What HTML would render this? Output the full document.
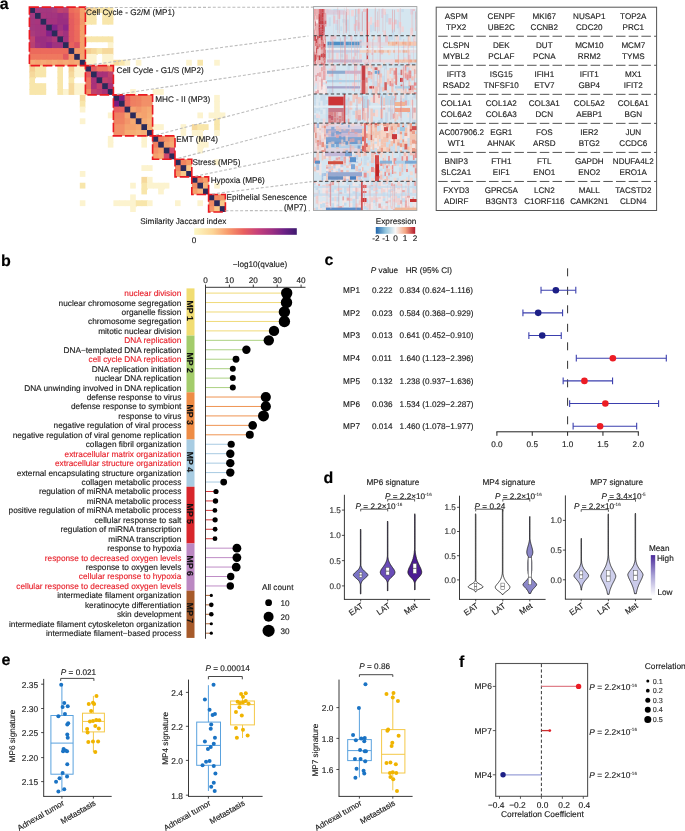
<!DOCTYPE html>
<html><head><meta charset="utf-8"><title>Figure</title>
<style>
html,body{margin:0;padding:0;background:#fff;}
body{width:685px;height:831px;overflow:hidden;}
svg{display:block;font-family:"Liberation Sans", sans-serif;text-rendering:geometricPrecision;will-change:transform;}
text{stroke-width:0.14px;stroke-linejoin:round;}
</style></head><body>
<svg width="685" height="831" viewBox="0 0 685 831">
<rect x="0" y="0" width="685" height="831" fill="#fff"/>
<defs><filter id="hmblur" x="-2%" y="-2%" width="104%" height="104%"><feGaussianBlur stdDeviation="0.3"/></filter></defs><g filter="url(#hmblur)">
<rect x="29.40" y="7.10" width="6.60" height="6.85" fill="#2b2a5a"/>
<rect x="35.00" y="7.10" width="6.60" height="6.85" fill="#a3377f"/>
<rect x="40.60" y="7.10" width="6.60" height="6.85" fill="#a3377f"/>
<rect x="46.20" y="7.10" width="6.60" height="6.85" fill="#a3377f"/>
<rect x="51.80" y="7.10" width="6.60" height="6.85" fill="#a93a7c"/>
<rect x="57.40" y="7.10" width="6.60" height="6.85" fill="#bf436f"/>
<rect x="63.00" y="7.10" width="6.60" height="6.85" fill="#b83f72"/>
<rect x="68.60" y="7.10" width="6.60" height="6.85" fill="#ec6c5c"/>
<rect x="74.20" y="7.10" width="6.60" height="6.85" fill="#ee745c"/>
<rect x="79.80" y="7.10" width="6.60" height="6.85" fill="#f4a06a"/>
<rect x="85.40" y="7.10" width="6.60" height="6.85" fill="#f5cf92"/>
<rect x="91.00" y="7.10" width="6.60" height="6.85" fill="#f6d99c"/>
<rect x="96.60" y="7.10" width="6.60" height="5.85" fill="#f8e6ab"/>
<rect x="102.20" y="7.10" width="6.60" height="6.85" fill="#f8e6ab"/>
<rect x="107.80" y="7.10" width="5.60" height="6.85" fill="#f8e6ab"/>
<rect x="29.40" y="12.95" width="6.60" height="6.85" fill="#a3377f"/>
<rect x="35.00" y="12.95" width="6.60" height="6.85" fill="#2b2a5a"/>
<rect x="40.60" y="12.95" width="6.60" height="6.85" fill="#a8357d"/>
<rect x="46.20" y="12.95" width="6.60" height="6.85" fill="#a3347f"/>
<rect x="51.80" y="12.95" width="6.60" height="6.85" fill="#a3347f"/>
<rect x="57.40" y="12.95" width="6.60" height="6.85" fill="#9c2f80"/>
<rect x="63.00" y="12.95" width="6.60" height="6.85" fill="#a0307f"/>
<rect x="68.60" y="12.95" width="6.60" height="6.85" fill="#e6605c"/>
<rect x="74.20" y="12.95" width="6.60" height="6.85" fill="#ed6d5c"/>
<rect x="79.80" y="12.95" width="6.60" height="6.85" fill="#f4a06a"/>
<rect x="85.40" y="12.95" width="6.60" height="6.85" fill="#f8e6ab"/>
<rect x="91.00" y="12.95" width="5.60" height="6.85" fill="#f8e6ab"/>
<rect x="102.20" y="12.95" width="6.60" height="6.85" fill="#f8e6ab"/>
<rect x="107.80" y="12.95" width="5.60" height="6.85" fill="#f8e6ab"/>
<rect x="29.40" y="18.81" width="6.60" height="6.85" fill="#a3377f"/>
<rect x="35.00" y="18.81" width="6.60" height="6.85" fill="#a8357d"/>
<rect x="40.60" y="18.81" width="6.60" height="6.85" fill="#2b2a5a"/>
<rect x="46.20" y="18.81" width="6.60" height="6.85" fill="#a5337e"/>
<rect x="51.80" y="18.81" width="6.60" height="6.85" fill="#a5337e"/>
<rect x="57.40" y="18.81" width="6.60" height="6.85" fill="#9a2e80"/>
<rect x="63.00" y="18.81" width="6.60" height="6.85" fill="#9a2e80"/>
<rect x="68.60" y="18.81" width="6.60" height="6.85" fill="#e45c5e"/>
<rect x="74.20" y="18.81" width="6.60" height="6.85" fill="#ec6a5c"/>
<rect x="79.80" y="18.81" width="6.60" height="6.85" fill="#f3986a"/>
<rect x="85.40" y="18.81" width="6.60" height="5.85" fill="#f8e6ab"/>
<rect x="91.00" y="18.81" width="5.60" height="5.85" fill="#f8e6ab"/>
<rect x="102.20" y="18.81" width="6.60" height="5.85" fill="#f8e6ab"/>
<rect x="107.80" y="18.81" width="5.60" height="5.85" fill="#f8e6ab"/>
<rect x="29.40" y="24.66" width="6.60" height="6.85" fill="#a3377f"/>
<rect x="35.00" y="24.66" width="6.60" height="6.85" fill="#a3347f"/>
<rect x="40.60" y="24.66" width="6.60" height="6.85" fill="#a5337e"/>
<rect x="46.20" y="24.66" width="6.60" height="6.85" fill="#2b2a5a"/>
<rect x="51.80" y="24.66" width="6.60" height="6.85" fill="#84208a"/>
<rect x="57.40" y="24.66" width="6.60" height="6.85" fill="#a0307f"/>
<rect x="63.00" y="24.66" width="6.60" height="6.85" fill="#8e2588"/>
<rect x="68.60" y="24.66" width="6.60" height="6.85" fill="#e45c5e"/>
<rect x="74.20" y="24.66" width="6.60" height="6.85" fill="#ed6d5c"/>
<rect x="79.80" y="24.66" width="5.60" height="6.85" fill="#f4a06a"/>
<rect x="29.40" y="30.52" width="6.60" height="6.85" fill="#a93a7c"/>
<rect x="35.00" y="30.52" width="6.60" height="6.85" fill="#a3347f"/>
<rect x="40.60" y="30.52" width="6.60" height="6.85" fill="#a5337e"/>
<rect x="46.20" y="30.52" width="6.60" height="6.85" fill="#84208a"/>
<rect x="51.80" y="30.52" width="6.60" height="6.85" fill="#2b2a5a"/>
<rect x="57.40" y="30.52" width="6.60" height="6.85" fill="#b0387a"/>
<rect x="63.00" y="30.52" width="6.60" height="6.85" fill="#a0307f"/>
<rect x="68.60" y="30.52" width="6.60" height="6.85" fill="#e45c5e"/>
<rect x="74.20" y="30.52" width="6.60" height="6.85" fill="#ec6a5c"/>
<rect x="79.80" y="30.52" width="5.60" height="6.85" fill="#f4a06a"/>
<rect x="29.40" y="36.37" width="6.60" height="6.85" fill="#bf436f"/>
<rect x="35.00" y="36.37" width="6.60" height="6.85" fill="#9c2f80"/>
<rect x="40.60" y="36.37" width="6.60" height="6.85" fill="#9a2e80"/>
<rect x="46.20" y="36.37" width="6.60" height="6.85" fill="#a0307f"/>
<rect x="51.80" y="36.37" width="6.60" height="6.85" fill="#b0387a"/>
<rect x="57.40" y="36.37" width="6.60" height="6.85" fill="#2b2a5a"/>
<rect x="63.00" y="36.37" width="6.60" height="6.85" fill="#a0307f"/>
<rect x="68.60" y="36.37" width="6.60" height="6.85" fill="#e45c5e"/>
<rect x="74.20" y="36.37" width="6.60" height="6.85" fill="#ec6a5c"/>
<rect x="79.80" y="36.37" width="6.60" height="6.85" fill="#f4a06a"/>
<rect x="85.40" y="36.37" width="6.60" height="5.85" fill="#f8e6ab"/>
<rect x="91.00" y="36.37" width="6.60" height="5.85" fill="#f8e6ab"/>
<rect x="96.60" y="36.37" width="6.60" height="5.85" fill="#f8e6ab"/>
<rect x="102.20" y="36.37" width="6.60" height="5.85" fill="#f8e6ab"/>
<rect x="107.80" y="36.37" width="5.60" height="6.85" fill="#f8e6ab"/>
<rect x="29.40" y="42.22" width="6.60" height="6.85" fill="#b83f72"/>
<rect x="35.00" y="42.22" width="6.60" height="6.85" fill="#a0307f"/>
<rect x="40.60" y="42.22" width="6.60" height="6.85" fill="#9a2e80"/>
<rect x="46.20" y="42.22" width="6.60" height="6.85" fill="#8e2588"/>
<rect x="51.80" y="42.22" width="6.60" height="6.85" fill="#a0307f"/>
<rect x="57.40" y="42.22" width="6.60" height="6.85" fill="#a0307f"/>
<rect x="63.00" y="42.22" width="6.60" height="6.85" fill="#2b2a5a"/>
<rect x="68.60" y="42.22" width="6.60" height="6.85" fill="#e8645d"/>
<rect x="74.20" y="42.22" width="6.60" height="6.85" fill="#dc5262"/>
<rect x="79.80" y="42.22" width="5.60" height="6.85" fill="#f4a06a"/>
<rect x="107.80" y="42.22" width="5.60" height="6.85" fill="#fcf3cf"/>
<rect x="29.40" y="48.08" width="6.60" height="6.85" fill="#ec6a5c"/>
<rect x="35.00" y="48.08" width="6.60" height="6.85" fill="#ec6a5c"/>
<rect x="40.60" y="48.08" width="6.60" height="6.85" fill="#ec6a5c"/>
<rect x="46.20" y="48.08" width="6.60" height="6.85" fill="#ec6a5c"/>
<rect x="51.80" y="48.08" width="6.60" height="6.85" fill="#ec6a5c"/>
<rect x="57.40" y="48.08" width="6.60" height="6.85" fill="#ec6a5c"/>
<rect x="63.00" y="48.08" width="6.60" height="6.85" fill="#ec6a5c"/>
<rect x="68.60" y="48.08" width="6.60" height="6.85" fill="#2b2a5a"/>
<rect x="74.20" y="48.08" width="6.60" height="6.85" fill="#f29868"/>
<rect x="79.80" y="48.08" width="6.60" height="6.85" fill="#f4a06a"/>
<rect x="85.40" y="48.08" width="6.60" height="6.85" fill="#f5cf92"/>
<rect x="91.00" y="48.08" width="6.60" height="6.85" fill="#f6d99c"/>
<rect x="96.60" y="48.08" width="6.60" height="5.85" fill="#f8e6ab"/>
<rect x="102.20" y="48.08" width="6.60" height="6.85" fill="#f6d99c"/>
<rect x="107.80" y="48.08" width="5.60" height="6.85" fill="#f6d99c"/>
<rect x="29.40" y="53.93" width="6.60" height="6.85" fill="#ef785e"/>
<rect x="35.00" y="53.93" width="6.60" height="6.85" fill="#ef785e"/>
<rect x="40.60" y="53.93" width="6.60" height="6.85" fill="#ef785e"/>
<rect x="46.20" y="53.93" width="6.60" height="6.85" fill="#ef785e"/>
<rect x="51.80" y="53.93" width="6.60" height="6.85" fill="#ef785e"/>
<rect x="57.40" y="53.93" width="6.60" height="6.85" fill="#ef785e"/>
<rect x="63.00" y="53.93" width="6.60" height="6.85" fill="#e25a60"/>
<rect x="68.60" y="53.93" width="6.60" height="6.85" fill="#f29868"/>
<rect x="74.20" y="53.93" width="6.60" height="6.85" fill="#2b2a5a"/>
<rect x="79.80" y="53.93" width="6.60" height="6.85" fill="#f4a470"/>
<rect x="85.40" y="53.93" width="6.60" height="6.85" fill="#fcf3cf"/>
<rect x="91.00" y="53.93" width="5.60" height="6.85" fill="#fcf3cf"/>
<rect x="102.20" y="53.93" width="6.60" height="6.85" fill="#fcf3cf"/>
<rect x="107.80" y="53.93" width="5.60" height="6.85" fill="#fcf3cf"/>
<rect x="29.40" y="59.79" width="6.60" height="6.85" fill="#f5aa74"/>
<rect x="35.00" y="59.79" width="6.60" height="6.85" fill="#f4a470"/>
<rect x="40.60" y="59.79" width="6.60" height="6.85" fill="#f5aa74"/>
<rect x="46.20" y="59.79" width="6.60" height="5.85" fill="#f4a470"/>
<rect x="51.80" y="59.79" width="6.60" height="5.85" fill="#f5aa74"/>
<rect x="57.40" y="59.79" width="6.60" height="6.85" fill="#f4a470"/>
<rect x="63.00" y="59.79" width="6.60" height="5.85" fill="#f5aa74"/>
<rect x="68.60" y="59.79" width="6.60" height="6.85" fill="#f4a470"/>
<rect x="74.20" y="59.79" width="6.60" height="6.85" fill="#f5aa74"/>
<rect x="79.80" y="59.79" width="6.60" height="6.85" fill="#2b2a5a"/>
<rect x="85.40" y="59.79" width="6.60" height="6.85" fill="#fcf3cf"/>
<rect x="91.00" y="59.79" width="5.60" height="6.85" fill="#fcf3cf"/>
<rect x="102.20" y="59.79" width="6.60" height="6.85" fill="#fcf3cf"/>
<rect x="107.80" y="59.79" width="6.60" height="6.85" fill="#fcf3cf"/>
<rect x="113.40" y="59.79" width="6.60" height="5.85" fill="#f6d99c"/>
<rect x="119.00" y="59.79" width="6.60" height="5.85" fill="#f8e6ab"/>
<rect x="124.60" y="59.79" width="5.60" height="5.85" fill="#fcf3cf"/>
<rect x="135.80" y="59.79" width="5.60" height="5.85" fill="#fcf3cf"/>
<rect x="186.20" y="59.79" width="5.60" height="5.85" fill="#fcf3cf"/>
<rect x="197.40" y="59.79" width="5.60" height="5.85" fill="#f8e6ab"/>
<rect x="214.20" y="59.79" width="5.60" height="5.85" fill="#fcf3cf"/>
<rect x="29.40" y="65.64" width="6.60" height="6.85" fill="#f5cf92"/>
<rect x="35.00" y="65.64" width="6.60" height="6.85" fill="#f8e6ab"/>
<rect x="40.60" y="65.64" width="5.60" height="6.85" fill="#f8e6ab"/>
<rect x="57.40" y="65.64" width="5.60" height="6.85" fill="#f8e6ab"/>
<rect x="68.60" y="65.64" width="6.60" height="6.85" fill="#f5cf92"/>
<rect x="74.20" y="65.64" width="6.60" height="6.85" fill="#fcf3cf"/>
<rect x="79.80" y="65.64" width="6.60" height="6.85" fill="#fcf3cf"/>
<rect x="85.40" y="65.64" width="6.60" height="6.85" fill="#2b2a5a"/>
<rect x="91.00" y="65.64" width="6.60" height="6.85" fill="#e35a5e"/>
<rect x="96.60" y="65.64" width="6.60" height="6.85" fill="#ec7560"/>
<rect x="102.20" y="65.64" width="6.60" height="6.85" fill="#ec7560"/>
<rect x="107.80" y="65.64" width="5.60" height="6.85" fill="#f08a62"/>
<rect x="29.40" y="71.49" width="6.60" height="6.85" fill="#f6d99c"/>
<rect x="35.00" y="71.49" width="6.60" height="5.85" fill="#f8e6ab"/>
<rect x="40.60" y="71.49" width="5.60" height="5.85" fill="#f8e6ab"/>
<rect x="57.40" y="71.49" width="5.60" height="6.85" fill="#f8e6ab"/>
<rect x="68.60" y="71.49" width="6.60" height="6.85" fill="#f6d99c"/>
<rect x="74.20" y="71.49" width="6.60" height="5.85" fill="#fcf3cf"/>
<rect x="79.80" y="71.49" width="6.60" height="5.85" fill="#fcf3cf"/>
<rect x="85.40" y="71.49" width="6.60" height="6.85" fill="#e35a5e"/>
<rect x="91.00" y="71.49" width="6.60" height="6.85" fill="#2b2a5a"/>
<rect x="96.60" y="71.49" width="6.60" height="6.85" fill="#a83079"/>
<rect x="102.20" y="71.49" width="6.60" height="6.85" fill="#a83079"/>
<rect x="107.80" y="71.49" width="5.60" height="6.85" fill="#c0406c"/>
<rect x="29.40" y="77.35" width="5.60" height="6.85" fill="#f8e6ab"/>
<rect x="57.40" y="77.35" width="5.60" height="6.85" fill="#f8e6ab"/>
<rect x="68.60" y="77.35" width="5.60" height="6.85" fill="#f8e6ab"/>
<rect x="85.40" y="77.35" width="6.60" height="6.85" fill="#ec7560"/>
<rect x="91.00" y="77.35" width="6.60" height="6.85" fill="#a83079"/>
<rect x="96.60" y="77.35" width="6.60" height="6.85" fill="#2b2a5a"/>
<rect x="102.20" y="77.35" width="6.60" height="6.85" fill="#c2406c"/>
<rect x="107.80" y="77.35" width="5.60" height="6.85" fill="#b83a70"/>
<rect x="29.40" y="83.20" width="6.60" height="6.85" fill="#f8e6ab"/>
<rect x="35.00" y="83.20" width="6.60" height="6.85" fill="#f8e6ab"/>
<rect x="40.60" y="83.20" width="5.60" height="6.85" fill="#f8e6ab"/>
<rect x="57.40" y="83.20" width="5.60" height="6.85" fill="#f8e6ab"/>
<rect x="68.60" y="83.20" width="6.60" height="6.85" fill="#f6d99c"/>
<rect x="74.20" y="83.20" width="6.60" height="6.85" fill="#fcf3cf"/>
<rect x="79.80" y="83.20" width="6.60" height="6.85" fill="#fcf3cf"/>
<rect x="85.40" y="83.20" width="6.60" height="6.85" fill="#ec7560"/>
<rect x="91.00" y="83.20" width="6.60" height="6.85" fill="#a83079"/>
<rect x="96.60" y="83.20" width="6.60" height="6.85" fill="#c2406c"/>
<rect x="102.20" y="83.20" width="6.60" height="6.85" fill="#2b2a5a"/>
<rect x="107.80" y="83.20" width="5.60" height="6.85" fill="#a93077"/>
<rect x="29.40" y="89.06" width="6.60" height="5.85" fill="#f8e6ab"/>
<rect x="35.00" y="89.06" width="6.60" height="5.85" fill="#f8e6ab"/>
<rect x="40.60" y="89.06" width="5.60" height="5.85" fill="#f8e6ab"/>
<rect x="57.40" y="89.06" width="6.60" height="5.85" fill="#f8e6ab"/>
<rect x="63.00" y="89.06" width="6.60" height="5.85" fill="#fcf3cf"/>
<rect x="68.60" y="89.06" width="6.60" height="5.85" fill="#f6d99c"/>
<rect x="74.20" y="89.06" width="6.60" height="5.85" fill="#fcf3cf"/>
<rect x="79.80" y="89.06" width="6.60" height="6.85" fill="#fcf3cf"/>
<rect x="85.40" y="89.06" width="6.60" height="5.85" fill="#f08a62"/>
<rect x="91.00" y="89.06" width="6.60" height="5.85" fill="#c0406c"/>
<rect x="96.60" y="89.06" width="6.60" height="5.85" fill="#b83a70"/>
<rect x="102.20" y="89.06" width="6.60" height="5.85" fill="#a93077"/>
<rect x="107.80" y="89.06" width="5.60" height="5.85" fill="#2b2a5a"/>
<rect x="130.20" y="89.06" width="5.60" height="6.85" fill="#fcf3cf"/>
<rect x="152.60" y="89.06" width="6.60" height="5.85" fill="#fcf3cf"/>
<rect x="158.20" y="89.06" width="5.60" height="5.85" fill="#fcf3cf"/>
<rect x="79.80" y="94.91" width="5.60" height="6.85" fill="#f6d99c"/>
<rect x="113.40" y="94.91" width="6.60" height="6.85" fill="#2b2a5a"/>
<rect x="119.00" y="94.91" width="6.60" height="6.85" fill="#7b1d80"/>
<rect x="124.60" y="94.91" width="6.60" height="6.85" fill="#e8605e"/>
<rect x="130.20" y="94.91" width="6.60" height="6.85" fill="#ef7f62"/>
<rect x="135.80" y="94.91" width="6.60" height="6.85" fill="#ef8362"/>
<rect x="141.40" y="94.91" width="6.60" height="6.85" fill="#f29068"/>
<rect x="147.00" y="94.91" width="5.60" height="6.85" fill="#f29068"/>
<rect x="214.20" y="94.91" width="5.60" height="6.85" fill="#fcf3cf"/>
<rect x="79.80" y="100.76" width="5.60" height="6.85" fill="#f8e6ab"/>
<rect x="113.40" y="100.76" width="6.60" height="6.85" fill="#7b1d80"/>
<rect x="119.00" y="100.76" width="6.60" height="6.85" fill="#2b2a5a"/>
<rect x="124.60" y="100.76" width="6.60" height="6.85" fill="#e8645e"/>
<rect x="130.20" y="100.76" width="6.60" height="6.85" fill="#ef7f62"/>
<rect x="135.80" y="100.76" width="6.60" height="6.85" fill="#ef8362"/>
<rect x="141.40" y="100.76" width="6.60" height="6.85" fill="#f29068"/>
<rect x="147.00" y="100.76" width="5.60" height="6.85" fill="#f29068"/>
<rect x="214.20" y="100.76" width="5.60" height="6.85" fill="#fcf3cf"/>
<rect x="79.80" y="106.62" width="5.60" height="5.85" fill="#fcf3cf"/>
<rect x="113.40" y="106.62" width="6.60" height="6.85" fill="#e8605e"/>
<rect x="119.00" y="106.62" width="6.60" height="6.85" fill="#e8645e"/>
<rect x="124.60" y="106.62" width="6.60" height="6.85" fill="#2b2a5a"/>
<rect x="130.20" y="106.62" width="6.60" height="6.85" fill="#f4a26e"/>
<rect x="135.80" y="106.62" width="6.60" height="6.85" fill="#f2966a"/>
<rect x="141.40" y="106.62" width="6.60" height="6.85" fill="#f4a26e"/>
<rect x="147.00" y="106.62" width="5.60" height="6.85" fill="#f5aa72"/>
<rect x="214.20" y="106.62" width="5.60" height="6.85" fill="#fcf3cf"/>
<rect x="107.80" y="112.47" width="6.60" height="5.85" fill="#fcf3cf"/>
<rect x="113.40" y="112.47" width="6.60" height="6.85" fill="#ef7f62"/>
<rect x="119.00" y="112.47" width="6.60" height="6.85" fill="#ef7f62"/>
<rect x="124.60" y="112.47" width="6.60" height="6.85" fill="#f4a26e"/>
<rect x="130.20" y="112.47" width="6.60" height="6.85" fill="#2b2a5a"/>
<rect x="135.80" y="112.47" width="6.60" height="6.85" fill="#f5a870"/>
<rect x="141.40" y="112.47" width="6.60" height="6.85" fill="#f4a26e"/>
<rect x="147.00" y="112.47" width="5.60" height="6.85" fill="#f5ae74"/>
<rect x="197.40" y="112.47" width="5.60" height="5.85" fill="#fcf3cf"/>
<rect x="208.60" y="112.47" width="6.60" height="5.85" fill="#fcf3cf"/>
<rect x="214.20" y="112.47" width="6.60" height="6.85" fill="#fcf3cf"/>
<rect x="219.80" y="112.47" width="5.60" height="5.85" fill="#fcf3cf"/>
<rect x="79.80" y="118.33" width="5.60" height="5.85" fill="#fcf3cf"/>
<rect x="113.40" y="118.33" width="6.60" height="6.85" fill="#ef8362"/>
<rect x="119.00" y="118.33" width="6.60" height="6.85" fill="#ef8362"/>
<rect x="124.60" y="118.33" width="6.60" height="6.85" fill="#f2966a"/>
<rect x="130.20" y="118.33" width="6.60" height="6.85" fill="#f5a870"/>
<rect x="135.80" y="118.33" width="6.60" height="6.85" fill="#2b2a5a"/>
<rect x="141.40" y="118.33" width="6.60" height="6.85" fill="#f5aa72"/>
<rect x="147.00" y="118.33" width="5.60" height="6.85" fill="#f6b47a"/>
<rect x="214.20" y="118.33" width="5.60" height="6.85" fill="#f8e6ab"/>
<rect x="113.40" y="124.18" width="6.60" height="6.85" fill="#f29068"/>
<rect x="119.00" y="124.18" width="6.60" height="6.85" fill="#f29068"/>
<rect x="124.60" y="124.18" width="6.60" height="6.85" fill="#f4a26e"/>
<rect x="130.20" y="124.18" width="6.60" height="6.85" fill="#f4a26e"/>
<rect x="135.80" y="124.18" width="6.60" height="6.85" fill="#f5aa72"/>
<rect x="141.40" y="124.18" width="6.60" height="6.85" fill="#2b2a5a"/>
<rect x="147.00" y="124.18" width="6.60" height="6.85" fill="#f5ae74"/>
<rect x="152.60" y="124.18" width="6.60" height="5.85" fill="#fcf3cf"/>
<rect x="158.20" y="124.18" width="5.60" height="5.85" fill="#fcf3cf"/>
<rect x="180.60" y="124.18" width="5.60" height="6.85" fill="#fcf3cf"/>
<rect x="191.80" y="124.18" width="6.60" height="6.85" fill="#f6d99c"/>
<rect x="197.40" y="124.18" width="6.60" height="6.85" fill="#f8e6ab"/>
<rect x="203.00" y="124.18" width="5.60" height="5.85" fill="#f8e6ab"/>
<rect x="214.20" y="124.18" width="5.60" height="6.85" fill="#f8e6ab"/>
<rect x="113.40" y="130.03" width="6.60" height="5.85" fill="#f29068"/>
<rect x="119.00" y="130.03" width="6.60" height="5.85" fill="#f29068"/>
<rect x="124.60" y="130.03" width="6.60" height="5.85" fill="#f5aa72"/>
<rect x="130.20" y="130.03" width="6.60" height="5.85" fill="#f5ae74"/>
<rect x="135.80" y="130.03" width="6.60" height="5.85" fill="#f6b47a"/>
<rect x="141.40" y="130.03" width="6.60" height="6.85" fill="#f5ae74"/>
<rect x="147.00" y="130.03" width="5.60" height="5.85" fill="#2b2a5a"/>
<rect x="180.60" y="130.03" width="5.60" height="5.85" fill="#fcf3cf"/>
<rect x="191.80" y="130.03" width="6.60" height="5.85" fill="#fcf3cf"/>
<rect x="197.40" y="130.03" width="5.60" height="6.85" fill="#fcf3cf"/>
<rect x="214.20" y="130.03" width="5.60" height="5.85" fill="#fcf3cf"/>
<rect x="107.80" y="135.89" width="5.60" height="6.85" fill="#fcf3cf"/>
<rect x="141.40" y="135.89" width="5.60" height="6.85" fill="#fcf3cf"/>
<rect x="152.60" y="135.89" width="6.60" height="6.85" fill="#2b2a5a"/>
<rect x="158.20" y="135.89" width="6.60" height="6.85" fill="#f07f60"/>
<rect x="163.80" y="135.89" width="6.60" height="6.85" fill="#f29068"/>
<rect x="169.40" y="135.89" width="5.60" height="6.85" fill="#f4a06c"/>
<rect x="197.40" y="135.89" width="5.60" height="6.85" fill="#fcf3cf"/>
<rect x="107.80" y="141.74" width="5.60" height="5.85" fill="#fcf3cf"/>
<rect x="141.40" y="141.74" width="5.60" height="5.85" fill="#fcf3cf"/>
<rect x="152.60" y="141.74" width="6.60" height="6.85" fill="#f07f60"/>
<rect x="158.20" y="141.74" width="6.60" height="6.85" fill="#2b2a5a"/>
<rect x="163.80" y="141.74" width="6.60" height="6.85" fill="#f4a06c"/>
<rect x="169.40" y="141.74" width="5.60" height="6.85" fill="#f5aa72"/>
<rect x="197.40" y="141.74" width="6.60" height="6.85" fill="#fcf3cf"/>
<rect x="203.00" y="141.74" width="5.60" height="5.85" fill="#fcf3cf"/>
<rect x="152.60" y="147.60" width="6.60" height="6.85" fill="#f29068"/>
<rect x="158.20" y="147.60" width="6.60" height="6.85" fill="#f4a06c"/>
<rect x="163.80" y="147.60" width="6.60" height="6.85" fill="#2b2a5a"/>
<rect x="169.40" y="147.60" width="5.60" height="6.85" fill="#d0486a"/>
<rect x="197.40" y="147.60" width="5.60" height="5.85" fill="#fcf3cf"/>
<rect x="152.60" y="153.45" width="6.60" height="5.85" fill="#f4a06c"/>
<rect x="158.20" y="153.45" width="6.60" height="5.85" fill="#f5aa72"/>
<rect x="163.80" y="153.45" width="6.60" height="5.85" fill="#d0486a"/>
<rect x="169.40" y="153.45" width="5.60" height="5.85" fill="#2b2a5a"/>
<rect x="175.00" y="159.30" width="6.60" height="6.85" fill="#2b2a5a"/>
<rect x="180.60" y="159.30" width="6.60" height="6.85" fill="#f0855f"/>
<rect x="186.20" y="159.30" width="5.60" height="6.85" fill="#f29a66"/>
<rect x="214.20" y="159.30" width="5.60" height="5.85" fill="#fcf3cf"/>
<rect x="141.40" y="165.16" width="6.60" height="5.85" fill="#fcf3cf"/>
<rect x="147.00" y="165.16" width="5.60" height="5.85" fill="#fcf3cf"/>
<rect x="175.00" y="165.16" width="6.60" height="6.85" fill="#f0855f"/>
<rect x="180.60" y="165.16" width="6.60" height="6.85" fill="#2b2a5a"/>
<rect x="186.20" y="165.16" width="5.60" height="6.85" fill="#f8c888"/>
<rect x="79.80" y="171.01" width="5.60" height="5.85" fill="#fcf3cf"/>
<rect x="175.00" y="171.01" width="6.60" height="5.85" fill="#f29a66"/>
<rect x="180.60" y="171.01" width="6.60" height="5.85" fill="#f8c888"/>
<rect x="186.20" y="171.01" width="5.60" height="5.85" fill="#2b2a5a"/>
<rect x="141.40" y="176.87" width="6.60" height="6.85" fill="#f6d99c"/>
<rect x="147.00" y="176.87" width="5.60" height="6.85" fill="#fcf3cf"/>
<rect x="191.80" y="176.87" width="6.60" height="6.85" fill="#2b2a5a"/>
<rect x="197.40" y="176.87" width="6.60" height="6.85" fill="#f08a62"/>
<rect x="203.00" y="176.87" width="5.60" height="6.85" fill="#f4a06c"/>
<rect x="79.80" y="182.72" width="5.60" height="5.85" fill="#f8e6ab"/>
<rect x="130.20" y="182.72" width="5.60" height="5.85" fill="#fcf3cf"/>
<rect x="141.40" y="182.72" width="6.60" height="6.85" fill="#f8e6ab"/>
<rect x="147.00" y="182.72" width="6.60" height="5.85" fill="#fcf3cf"/>
<rect x="152.60" y="182.72" width="6.60" height="5.85" fill="#fcf3cf"/>
<rect x="158.20" y="182.72" width="6.60" height="6.85" fill="#fcf3cf"/>
<rect x="163.80" y="182.72" width="5.60" height="5.85" fill="#fcf3cf"/>
<rect x="191.80" y="182.72" width="6.60" height="6.85" fill="#f08a62"/>
<rect x="197.40" y="182.72" width="6.60" height="6.85" fill="#2b2a5a"/>
<rect x="203.00" y="182.72" width="5.60" height="6.85" fill="#f6b47c"/>
<rect x="214.20" y="182.72" width="5.60" height="5.85" fill="#fcf3cf"/>
<rect x="141.40" y="188.57" width="5.60" height="5.85" fill="#f8e6ab"/>
<rect x="158.20" y="188.57" width="5.60" height="5.85" fill="#fcf3cf"/>
<rect x="191.80" y="188.57" width="6.60" height="5.85" fill="#f4a06c"/>
<rect x="197.40" y="188.57" width="6.60" height="5.85" fill="#f6b47c"/>
<rect x="203.00" y="188.57" width="5.60" height="5.85" fill="#2b2a5a"/>
<rect x="130.20" y="194.43" width="5.60" height="6.85" fill="#fcf3cf"/>
<rect x="208.60" y="194.43" width="6.60" height="6.85" fill="#2b2a5a"/>
<rect x="214.20" y="194.43" width="6.60" height="6.85" fill="#f08a62"/>
<rect x="219.80" y="194.43" width="5.60" height="6.85" fill="#f3966a"/>
<rect x="79.80" y="200.28" width="5.60" height="5.85" fill="#fcf3cf"/>
<rect x="113.40" y="200.28" width="6.60" height="5.85" fill="#fcf3cf"/>
<rect x="119.00" y="200.28" width="6.60" height="5.85" fill="#fcf3cf"/>
<rect x="124.60" y="200.28" width="6.60" height="5.85" fill="#fcf3cf"/>
<rect x="130.20" y="200.28" width="6.60" height="6.85" fill="#fcf3cf"/>
<rect x="135.80" y="200.28" width="6.60" height="5.85" fill="#f8e6ab"/>
<rect x="141.40" y="200.28" width="6.60" height="5.85" fill="#f8e6ab"/>
<rect x="147.00" y="200.28" width="5.60" height="5.85" fill="#fcf3cf"/>
<rect x="175.00" y="200.28" width="5.60" height="5.85" fill="#fcf3cf"/>
<rect x="197.40" y="200.28" width="5.60" height="5.85" fill="#fcf3cf"/>
<rect x="208.60" y="200.28" width="6.60" height="6.85" fill="#f08a62"/>
<rect x="214.20" y="200.28" width="6.60" height="6.85" fill="#2b2a5a"/>
<rect x="219.80" y="200.28" width="5.60" height="6.85" fill="#f8c888"/>
<rect x="130.20" y="206.14" width="5.60" height="5.85" fill="#fcf3cf"/>
<rect x="208.60" y="206.14" width="6.60" height="5.85" fill="#f3966a"/>
<rect x="214.20" y="206.14" width="6.60" height="5.85" fill="#f8c888"/>
<rect x="219.80" y="206.14" width="5.60" height="5.85" fill="#2b2a5a"/>
</g>
<rect x="29.40" y="7.10" width="56.00" height="58.54" fill="none" stroke="#ea1a22" stroke-width="1.6" stroke-dasharray="9.5 2.8"/>
<rect x="85.40" y="65.64" width="28.00" height="29.27" fill="none" stroke="#ea1a22" stroke-width="1.6" stroke-dasharray="9.5 2.8"/>
<rect x="113.40" y="94.91" width="39.20" height="40.98" fill="none" stroke="#ea1a22" stroke-width="1.6" stroke-dasharray="9.5 2.8"/>
<rect x="152.60" y="135.89" width="22.40" height="23.42" fill="none" stroke="#ea1a22" stroke-width="1.6" stroke-dasharray="9.5 2.8"/>
<rect x="175.00" y="159.30" width="16.80" height="17.56" fill="none" stroke="#ea1a22" stroke-width="1.6" stroke-dasharray="9.5 2.8"/>
<rect x="191.80" y="176.87" width="16.80" height="17.56" fill="none" stroke="#ea1a22" stroke-width="1.6" stroke-dasharray="9.5 2.8"/>
<rect x="208.60" y="194.43" width="16.80" height="17.56" fill="none" stroke="#ea1a22" stroke-width="1.6" stroke-dasharray="9.5 2.8"/>
<line x1="85.40" y1="7.60" x2="313.00" y2="7.10" stroke="#bcbcbc" stroke-width="1.1" stroke-dasharray="3.0 1.9"/>
<line x1="88.90" y1="65.04" x2="308.50" y2="36.00" stroke="#bcbcbc" stroke-width="1.1" stroke-dasharray="3.0 1.9"/>
<line x1="116.90" y1="94.37" x2="310.00" y2="65.40" stroke="#bcbcbc" stroke-width="1.1" stroke-dasharray="3.0 1.9"/>
<line x1="156.10" y1="134.99" x2="311.50" y2="94.40" stroke="#bcbcbc" stroke-width="1.1" stroke-dasharray="3.0 1.9"/>
<line x1="178.50" y1="158.38" x2="311.50" y2="123.50" stroke="#bcbcbc" stroke-width="1.1" stroke-dasharray="3.0 1.9"/>
<line x1="195.30" y1="176.19" x2="311.50" y2="152.50" stroke="#bcbcbc" stroke-width="1.1" stroke-dasharray="3.0 1.9"/>
<line x1="212.10" y1="193.96" x2="311.50" y2="181.60" stroke="#bcbcbc" stroke-width="1.1" stroke-dasharray="3.0 1.9"/>
<line x1="225.40" y1="210.70" x2="310.00" y2="210.60" stroke="#bcbcbc" stroke-width="1.1" stroke-dasharray="3.0 1.9"/>
<text x="86.00" y="15.15" font-size="8.2" text-anchor="start" fill="#1a1a1a" stroke="#1a1a1a" font-weight="normal" font-style="normal" >Cell Cycle - G2/M (MP1)</text>
<text x="116.50" y="73.25" font-size="8.2" text-anchor="start" fill="#1a1a1a" stroke="#1a1a1a" font-weight="normal" font-style="normal" >Cell Cycle - G1/S (MP2)</text>
<text x="155.20" y="101.55" font-size="8.2" text-anchor="start" fill="#1a1a1a" stroke="#1a1a1a" font-weight="normal" font-style="normal" >MHC - II (MP3)</text>
<text x="176.30" y="141.75" font-size="8.2" text-anchor="start" fill="#1a1a1a" stroke="#1a1a1a" font-weight="normal" font-style="normal" >EMT (MP4)</text>
<text x="192.60" y="164.65" font-size="8.2" text-anchor="start" fill="#1a1a1a" stroke="#1a1a1a" font-weight="normal" font-style="normal" >Stress (MP5)</text>
<text x="210.70" y="183.15" font-size="8.2" text-anchor="start" fill="#1a1a1a" stroke="#1a1a1a" font-weight="normal" font-style="normal" >Hypoxia (MP6)</text>
<text x="226.60" y="200.15" font-size="8.2" text-anchor="start" fill="#1a1a1a" stroke="#1a1a1a" font-weight="normal" font-style="normal" >Epithelial Senescence</text>
<text x="306.40" y="209.55" font-size="8.2" text-anchor="end" fill="#1a1a1a" stroke="#1a1a1a" font-weight="normal" font-style="normal" >(MP7)</text>
<defs><linearGradient id="magma" x1="0" x2="1" y1="0" y2="0"><stop offset="0" stop-color="#fdf8c4"/><stop offset="0.18" stop-color="#fcd596"/><stop offset="0.33" stop-color="#f89a6c"/><stop offset="0.48" stop-color="#e9605e"/><stop offset="0.62" stop-color="#c6407a"/><stop offset="0.76" stop-color="#9c2f82"/><stop offset="0.88" stop-color="#6c2186"/><stop offset="1" stop-color="#3e1a6e"/></linearGradient></defs>
<text x="140.30" y="223.95" font-size="8.2" text-anchor="start" fill="#1a1a1a" stroke="#1a1a1a" font-weight="normal" font-style="normal" >Similarity Jaccard index</text>
<rect x="194.20" y="228.20" width="102.60" height="6.60" fill="url(#magma)" />
<text x="191.80" y="243.15" font-size="8.2" text-anchor="start" fill="#1a1a1a" stroke="#1a1a1a" font-weight="normal" font-style="normal" >0</text>
<text x="-0.30" y="8.70" font-size="16" text-anchor="start" fill="#000" stroke="#000" font-weight="bold" font-style="normal" >a</text>
<defs><filter id="exblur" x="-5%" y="-5%" width="110%" height="110%"><feGaussianBlur stdDeviation="0.35"/></filter><clipPath id="exclip"><rect x="313.4" y="6.6" width="103.50" height="203.90"/></clipPath></defs>
<g clip-path="url(#exclip)"><g filter="url(#exblur)">
<rect x="311.40" y="4.60" width="107.50" height="207.90" fill="#d5e6f0" />
<rect x="326.4" y="6.6" width="2.3" height="6.4" fill="#dcd0e0"/>
<rect x="328.7" y="6.6" width="2.1" height="3.5" fill="#f0d4d8"/>
<rect x="328.7" y="17.3" width="2.1" height="8.9" fill="#c8dcec"/>
<rect x="333.3" y="6.6" width="2.0" height="9.0" fill="#c8dcec"/>
<rect x="333.3" y="15.6" width="2.0" height="8.0" fill="#e8c4cc"/>
<rect x="335.3" y="6.6" width="3.0" height="5.3" fill="#c8dcec"/>
<rect x="335.3" y="20.0" width="3.0" height="4.3" fill="#dcd0e0"/>
<rect x="335.3" y="24.3" width="3.0" height="5.8" fill="#c8dcec"/>
<rect x="335.3" y="35.5" width="3.0" height="0.3" fill="#e8c4cc"/>
<rect x="338.3" y="10.1" width="2.0" height="8.8" fill="#e8c4cc"/>
<rect x="340.3" y="26.4" width="1.9" height="4.6" fill="#c8dcec"/>
<rect x="342.2" y="19.0" width="3.0" height="3.6" fill="#c8dcec"/>
<rect x="345.2" y="19.7" width="1.7" height="5.7" fill="#c8dcec"/>
<rect x="347.0" y="6.6" width="1.8" height="8.5" fill="#f0d4d8"/>
<rect x="347.0" y="19.5" width="1.8" height="7.4" fill="#c8dcec"/>
<rect x="347.0" y="27.0" width="1.8" height="4.2" fill="#c8dcec"/>
<rect x="351.1" y="10.0" width="2.8" height="6.4" fill="#f0d4d8"/>
<rect x="353.8" y="15.6" width="1.9" height="8.3" fill="#c8dcec"/>
<rect x="353.8" y="23.9" width="1.9" height="6.9" fill="#e8c4cc"/>
<rect x="355.7" y="6.6" width="1.7" height="3.1" fill="#dcd0e0"/>
<rect x="355.7" y="9.7" width="1.7" height="7.2" fill="#c8dcec"/>
<rect x="355.7" y="20.0" width="1.7" height="5.9" fill="#e8c4cc"/>
<rect x="355.7" y="25.9" width="1.7" height="4.9" fill="#c8dcec"/>
<rect x="355.7" y="34.3" width="1.7" height="1.4" fill="#dcd0e0"/>
<rect x="357.4" y="6.6" width="2.8" height="7.2" fill="#f0d4d8"/>
<rect x="357.4" y="22.3" width="2.8" height="7.1" fill="#dcd0e0"/>
<rect x="360.1" y="31.5" width="2.9" height="4.2" fill="#f0d4d8"/>
<rect x="363.0" y="6.6" width="2.8" height="5.3" fill="#e8c4cc"/>
<rect x="365.8" y="13.8" width="2.0" height="6.7" fill="#dcd0e0"/>
<rect x="367.7" y="21.9" width="2.3" height="5.6" fill="#f0d4d8"/>
<rect x="367.7" y="27.5" width="2.3" height="8.2" fill="#f0d4d8"/>
<rect x="370.0" y="16.9" width="2.2" height="8.0" fill="#f0d4d8"/>
<rect x="370.0" y="24.9" width="2.2" height="7.3" fill="#c8dcec"/>
<rect x="372.3" y="22.7" width="2.3" height="8.0" fill="#c8dcec"/>
<rect x="374.6" y="22.1" width="1.7" height="4.9" fill="#f0d4d8"/>
<rect x="376.2" y="20.0" width="2.9" height="6.9" fill="#f0d4d8"/>
<rect x="379.2" y="34.6" width="1.9" height="1.1" fill="#e8c4cc"/>
<rect x="381.1" y="6.6" width="2.2" height="7.8" fill="#dcd0e0"/>
<rect x="381.1" y="14.4" width="2.2" height="3.5" fill="#dcd0e0"/>
<rect x="383.3" y="6.6" width="2.5" height="8.3" fill="#f0d4d8"/>
<rect x="383.3" y="30.4" width="2.5" height="5.3" fill="#f0d4d8"/>
<rect x="385.8" y="13.9" width="2.6" height="8.4" fill="#c8dcec"/>
<rect x="388.4" y="18.2" width="3.1" height="6.3" fill="#e8c4cc"/>
<rect x="391.5" y="22.3" width="2.9" height="7.3" fill="#f0d4d8"/>
<rect x="391.5" y="29.6" width="2.9" height="6.1" fill="#c8dcec"/>
<rect x="394.4" y="19.6" width="2.4" height="4.7" fill="#e8c4cc"/>
<rect x="396.8" y="6.6" width="2.1" height="5.3" fill="#f0d4d8"/>
<rect x="396.8" y="20.3" width="2.1" height="8.1" fill="#c8dcec"/>
<rect x="398.9" y="22.0" width="2.4" height="5.4" fill="#f0d4d8"/>
<rect x="401.3" y="6.6" width="2.5" height="5.5" fill="#c8dcec"/>
<rect x="401.3" y="26.5" width="2.5" height="5.6" fill="#f0d4d8"/>
<rect x="410.3" y="6.6" width="2.8" height="7.9" fill="#dcd0e0"/>
<rect x="410.3" y="27.9" width="2.8" height="7.8" fill="#f0d4d8"/>
<rect x="413.1" y="6.6" width="1.8" height="4.4" fill="#e8c4cc"/>
<rect x="414.9" y="10.8" width="1.6" height="8.5" fill="#c8dcec"/>
<rect x="416.5" y="27.1" width="0.5" height="8.0" fill="#c8dcec"/>
<rect x="313.4" y="6.6" width="103.5" height="2.4" fill="#eef2f6"/>
<rect x="313.4" y="9.0" width="1.7" height="5.8" fill="#e8a0a4"/>
<rect x="313.4" y="14.8" width="1.7" height="5.1" fill="#e8a0a4"/>
<rect x="313.4" y="19.9" width="1.7" height="3.9" fill="#f0c0c0"/>
<rect x="313.4" y="23.7" width="1.7" height="3.7" fill="#f0c0c0"/>
<rect x="313.4" y="27.5" width="1.7" height="2.1" fill="#f0c0c0"/>
<rect x="313.4" y="29.5" width="1.7" height="5.4" fill="#e8a0a4"/>
<rect x="313.4" y="34.9" width="1.7" height="0.8" fill="#f0c0c0"/>
<rect x="315.1" y="9.0" width="0.9" height="2.8" fill="#e8a0a4"/>
<rect x="315.1" y="11.8" width="0.9" height="4.1" fill="#e8a0a4"/>
<rect x="315.1" y="15.8" width="0.9" height="5.6" fill="#f0c0c0"/>
<rect x="315.1" y="21.4" width="0.9" height="4.8" fill="#d87078"/>
<rect x="315.1" y="26.2" width="0.9" height="4.5" fill="#e8a0a4"/>
<rect x="315.1" y="30.7" width="0.9" height="4.4" fill="#f0c0c0"/>
<rect x="315.1" y="35.1" width="0.9" height="0.6" fill="#f0c0c0"/>
<rect x="316.0" y="9.0" width="2.0" height="5.6" fill="#eab0b0"/>
<rect x="316.0" y="14.6" width="2.0" height="5.1" fill="#eab0b0"/>
<rect x="316.0" y="19.8" width="2.0" height="3.6" fill="#f8e8e8"/>
<rect x="316.0" y="23.4" width="2.0" height="5.5" fill="#eab0b0"/>
<rect x="316.0" y="28.9" width="2.0" height="5.1" fill="#eab0b0"/>
<rect x="316.0" y="34.0" width="2.0" height="1.8" fill="#eab0b0"/>
<rect x="318.0" y="9.0" width="0.5" height="3.4" fill="#f4d8d8"/>
<rect x="318.0" y="12.4" width="0.5" height="2.0" fill="#f4d8d8"/>
<rect x="318.0" y="14.4" width="0.5" height="4.6" fill="#eab0b0"/>
<rect x="318.0" y="19.0" width="0.5" height="2.9" fill="#f8e8e8"/>
<rect x="318.0" y="21.9" width="0.5" height="4.7" fill="#f4d8d8"/>
<rect x="318.0" y="26.6" width="0.5" height="4.6" fill="#eab0b0"/>
<rect x="318.0" y="31.2" width="0.5" height="4.1" fill="#f4d8d8"/>
<rect x="318.0" y="35.3" width="0.5" height="0.4" fill="#eab0b0"/>
<rect x="318.5" y="9.0" width="1.7" height="5.0" fill="#dc6a70"/>
<rect x="318.5" y="14.0" width="1.7" height="2.1" fill="#d04850"/>
<rect x="318.5" y="16.1" width="1.7" height="5.0" fill="#c83a40"/>
<rect x="318.5" y="21.1" width="1.7" height="3.6" fill="#c83a40"/>
<rect x="318.5" y="24.7" width="1.7" height="2.8" fill="#c83a40"/>
<rect x="318.5" y="27.5" width="1.7" height="2.4" fill="#c83a40"/>
<rect x="318.5" y="29.9" width="1.7" height="5.6" fill="#d04850"/>
<rect x="318.5" y="35.5" width="1.7" height="0.2" fill="#dc6a70"/>
<rect x="320.2" y="9.0" width="1.6" height="6.0" fill="#d04850"/>
<rect x="320.2" y="15.0" width="1.6" height="5.2" fill="#c83a40"/>
<rect x="320.2" y="20.2" width="1.6" height="4.4" fill="#bc2c34"/>
<rect x="320.2" y="24.6" width="1.6" height="2.2" fill="#dc6a70"/>
<rect x="320.2" y="26.8" width="1.6" height="2.6" fill="#d04850"/>
<rect x="320.2" y="29.4" width="1.6" height="2.7" fill="#d04850"/>
<rect x="320.2" y="32.1" width="1.6" height="3.6" fill="#c83a40"/>
<rect x="321.8" y="9.0" width="1.9" height="3.7" fill="#d04850"/>
<rect x="321.8" y="12.7" width="1.9" height="4.4" fill="#c83a40"/>
<rect x="321.8" y="17.1" width="1.9" height="3.1" fill="#d04850"/>
<rect x="321.8" y="20.2" width="1.9" height="4.2" fill="#c83a40"/>
<rect x="321.8" y="24.5" width="1.9" height="4.9" fill="#c83a40"/>
<rect x="321.8" y="29.3" width="1.9" height="2.1" fill="#c83a40"/>
<rect x="321.8" y="31.4" width="1.9" height="2.2" fill="#c83a40"/>
<rect x="321.8" y="33.6" width="1.9" height="2.2" fill="#c83a40"/>
<rect x="323.7" y="9.0" width="0.9" height="5.0" fill="#c83a40"/>
<rect x="323.7" y="14.0" width="0.9" height="6.0" fill="#dc6a70"/>
<rect x="323.7" y="19.9" width="0.9" height="2.3" fill="#dc6a70"/>
<rect x="323.7" y="22.2" width="0.9" height="3.7" fill="#d04850"/>
<rect x="323.7" y="26.0" width="0.9" height="5.9" fill="#c83a40"/>
<rect x="323.7" y="31.9" width="0.9" height="3.9" fill="#dc6a70"/>
<rect x="324.6" y="9.0" width="1.8" height="3.9" fill="#f0c8cc"/>
<rect x="324.6" y="12.9" width="1.8" height="5.3" fill="#e8a0a8"/>
<rect x="324.6" y="18.1" width="1.8" height="2.5" fill="#e8a0a8"/>
<rect x="324.6" y="20.6" width="1.8" height="3.8" fill="#d86068"/>
<rect x="324.6" y="24.4" width="1.8" height="2.2" fill="#e8a0a8"/>
<rect x="326.4" y="10.1" width="18.6" height="4.5" fill="#dcc4d6" fill-opacity="0.70"/>
<rect x="366.6" y="8.6" width="1.4" height="56.3" fill="#cf4a4e"/>
<rect x="337.2" y="7.4" width="1.0" height="25.8" fill="#e8a8ac" fill-opacity="0.38"/>
<rect x="378.6" y="8.8" width="1.0" height="22.5" fill="#eab4b8" fill-opacity="0.59"/>
<rect x="392.4" y="9.5" width="0.6" height="23.2" fill="#d87c84" fill-opacity="0.54"/>
<rect x="382.5" y="8.2" width="0.8" height="23.8" fill="#e8a8ac" fill-opacity="0.51"/>
<rect x="343.2" y="11.1" width="0.8" height="23.5" fill="#eab4b8" fill-opacity="0.45"/>
<rect x="385.0" y="11.9" width="0.6" height="23.6" fill="#e49a9e" fill-opacity="0.30"/>
<rect x="349.5" y="10.3" width="0.5" height="24.8" fill="#e8a8ac" fill-opacity="0.38"/>
<rect x="394.3" y="9.9" width="0.6" height="22.0" fill="#d87c84" fill-opacity="0.45"/>
<rect x="358.0" y="8.7" width="0.8" height="22.6" fill="#e49a9e" fill-opacity="0.54"/>
<rect x="366.4" y="9.3" width="0.6" height="22.0" fill="#f0c8c8" fill-opacity="0.54"/>
<rect x="359.4" y="8.3" width="0.8" height="22.8" fill="#eab4b8" fill-opacity="0.43"/>
<rect x="359.4" y="9.4" width="0.5" height="24.4" fill="#e8a8ac" fill-opacity="0.32"/>
<rect x="377.0" y="11.5" width="1.0" height="21.5" fill="#e49a9e" fill-opacity="0.32"/>
<rect x="345.3" y="10.8" width="0.5" height="22.0" fill="#d87c84" fill-opacity="0.38"/>
<rect x="338.9" y="10.5" width="0.8" height="23.2" fill="#e49a9e" fill-opacity="0.40"/>
<rect x="365.9" y="9.2" width="0.8" height="21.7" fill="#d87c84" fill-opacity="0.44"/>
<rect x="346.0" y="7.1" width="0.6" height="23.7" fill="#e49a9e" fill-opacity="0.41"/>
<rect x="361.8" y="11.4" width="1.0" height="19.9" fill="#d87c84" fill-opacity="0.54"/>
<rect x="374.9" y="7.7" width="0.6" height="23.5" fill="#d87c84" fill-opacity="0.54"/>
<rect x="346.0" y="9.9" width="0.5" height="22.5" fill="#e49a9e" fill-opacity="0.50"/>
<rect x="398.7" y="10.1" width="0.5" height="23.8" fill="#e8a8ac" fill-opacity="0.33"/>
<rect x="333.4" y="12.0" width="0.5" height="23.2" fill="#eab4b8" fill-opacity="0.33"/>
<rect x="399.8" y="8.1" width="1.0" height="26.3" fill="#e8a8ac" fill-opacity="0.40"/>
<rect x="367.5" y="8.6" width="0.8" height="21.3" fill="#eab4b8" fill-opacity="0.45"/>
<rect x="374.6" y="10.8" width="0.5" height="19.4" fill="#f0c8c8" fill-opacity="0.53"/>
<rect x="415.1" y="11.7" width="0.8" height="19.2" fill="#e49a9e" fill-opacity="0.57"/>
<rect x="412.6" y="9.7" width="0.5" height="21.7" fill="#e49a9e" fill-opacity="0.43"/>
<rect x="364.0" y="8.1" width="0.6" height="26.7" fill="#f0c8c8" fill-opacity="0.51"/>
<rect x="355.0" y="9.1" width="1.0" height="24.8" fill="#e49a9e" fill-opacity="0.44"/>
<rect x="392.1" y="10.5" width="0.8" height="20.6" fill="#eab4b8" fill-opacity="0.57"/>
<rect x="394.1" y="10.1" width="0.5" height="20.2" fill="#e49a9e" fill-opacity="0.39"/>
<rect x="343.9" y="7.9" width="0.8" height="26.4" fill="#f0c8c8" fill-opacity="0.48"/>
<rect x="346.2" y="12.0" width="0.6" height="21.3" fill="#d87c84" fill-opacity="0.49"/>
<rect x="411.2" y="11.7" width="1.0" height="21.1" fill="#f0c8c8" fill-opacity="0.57"/>
<rect x="356.9" y="9.5" width="0.5" height="24.9" fill="#e49a9e" fill-opacity="0.37"/>
<rect x="313.4" y="35.7" width="1.2" height="5.2" fill="#c83a40"/>
<rect x="313.4" y="40.9" width="1.2" height="5.2" fill="#f0c8c8"/>
<rect x="313.4" y="46.1" width="1.2" height="5.2" fill="#e07a7c"/>
<rect x="313.4" y="51.3" width="1.2" height="5.7" fill="#c83a40"/>
<rect x="313.4" y="56.9" width="1.2" height="5.5" fill="#c83a40"/>
<rect x="313.4" y="62.4" width="1.2" height="2.4" fill="#e07a7c"/>
<rect x="314.6" y="35.7" width="1.5" height="5.5" fill="#d04a4e"/>
<rect x="314.6" y="41.2" width="1.5" height="5.1" fill="#e07a7c"/>
<rect x="314.6" y="46.3" width="1.5" height="5.6" fill="#f0c8c8"/>
<rect x="314.6" y="51.9" width="1.5" height="2.5" fill="#eab0b0"/>
<rect x="314.6" y="54.5" width="1.5" height="4.5" fill="#d04a4e"/>
<rect x="314.6" y="59.0" width="1.5" height="2.2" fill="#d04a4e"/>
<rect x="314.6" y="61.2" width="1.5" height="2.7" fill="#e07a7c"/>
<rect x="314.6" y="63.9" width="1.5" height="1.0" fill="#e07a7c"/>
<rect x="316.1" y="35.7" width="1.2" height="3.4" fill="#eab0b0"/>
<rect x="316.1" y="39.1" width="1.2" height="4.1" fill="#c83a40"/>
<rect x="316.1" y="43.2" width="1.2" height="4.8" fill="#e07a7c"/>
<rect x="316.1" y="48.0" width="1.2" height="5.0" fill="#d04a4e"/>
<rect x="316.1" y="53.0" width="1.2" height="4.0" fill="#e07a7c"/>
<rect x="316.1" y="57.0" width="1.2" height="2.8" fill="#e07a7c"/>
<rect x="316.1" y="59.8" width="1.2" height="4.7" fill="#f0c8c8"/>
<rect x="316.1" y="64.5" width="1.2" height="0.3" fill="#e07a7c"/>
<rect x="317.2" y="35.7" width="1.5" height="4.0" fill="#c83a40"/>
<rect x="317.2" y="39.7" width="1.5" height="5.9" fill="#e07a7c"/>
<rect x="317.2" y="45.6" width="1.5" height="3.6" fill="#d04a4e"/>
<rect x="317.2" y="49.2" width="1.5" height="6.0" fill="#eab0b0"/>
<rect x="317.2" y="55.2" width="1.5" height="2.3" fill="#e07a7c"/>
<rect x="317.2" y="57.4" width="1.5" height="2.6" fill="#eab0b0"/>
<rect x="317.2" y="60.0" width="1.5" height="4.7" fill="#eab0b0"/>
<rect x="318.7" y="35.7" width="1.9" height="2.5" fill="#d04a4e"/>
<rect x="318.7" y="38.2" width="1.9" height="5.5" fill="#eab0b0"/>
<rect x="318.7" y="43.7" width="1.9" height="3.9" fill="#e07a7c"/>
<rect x="318.7" y="47.6" width="1.9" height="2.5" fill="#f0c8c8"/>
<rect x="318.7" y="50.0" width="1.9" height="5.4" fill="#f0c8c8"/>
<rect x="318.7" y="55.4" width="1.9" height="4.9" fill="#c83a40"/>
<rect x="318.7" y="60.3" width="1.9" height="2.6" fill="#eab0b0"/>
<rect x="318.7" y="62.9" width="1.9" height="1.9" fill="#f0c8c8"/>
<rect x="320.7" y="35.7" width="2.1" height="5.0" fill="#d04a4e"/>
<rect x="320.7" y="40.7" width="2.1" height="2.3" fill="#e07a7c"/>
<rect x="320.7" y="43.1" width="2.1" height="3.5" fill="#e07a7c"/>
<rect x="320.7" y="46.6" width="2.1" height="3.2" fill="#e07a7c"/>
<rect x="320.7" y="49.8" width="2.1" height="3.9" fill="#eab0b0"/>
<rect x="320.7" y="53.7" width="2.1" height="3.8" fill="#d04a4e"/>
<rect x="320.7" y="57.5" width="2.1" height="2.4" fill="#eab0b0"/>
<rect x="320.7" y="59.9" width="2.1" height="2.5" fill="#eab0b0"/>
<rect x="320.7" y="62.4" width="2.1" height="2.4" fill="#e07a7c"/>
<rect x="322.8" y="35.7" width="1.0" height="3.9" fill="#eab0b0"/>
<rect x="322.8" y="39.6" width="1.0" height="2.4" fill="#e07a7c"/>
<rect x="322.8" y="42.0" width="1.0" height="5.9" fill="#d04a4e"/>
<rect x="322.8" y="47.9" width="1.0" height="5.1" fill="#e07a7c"/>
<rect x="322.8" y="53.0" width="1.0" height="5.3" fill="#c83a40"/>
<rect x="322.8" y="58.3" width="1.0" height="2.6" fill="#e07a7c"/>
<rect x="322.8" y="60.9" width="1.0" height="2.6" fill="#eab0b0"/>
<rect x="322.8" y="63.5" width="1.0" height="1.4" fill="#c83a40"/>
<rect x="323.8" y="35.7" width="1.7" height="4.9" fill="#eab0b0"/>
<rect x="323.8" y="40.6" width="1.7" height="3.3" fill="#f0c8c8"/>
<rect x="323.8" y="43.9" width="1.7" height="3.0" fill="#c83a40"/>
<rect x="323.8" y="46.9" width="1.7" height="4.1" fill="#e07a7c"/>
<rect x="323.8" y="51.0" width="1.7" height="2.8" fill="#e07a7c"/>
<rect x="323.8" y="53.8" width="1.7" height="3.8" fill="#d04a4e"/>
<rect x="323.8" y="57.5" width="1.7" height="2.8" fill="#e07a7c"/>
<rect x="323.8" y="60.3" width="1.7" height="3.2" fill="#e07a7c"/>
<rect x="323.8" y="63.5" width="1.7" height="1.3" fill="#e07a7c"/>
<rect x="325.6" y="35.7" width="0.4" height="3.2" fill="#e07a7c"/>
<rect x="325.6" y="38.9" width="0.4" height="4.4" fill="#d04a4e"/>
<rect x="325.6" y="43.4" width="0.4" height="4.3" fill="#e07a7c"/>
<rect x="325.6" y="47.7" width="0.4" height="5.7" fill="#c83a40"/>
<rect x="325.6" y="53.4" width="0.4" height="4.8" fill="#c83a40"/>
<rect x="325.6" y="58.2" width="0.4" height="4.3" fill="#e07a7c"/>
<rect x="325.6" y="62.5" width="0.4" height="2.4" fill="#f0c8c8"/>
<rect x="327.8" y="50.5" width="2.5" height="7.5" fill="#c8dcec"/>
<rect x="330.3" y="35.7" width="2.7" height="5.2" fill="#e8c4cc"/>
<rect x="330.3" y="46.1" width="2.7" height="6.6" fill="#f0d4d8"/>
<rect x="330.3" y="58.4" width="2.7" height="6.5" fill="#f4d8cc"/>
<rect x="333.0" y="35.7" width="3.2" height="3.8" fill="#e8c4cc"/>
<rect x="333.0" y="39.6" width="3.2" height="8.1" fill="#c8dcec"/>
<rect x="336.2" y="44.5" width="2.4" height="4.5" fill="#f4d8cc"/>
<rect x="336.2" y="48.9" width="2.4" height="3.3" fill="#f0d4d8"/>
<rect x="336.2" y="52.2" width="2.4" height="7.3" fill="#f0d4d8"/>
<rect x="338.7" y="35.7" width="1.8" height="5.1" fill="#c8dcec"/>
<rect x="338.7" y="63.1" width="1.8" height="1.8" fill="#e8c4cc"/>
<rect x="340.4" y="54.2" width="2.9" height="3.1" fill="#c8dcec"/>
<rect x="343.4" y="35.7" width="2.1" height="7.7" fill="#c8dcec"/>
<rect x="343.4" y="59.8" width="2.1" height="5.1" fill="#f4d8cc"/>
<rect x="345.5" y="35.7" width="2.4" height="3.6" fill="#c8dcec"/>
<rect x="345.5" y="45.6" width="2.4" height="8.6" fill="#c8dcec"/>
<rect x="345.5" y="54.3" width="2.4" height="9.0" fill="#e8c4cc"/>
<rect x="350.3" y="35.7" width="2.3" height="4.8" fill="#e8c4cc"/>
<rect x="352.6" y="40.7" width="2.1" height="7.7" fill="#f0d4d8"/>
<rect x="352.6" y="56.6" width="2.1" height="8.2" fill="#e8c4cc"/>
<rect x="354.7" y="35.7" width="1.7" height="4.9" fill="#c8dcec"/>
<rect x="354.7" y="49.0" width="1.7" height="6.8" fill="#e8c4cc"/>
<rect x="354.7" y="62.2" width="1.7" height="2.7" fill="#f4d8cc"/>
<rect x="356.4" y="42.6" width="3.2" height="7.9" fill="#f4d8cc"/>
<rect x="356.4" y="63.5" width="3.2" height="1.4" fill="#f0d4d8"/>
<rect x="359.6" y="35.7" width="2.3" height="4.0" fill="#c8dcec"/>
<rect x="359.6" y="39.7" width="2.3" height="3.7" fill="#e8c4cc"/>
<rect x="359.6" y="43.5" width="2.3" height="4.6" fill="#e8c4cc"/>
<rect x="359.6" y="54.1" width="2.3" height="4.6" fill="#f0d4d8"/>
<rect x="361.8" y="35.7" width="2.4" height="8.9" fill="#c8dcec"/>
<rect x="364.3" y="60.3" width="3.1" height="4.1" fill="#e8c4cc"/>
<rect x="364.3" y="64.4" width="3.1" height="0.4" fill="#f0d4d8"/>
<rect x="367.3" y="52.6" width="1.8" height="3.0" fill="#c8dcec"/>
<rect x="367.3" y="59.0" width="1.8" height="5.9" fill="#c8dcec"/>
<rect x="369.2" y="41.6" width="2.1" height="4.7" fill="#f0d4d8"/>
<rect x="369.2" y="46.4" width="2.1" height="6.8" fill="#f4d8cc"/>
<rect x="369.2" y="60.7" width="2.1" height="4.2" fill="#f0d4d8"/>
<rect x="371.3" y="47.6" width="1.8" height="7.3" fill="#e8c4cc"/>
<rect x="373.1" y="35.7" width="2.0" height="4.2" fill="#f4d8cc"/>
<rect x="377.8" y="35.7" width="2.7" height="7.9" fill="#e8c4cc"/>
<rect x="377.8" y="43.6" width="2.7" height="7.7" fill="#f0d4d8"/>
<rect x="380.5" y="47.2" width="2.7" height="7.2" fill="#e8c4cc"/>
<rect x="383.2" y="61.1" width="1.8" height="3.7" fill="#f4d8cc"/>
<rect x="385.0" y="35.7" width="3.2" height="7.1" fill="#e8c4cc"/>
<rect x="388.2" y="35.7" width="2.1" height="8.7" fill="#c8dcec"/>
<rect x="388.2" y="48.7" width="2.1" height="6.5" fill="#f4d8cc"/>
<rect x="388.2" y="62.7" width="2.1" height="2.2" fill="#c8dcec"/>
<rect x="390.3" y="35.7" width="3.1" height="4.1" fill="#c8dcec"/>
<rect x="390.3" y="59.2" width="3.1" height="5.7" fill="#f0d4d8"/>
<rect x="395.7" y="35.7" width="1.7" height="4.7" fill="#f4d8cc"/>
<rect x="397.4" y="35.7" width="1.7" height="7.4" fill="#f0d4d8"/>
<rect x="397.4" y="55.0" width="1.7" height="9.0" fill="#f0d4d8"/>
<rect x="397.4" y="63.9" width="1.7" height="0.9" fill="#c8dcec"/>
<rect x="399.1" y="35.7" width="2.2" height="4.5" fill="#c8dcec"/>
<rect x="401.3" y="46.7" width="2.7" height="5.3" fill="#c8dcec"/>
<rect x="404.0" y="46.1" width="2.4" height="3.8" fill="#f0d4d8"/>
<rect x="404.0" y="57.4" width="2.4" height="3.1" fill="#f0d4d8"/>
<rect x="408.1" y="35.7" width="2.4" height="5.9" fill="#f4d8cc"/>
<rect x="408.1" y="41.7" width="2.4" height="4.7" fill="#e8c4cc"/>
<rect x="408.1" y="46.4" width="2.4" height="4.3" fill="#f4d8cc"/>
<rect x="408.1" y="50.7" width="2.4" height="4.2" fill="#f0d4d8"/>
<rect x="408.1" y="54.9" width="2.4" height="5.1" fill="#e8c4cc"/>
<rect x="408.1" y="60.0" width="2.4" height="4.8" fill="#e8c4cc"/>
<rect x="410.5" y="43.6" width="3.1" height="4.5" fill="#c8dcec"/>
<rect x="410.5" y="48.1" width="3.1" height="4.9" fill="#c8dcec"/>
<rect x="410.5" y="61.4" width="3.1" height="3.5" fill="#c8dcec"/>
<rect x="413.6" y="35.7" width="2.0" height="5.3" fill="#f0d4d8"/>
<rect x="413.6" y="41.0" width="2.0" height="4.8" fill="#e8c4cc"/>
<rect x="413.6" y="62.6" width="2.0" height="2.3" fill="#c8dcec"/>
<rect x="327.5" y="41.7" width="16.2" height="3.8" fill="#4d8fc6"/>
<rect x="345.0" y="41.7" width="16.5" height="3.8" fill="#5596ca"/>
<rect x="327.5" y="45.5" width="34.0" height="2.4" fill="#a8c8e2"/>
<rect x="360.0" y="42.2" width="28.0" height="3.5" fill="#e4d4dc" fill-opacity="0.80"/>
<rect x="388.0" y="41.7" width="1.7" height="2.3" fill="#f3b496"/>
<rect x="388.0" y="44.0" width="1.7" height="1.7" fill="#f6c8b0"/>
<rect x="389.7" y="41.7" width="2.2" height="4.0" fill="#f6c8b0"/>
<rect x="391.9" y="41.7" width="2.0" height="4.0" fill="#f3b496"/>
<rect x="394.0" y="41.7" width="1.6" height="4.0" fill="#f3b496"/>
<rect x="395.6" y="41.7" width="2.0" height="2.9" fill="#f0a080"/>
<rect x="395.6" y="44.6" width="2.0" height="1.1" fill="#f6c8b0"/>
<rect x="397.6" y="41.7" width="1.6" height="4.0" fill="#f6c8b0"/>
<rect x="399.2" y="41.7" width="2.8" height="2.3" fill="#f6c8b0"/>
<rect x="399.2" y="44.0" width="2.8" height="1.7" fill="#f6c8b0"/>
<rect x="402.0" y="41.7" width="2.9" height="3.1" fill="#f3b496"/>
<rect x="402.0" y="44.8" width="2.9" height="0.9" fill="#f6c8b0"/>
<rect x="404.9" y="41.7" width="1.9" height="3.6" fill="#f3b496"/>
<rect x="404.9" y="45.3" width="1.9" height="0.4" fill="#f3b496"/>
<rect x="406.8" y="41.7" width="2.1" height="4.0" fill="#f6c8b0"/>
<rect x="409.0" y="41.7" width="2.1" height="3.7" fill="#f3b496"/>
<rect x="409.0" y="45.4" width="2.1" height="0.3" fill="#f3b496"/>
<rect x="411.0" y="41.7" width="2.6" height="3.4" fill="#f6c8b0"/>
<rect x="411.0" y="45.2" width="2.6" height="0.6" fill="#f6c8b0"/>
<rect x="413.7" y="41.7" width="3.0" height="4.0" fill="#f6c8b0"/>
<rect x="416.7" y="41.7" width="0.3" height="3.2" fill="#f6c8b0"/>
<rect x="416.7" y="45.0" width="0.3" height="0.8" fill="#f6c8b0"/>
<rect x="325.5" y="47.9" width="91.5" height="1.8" fill="#e8eff4"/>
<rect x="327.0" y="50.2" width="33.0" height="2.5" fill="#c4cce2"/>
<rect x="360.0" y="50.2" width="1.7" height="2.5" fill="#f2d0c0"/>
<rect x="361.7" y="50.2" width="2.4" height="2.5" fill="#f2d0c0"/>
<rect x="364.0" y="50.2" width="2.8" height="2.5" fill="#f2d0c0"/>
<rect x="366.8" y="50.2" width="2.6" height="2.5" fill="#eeb8a0"/>
<rect x="369.4" y="50.2" width="1.9" height="2.5" fill="#f2d0c0"/>
<rect x="371.3" y="50.2" width="2.5" height="2.5" fill="#e8dce0"/>
<rect x="373.8" y="50.2" width="2.6" height="2.5" fill="#eeb8a0"/>
<rect x="376.5" y="50.2" width="2.0" height="2.5" fill="#f2d0c0"/>
<rect x="378.5" y="50.2" width="2.6" height="2.5" fill="#eeb8a0"/>
<rect x="381.1" y="50.2" width="3.2" height="2.5" fill="#eeb8a0"/>
<rect x="384.2" y="50.2" width="2.9" height="2.5" fill="#f2d0c0"/>
<rect x="387.1" y="50.2" width="2.0" height="2.5" fill="#eeb8a0"/>
<rect x="389.1" y="50.2" width="2.2" height="2.5" fill="#f2d0c0"/>
<rect x="391.4" y="50.2" width="1.9" height="2.5" fill="#e8dce0"/>
<rect x="393.2" y="50.2" width="1.9" height="2.5" fill="#eeb8a0"/>
<rect x="395.1" y="50.2" width="2.9" height="2.5" fill="#e8dce0"/>
<rect x="398.0" y="50.2" width="2.9" height="2.5" fill="#f2d0c0"/>
<rect x="400.9" y="50.2" width="1.7" height="2.5" fill="#e8dce0"/>
<rect x="402.6" y="50.2" width="2.6" height="2.5" fill="#eeb8a0"/>
<rect x="405.3" y="50.2" width="2.3" height="2.5" fill="#eeb8a0"/>
<rect x="407.5" y="50.2" width="2.7" height="2.5" fill="#f2d0c0"/>
<rect x="410.2" y="50.2" width="3.0" height="2.5" fill="#e8dce0"/>
<rect x="413.2" y="50.2" width="2.5" height="2.5" fill="#e8dce0"/>
<rect x="415.7" y="50.2" width="1.3" height="2.5" fill="#e8dce0"/>
<rect x="327.0" y="59.5" width="35.0" height="3.0" fill="#c8b4cc"/>
<rect x="362.0" y="59.5" width="33.0" height="3.0" fill="#ead6dc"/>
<rect x="395.0" y="59.5" width="2.0" height="3.0" fill="#eea68a"/>
<rect x="397.0" y="59.5" width="2.2" height="3.0" fill="#eea68a"/>
<rect x="399.3" y="59.5" width="1.9" height="3.0" fill="#f2c0a8"/>
<rect x="401.2" y="59.5" width="1.8" height="2.0" fill="#f2c0a8"/>
<rect x="401.2" y="61.6" width="1.8" height="1.0" fill="#eea68a"/>
<rect x="403.0" y="59.5" width="2.1" height="2.6" fill="#f2c0a8"/>
<rect x="403.0" y="62.1" width="2.1" height="0.4" fill="#eea68a"/>
<rect x="405.2" y="59.5" width="1.7" height="3.0" fill="#f2c0a8"/>
<rect x="406.8" y="59.5" width="2.5" height="2.9" fill="#f2c0a8"/>
<rect x="409.3" y="59.5" width="2.9" height="3.0" fill="#eea68a"/>
<rect x="412.2" y="59.5" width="2.1" height="3.0" fill="#f2c0a8"/>
<rect x="414.3" y="59.5" width="2.5" height="3.0" fill="#eea68a"/>
<rect x="344.4" y="35.7" width="1.2" height="29.1" fill="#e0a0a8"/>
<rect x="403.5" y="39.0" width="0.6" height="21.8" fill="#d87c84" fill-opacity="0.41"/>
<rect x="394.1" y="36.1" width="0.8" height="26.0" fill="#eab4b8" fill-opacity="0.32"/>
<rect x="359.0" y="40.6" width="0.8" height="19.5" fill="#f0c8c8" fill-opacity="0.42"/>
<rect x="398.6" y="41.3" width="0.5" height="20.6" fill="#f0c8c8" fill-opacity="0.38"/>
<rect x="408.2" y="35.8" width="0.5" height="28.2" fill="#d87c84" fill-opacity="0.42"/>
<rect x="359.4" y="40.6" width="0.8" height="22.1" fill="#f0c8c8" fill-opacity="0.41"/>
<rect x="351.2" y="39.3" width="0.8" height="24.0" fill="#eab4b8" fill-opacity="0.52"/>
<rect x="345.1" y="39.0" width="0.6" height="21.8" fill="#eab4b8" fill-opacity="0.40"/>
<rect x="340.1" y="37.8" width="0.8" height="24.4" fill="#e49a9e" fill-opacity="0.42"/>
<rect x="330.7" y="37.7" width="0.5" height="24.0" fill="#eab4b8" fill-opacity="0.31"/>
<rect x="341.8" y="40.3" width="0.5" height="24.0" fill="#d87c84" fill-opacity="0.43"/>
<rect x="413.0" y="38.7" width="0.6" height="21.5" fill="#eab4b8" fill-opacity="0.54"/>
<rect x="332.3" y="41.4" width="1.0" height="21.5" fill="#eab4b8" fill-opacity="0.53"/>
<rect x="373.5" y="36.6" width="0.5" height="24.4" fill="#f0c8c8" fill-opacity="0.57"/>
<rect x="331.0" y="41.1" width="0.8" height="18.7" fill="#f0c8c8" fill-opacity="0.45"/>
<rect x="377.3" y="36.5" width="0.5" height="24.0" fill="#f0c8c8" fill-opacity="0.43"/>
<rect x="368.2" y="38.7" width="1.0" height="23.9" fill="#e8a8ac" fill-opacity="0.47"/>
<rect x="372.6" y="38.9" width="0.5" height="23.2" fill="#d87c84" fill-opacity="0.48"/>
<rect x="379.7" y="36.6" width="0.8" height="25.4" fill="#d87c84" fill-opacity="0.52"/>
<rect x="354.3" y="41.7" width="1.0" height="20.8" fill="#eab4b8" fill-opacity="0.53"/>
<rect x="407.1" y="37.1" width="0.5" height="22.7" fill="#eab4b8" fill-opacity="0.55"/>
<rect x="398.1" y="41.7" width="0.8" height="22.8" fill="#e49a9e" fill-opacity="0.51"/>
<rect x="348.7" y="38.5" width="0.8" height="23.2" fill="#f0c8c8" fill-opacity="0.36"/>
<rect x="351.3" y="36.2" width="0.6" height="25.4" fill="#f0c8c8" fill-opacity="0.56"/>
<rect x="332.5" y="40.9" width="1.0" height="19.4" fill="#e8a8ac" fill-opacity="0.59"/>
<rect x="331.9" y="40.6" width="0.6" height="23.2" fill="#d87c84" fill-opacity="0.31"/>
<rect x="357.3" y="40.7" width="0.6" height="23.4" fill="#eab4b8" fill-opacity="0.48"/>
<rect x="328.8" y="41.1" width="1.0" height="23.3" fill="#eab4b8" fill-opacity="0.46"/>
<rect x="354.6" y="39.1" width="0.6" height="19.8" fill="#f0c8c8" fill-opacity="0.30"/>
<rect x="356.7" y="40.8" width="0.8" height="18.4" fill="#e8a8ac" fill-opacity="0.36"/>
<rect x="313.4" y="64.9" width="1.9" height="5.1" fill="#f0d8dc"/>
<rect x="313.4" y="69.9" width="1.9" height="4.3" fill="#f0d8dc"/>
<rect x="313.4" y="74.2" width="1.9" height="3.1" fill="#f0d8dc"/>
<rect x="313.4" y="77.4" width="1.9" height="3.4" fill="#f8e8e8"/>
<rect x="313.4" y="80.7" width="1.9" height="3.2" fill="#f0d8dc"/>
<rect x="313.4" y="84.0" width="1.9" height="2.3" fill="#f0d8dc"/>
<rect x="313.4" y="86.2" width="1.9" height="4.9" fill="#d8e4f0"/>
<rect x="313.4" y="91.1" width="1.9" height="2.9" fill="#f0d8dc"/>
<rect x="315.3" y="64.9" width="1.7" height="3.1" fill="#f0d8dc"/>
<rect x="315.3" y="67.9" width="1.7" height="4.5" fill="#f0d8dc"/>
<rect x="315.3" y="72.4" width="1.7" height="2.5" fill="#f0d8dc"/>
<rect x="315.3" y="74.9" width="1.7" height="2.4" fill="#e8a8ac"/>
<rect x="315.3" y="77.3" width="1.7" height="3.7" fill="#e8a8ac"/>
<rect x="315.3" y="81.0" width="1.7" height="2.5" fill="#f0d8dc"/>
<rect x="315.3" y="83.4" width="1.7" height="5.5" fill="#d8e4f0"/>
<rect x="315.3" y="88.9" width="1.7" height="2.3" fill="#f8e8e8"/>
<rect x="315.3" y="91.2" width="1.7" height="2.7" fill="#e8a8ac"/>
<rect x="317.0" y="64.9" width="1.9" height="3.7" fill="#f0d8dc"/>
<rect x="317.0" y="68.5" width="1.9" height="4.6" fill="#f0d8dc"/>
<rect x="317.0" y="73.1" width="1.9" height="3.3" fill="#e8a8ac"/>
<rect x="317.0" y="76.4" width="1.9" height="4.6" fill="#f0d8dc"/>
<rect x="317.0" y="81.0" width="1.9" height="4.6" fill="#f0d8dc"/>
<rect x="317.0" y="85.7" width="1.9" height="4.4" fill="#f0d8dc"/>
<rect x="317.0" y="90.1" width="1.9" height="3.5" fill="#e8a8ac"/>
<rect x="317.0" y="93.6" width="1.9" height="0.4" fill="#f0d8dc"/>
<rect x="319.0" y="64.9" width="2.0" height="2.4" fill="#d8e4f0"/>
<rect x="319.0" y="67.3" width="2.0" height="5.1" fill="#f0d8dc"/>
<rect x="319.0" y="72.3" width="2.0" height="4.6" fill="#e8a8ac"/>
<rect x="319.0" y="77.0" width="2.0" height="2.8" fill="#f8e8e8"/>
<rect x="319.0" y="79.8" width="2.0" height="2.1" fill="#f0d8dc"/>
<rect x="319.0" y="81.9" width="2.0" height="4.4" fill="#f8e8e8"/>
<rect x="319.0" y="86.2" width="2.0" height="6.0" fill="#f8e8e8"/>
<rect x="319.0" y="92.2" width="2.0" height="1.8" fill="#f8e8e8"/>
<rect x="321.0" y="64.9" width="1.8" height="2.3" fill="#f0d8dc"/>
<rect x="321.0" y="67.1" width="1.8" height="4.0" fill="#e8a8ac"/>
<rect x="321.0" y="71.2" width="1.8" height="4.6" fill="#f0d8dc"/>
<rect x="321.0" y="75.8" width="1.8" height="2.9" fill="#f0d8dc"/>
<rect x="321.0" y="78.7" width="1.8" height="5.2" fill="#e8a8ac"/>
<rect x="321.0" y="83.8" width="1.8" height="2.9" fill="#e8a8ac"/>
<rect x="321.0" y="86.7" width="1.8" height="2.4" fill="#f0d8dc"/>
<rect x="321.0" y="89.2" width="1.8" height="4.8" fill="#f8e8e8"/>
<rect x="322.9" y="64.9" width="2.9" height="5.7" fill="#e8a8ac"/>
<rect x="322.9" y="70.6" width="2.9" height="4.3" fill="#e8a8ac"/>
<rect x="322.9" y="74.9" width="2.9" height="5.3" fill="#e8a8ac"/>
<rect x="322.9" y="80.2" width="2.9" height="2.4" fill="#f8e8e8"/>
<rect x="322.9" y="82.6" width="2.9" height="2.0" fill="#d8e4f0"/>
<rect x="322.9" y="84.6" width="2.9" height="4.8" fill="#f8e8e8"/>
<rect x="322.9" y="89.4" width="2.9" height="4.6" fill="#f8e8e8"/>
<rect x="325.7" y="64.9" width="1.3" height="3.9" fill="#d8e4f0"/>
<rect x="325.7" y="68.8" width="1.3" height="3.7" fill="#f0d8dc"/>
<rect x="325.7" y="72.5" width="1.3" height="3.5" fill="#f0d8dc"/>
<rect x="325.7" y="76.0" width="1.3" height="5.3" fill="#d8e4f0"/>
<rect x="325.7" y="81.3" width="1.3" height="2.4" fill="#e8a8ac"/>
<rect x="325.7" y="83.7" width="1.3" height="4.2" fill="#d8e4f0"/>
<rect x="325.7" y="88.0" width="1.3" height="5.1" fill="#f0d8dc"/>
<rect x="325.7" y="93.1" width="1.3" height="0.9" fill="#e8a8ac"/>
<rect x="328.7" y="68.5" width="1.9" height="8.4" fill="#f0d4d8"/>
<rect x="328.7" y="89.3" width="1.9" height="4.7" fill="#c8dcec"/>
<rect x="330.6" y="64.9" width="2.7" height="3.7" fill="#f0d4d8"/>
<rect x="330.6" y="68.6" width="2.7" height="4.4" fill="#e8c4cc"/>
<rect x="330.6" y="72.9" width="2.7" height="3.7" fill="#e8c4cc"/>
<rect x="330.6" y="88.6" width="2.7" height="5.4" fill="#c8dcec"/>
<rect x="333.3" y="64.9" width="2.5" height="7.6" fill="#e8c4cc"/>
<rect x="335.8" y="71.2" width="3.2" height="8.9" fill="#c8dcec"/>
<rect x="339.0" y="78.7" width="2.6" height="4.9" fill="#f0d4d8"/>
<rect x="341.6" y="92.1" width="3.1" height="1.9" fill="#c8dcec"/>
<rect x="347.4" y="64.9" width="2.5" height="7.8" fill="#c8dcec"/>
<rect x="351.8" y="82.1" width="2.7" height="8.5" fill="#f0d4d8"/>
<rect x="354.5" y="64.9" width="2.7" height="3.8" fill="#e8c4cc"/>
<rect x="354.5" y="68.7" width="2.7" height="7.1" fill="#e8c4cc"/>
<rect x="354.5" y="75.8" width="2.7" height="5.7" fill="#f0d4d8"/>
<rect x="354.5" y="81.4" width="2.7" height="7.4" fill="#f0d4d8"/>
<rect x="360.2" y="68.8" width="1.3" height="5.4" fill="#f0d4d8"/>
<rect x="360.2" y="90.0" width="1.3" height="4.0" fill="#e8c4cc"/>
<rect x="365.4" y="64.9" width="2.4" height="3.9" fill="#f0c0b8"/>
<rect x="365.4" y="68.8" width="2.4" height="5.4" fill="#f4d8d0"/>
<rect x="365.4" y="77.5" width="2.4" height="5.3" fill="#e89090"/>
<rect x="365.4" y="82.8" width="2.4" height="3.5" fill="#f4d8d0"/>
<rect x="365.4" y="86.3" width="2.4" height="4.7" fill="#f0c0b8"/>
<rect x="365.4" y="91.0" width="2.4" height="2.9" fill="#f0c0b8"/>
<rect x="367.8" y="64.9" width="2.8" height="2.6" fill="#f4d8d0"/>
<rect x="367.8" y="71.0" width="2.8" height="4.0" fill="#e89090"/>
<rect x="367.8" y="75.0" width="2.8" height="3.4" fill="#f0c0b8"/>
<rect x="367.8" y="78.4" width="2.8" height="2.2" fill="#c8dcec"/>
<rect x="370.7" y="64.9" width="1.9" height="3.7" fill="#f0c0b8"/>
<rect x="370.7" y="72.1" width="1.9" height="2.7" fill="#e89090"/>
<rect x="370.7" y="74.8" width="1.9" height="4.7" fill="#f0c0b8"/>
<rect x="370.7" y="79.5" width="1.9" height="2.6" fill="#c8dcec"/>
<rect x="370.7" y="85.5" width="1.9" height="4.0" fill="#f0c0b8"/>
<rect x="370.7" y="89.5" width="1.9" height="3.8" fill="#c8dcec"/>
<rect x="372.5" y="64.9" width="2.0" height="2.6" fill="#c8dcec"/>
<rect x="372.5" y="67.5" width="2.0" height="5.4" fill="#f4d8d0"/>
<rect x="372.5" y="88.3" width="2.0" height="5.2" fill="#f4d8d0"/>
<rect x="372.5" y="93.5" width="2.0" height="0.5" fill="#f4d8d0"/>
<rect x="374.5" y="67.3" width="3.2" height="2.7" fill="#d06060"/>
<rect x="374.5" y="81.2" width="3.2" height="5.2" fill="#c8dcec"/>
<rect x="374.5" y="86.4" width="3.2" height="2.6" fill="#f0c0b8"/>
<rect x="374.5" y="89.0" width="3.2" height="5.0" fill="#f0c0b8"/>
<rect x="377.7" y="64.9" width="1.8" height="2.4" fill="#f4d8d0"/>
<rect x="377.7" y="67.2" width="1.8" height="2.7" fill="#f4d8d0"/>
<rect x="377.7" y="69.9" width="1.8" height="4.8" fill="#e89090"/>
<rect x="377.7" y="79.2" width="1.8" height="3.7" fill="#f4d8d0"/>
<rect x="377.7" y="82.9" width="1.8" height="4.6" fill="#f0c0b8"/>
<rect x="377.7" y="87.5" width="1.8" height="3.9" fill="#f4d8d0"/>
<rect x="379.5" y="64.9" width="2.6" height="3.1" fill="#f4d8d0"/>
<rect x="379.5" y="73.5" width="2.6" height="4.2" fill="#f0c0b8"/>
<rect x="379.5" y="77.7" width="2.6" height="5.7" fill="#f4d8d0"/>
<rect x="379.5" y="86.6" width="2.6" height="5.7" fill="#c8dcec"/>
<rect x="382.1" y="64.9" width="2.2" height="2.6" fill="#c8dcec"/>
<rect x="382.1" y="75.7" width="2.2" height="5.6" fill="#c8dcec"/>
<rect x="382.1" y="81.3" width="2.2" height="5.9" fill="#c8dcec"/>
<rect x="382.1" y="87.2" width="2.2" height="4.2" fill="#f0c0b8"/>
<rect x="384.3" y="64.9" width="2.7" height="4.5" fill="#c8dcec"/>
<rect x="384.3" y="82.2" width="2.7" height="5.8" fill="#d06060"/>
<rect x="384.3" y="87.9" width="2.7" height="2.4" fill="#d06060"/>
<rect x="387.0" y="70.3" width="2.5" height="3.7" fill="#f4d8d0"/>
<rect x="387.0" y="74.1" width="2.5" height="4.4" fill="#f4d8d0"/>
<rect x="387.0" y="78.5" width="2.5" height="6.0" fill="#f0c0b8"/>
<rect x="387.0" y="90.1" width="2.5" height="2.7" fill="#f4d8d0"/>
<rect x="387.0" y="92.8" width="2.5" height="1.2" fill="#c8dcec"/>
<rect x="389.5" y="68.0" width="1.8" height="5.9" fill="#f0c0b8"/>
<rect x="389.5" y="76.6" width="1.8" height="4.4" fill="#f4d8d0"/>
<rect x="389.5" y="81.0" width="1.8" height="5.1" fill="#e89090"/>
<rect x="391.3" y="67.8" width="2.2" height="2.9" fill="#f0c0b8"/>
<rect x="391.3" y="78.4" width="2.2" height="4.9" fill="#f0c0b8"/>
<rect x="391.3" y="83.3" width="2.2" height="3.4" fill="#e89090"/>
<rect x="391.3" y="86.7" width="2.2" height="5.7" fill="#f0c0b8"/>
<rect x="393.5" y="64.9" width="2.3" height="2.9" fill="#c8dcec"/>
<rect x="393.5" y="67.7" width="2.3" height="2.7" fill="#f4d8d0"/>
<rect x="393.5" y="70.5" width="2.3" height="4.4" fill="#e89090"/>
<rect x="393.5" y="74.9" width="2.3" height="4.3" fill="#f0c0b8"/>
<rect x="393.5" y="81.3" width="2.3" height="2.3" fill="#f0c0b8"/>
<rect x="393.5" y="90.7" width="2.3" height="2.4" fill="#f4d8d0"/>
<rect x="393.5" y="93.0" width="2.3" height="0.9" fill="#f0c0b8"/>
<rect x="395.8" y="73.8" width="1.7" height="2.3" fill="#f4d8d0"/>
<rect x="395.8" y="76.1" width="1.7" height="6.0" fill="#f0c0b8"/>
<rect x="395.8" y="92.7" width="1.7" height="1.3" fill="#f0c0b8"/>
<rect x="397.5" y="64.9" width="3.1" height="2.3" fill="#c8dcec"/>
<rect x="397.5" y="72.8" width="3.1" height="2.1" fill="#c8dcec"/>
<rect x="397.5" y="88.1" width="3.1" height="2.5" fill="#f4d8d0"/>
<rect x="400.6" y="69.7" width="2.0" height="5.4" fill="#d06060"/>
<rect x="400.6" y="79.7" width="2.0" height="4.9" fill="#c8dcec"/>
<rect x="400.6" y="84.6" width="2.0" height="2.6" fill="#d06060"/>
<rect x="400.6" y="87.2" width="2.0" height="5.9" fill="#f4d8d0"/>
<rect x="402.6" y="69.2" width="2.1" height="4.1" fill="#f4d8d0"/>
<rect x="402.6" y="73.3" width="2.1" height="3.8" fill="#f4d8d0"/>
<rect x="402.6" y="84.7" width="2.1" height="5.7" fill="#c8dcec"/>
<rect x="402.6" y="90.4" width="2.1" height="3.6" fill="#f4d8d0"/>
<rect x="404.7" y="64.9" width="1.9" height="5.9" fill="#e89090"/>
<rect x="404.7" y="70.7" width="1.9" height="2.4" fill="#f0c0b8"/>
<rect x="404.7" y="73.1" width="1.9" height="5.6" fill="#e89090"/>
<rect x="404.7" y="78.7" width="1.9" height="3.4" fill="#c8dcec"/>
<rect x="404.7" y="86.1" width="1.9" height="2.6" fill="#f0c0b8"/>
<rect x="404.7" y="88.7" width="1.9" height="4.7" fill="#f0c0b8"/>
<rect x="404.7" y="93.4" width="1.9" height="0.6" fill="#f0c0b8"/>
<rect x="406.6" y="64.9" width="2.1" height="2.2" fill="#f0c0b8"/>
<rect x="406.6" y="67.0" width="2.1" height="5.3" fill="#c8dcec"/>
<rect x="406.6" y="72.3" width="2.1" height="2.1" fill="#f0c0b8"/>
<rect x="406.6" y="74.4" width="2.1" height="5.8" fill="#e89090"/>
<rect x="406.6" y="91.8" width="2.1" height="2.2" fill="#f0c0b8"/>
<rect x="408.6" y="64.9" width="2.7" height="3.0" fill="#f4d8d0"/>
<rect x="408.6" y="70.5" width="2.7" height="4.3" fill="#e89090"/>
<rect x="408.6" y="74.8" width="2.7" height="3.7" fill="#e89090"/>
<rect x="408.6" y="78.6" width="2.7" height="3.0" fill="#c8dcec"/>
<rect x="408.6" y="81.6" width="2.7" height="4.0" fill="#f4d8d0"/>
<rect x="408.6" y="85.6" width="2.7" height="4.5" fill="#d06060"/>
<rect x="408.6" y="90.0" width="2.7" height="3.9" fill="#f0c0b8"/>
<rect x="411.3" y="64.9" width="2.5" height="5.7" fill="#f4d8d0"/>
<rect x="411.3" y="76.3" width="2.5" height="4.2" fill="#f0c0b8"/>
<rect x="411.3" y="85.3" width="2.5" height="4.6" fill="#e89090"/>
<rect x="411.3" y="89.9" width="2.5" height="2.0" fill="#f0c0b8"/>
<rect x="411.3" y="91.9" width="2.5" height="2.1" fill="#f4d8d0"/>
<rect x="413.8" y="64.9" width="2.9" height="4.6" fill="#f4d8d0"/>
<rect x="413.8" y="69.5" width="2.9" height="4.7" fill="#f0c0b8"/>
<rect x="413.8" y="74.1" width="2.9" height="4.0" fill="#f4d8d0"/>
<rect x="413.8" y="82.4" width="2.9" height="3.3" fill="#e89090"/>
<rect x="413.8" y="87.9" width="2.9" height="2.1" fill="#f0c0b8"/>
<rect x="413.8" y="92.2" width="2.9" height="1.8" fill="#e89090"/>
<rect x="327.0" y="70.7" width="18.0" height="3.1" fill="#8eabd0"/>
<rect x="345.0" y="70.7" width="16.5" height="3.1" fill="#d0b0c8"/>
<rect x="361.5" y="65.4" width="3.9" height="28.6" fill="#d05458"/>
<rect x="362.2" y="65.9" width="2.6" height="14.0" fill="#c43c42"/>
<rect x="374.7" y="70.7" width="4.6" height="3.1" fill="#6aa6d6"/>
<rect x="327.0" y="80.0" width="34.5" height="2.3" fill="#b0d0e6"/>
<rect x="327.0" y="86.2" width="33.0" height="2.3" fill="#a8a6cc"/>
<rect x="369.3" y="86.2" width="4.7" height="2.3" fill="#d04444"/>
<rect x="395.0" y="86.2" width="15.0" height="2.3" fill="#a8d0e8"/>
<rect x="395.5" y="67.9" width="1.5" height="17.0" fill="#d86060"/>
<rect x="400.0" y="77.9" width="3.0" height="4.0" fill="#c83a3e"/>
<rect x="354.2" y="66.4" width="0.5" height="22.2" fill="#e8a8ac" fill-opacity="0.33"/>
<rect x="349.5" y="70.5" width="0.5" height="20.5" fill="#f0c8c8" fill-opacity="0.35"/>
<rect x="345.7" y="70.4" width="0.8" height="19.7" fill="#f0c8c8" fill-opacity="0.54"/>
<rect x="414.2" y="69.0" width="0.6" height="20.2" fill="#d87c84" fill-opacity="0.54"/>
<rect x="395.9" y="65.6" width="0.6" height="25.6" fill="#eab4b8" fill-opacity="0.31"/>
<rect x="396.6" y="67.7" width="0.8" height="22.4" fill="#f0c8c8" fill-opacity="0.58"/>
<rect x="379.6" y="70.7" width="0.5" height="22.3" fill="#d87c84" fill-opacity="0.59"/>
<rect x="403.1" y="66.4" width="0.8" height="23.9" fill="#d87c84" fill-opacity="0.60"/>
<rect x="377.4" y="69.4" width="0.6" height="20.6" fill="#f0c8c8" fill-opacity="0.56"/>
<rect x="392.5" y="68.3" width="0.5" height="20.1" fill="#f0c8c8" fill-opacity="0.37"/>
<rect x="386.5" y="65.0" width="0.5" height="28.0" fill="#eab4b8" fill-opacity="0.37"/>
<rect x="376.9" y="69.0" width="0.5" height="21.9" fill="#d87c84" fill-opacity="0.44"/>
<rect x="384.4" y="68.7" width="0.5" height="21.1" fill="#e49a9e" fill-opacity="0.40"/>
<rect x="408.9" y="66.6" width="0.5" height="21.7" fill="#e8a8ac" fill-opacity="0.39"/>
<rect x="361.0" y="66.9" width="0.5" height="25.5" fill="#e8a8ac" fill-opacity="0.60"/>
<rect x="319.8" y="70.0" width="0.5" height="20.7" fill="#f0c8c8" fill-opacity="0.53"/>
<rect x="367.4" y="66.1" width="0.8" height="24.4" fill="#eab4b8" fill-opacity="0.43"/>
<rect x="354.2" y="65.2" width="0.8" height="26.7" fill="#e8a8ac" fill-opacity="0.56"/>
<rect x="401.6" y="66.1" width="1.0" height="22.3" fill="#f0c8c8" fill-opacity="0.57"/>
<rect x="321.2" y="67.5" width="1.0" height="22.4" fill="#e8a8ac" fill-opacity="0.54"/>
<rect x="408.6" y="68.4" width="0.8" height="23.1" fill="#e49a9e" fill-opacity="0.46"/>
<rect x="332.6" y="68.5" width="0.5" height="24.3" fill="#d87c84" fill-opacity="0.54"/>
<rect x="373.5" y="66.5" width="0.8" height="22.7" fill="#e49a9e" fill-opacity="0.51"/>
<rect x="360.2" y="70.7" width="1.0" height="17.6" fill="#eab4b8" fill-opacity="0.59"/>
<rect x="404.9" y="68.2" width="0.5" height="25.8" fill="#f0c8c8" fill-opacity="0.51"/>
<rect x="358.2" y="70.8" width="0.6" height="20.2" fill="#eab4b8" fill-opacity="0.42"/>
<rect x="380.2" y="65.1" width="1.0" height="24.6" fill="#eab4b8" fill-opacity="0.37"/>
<rect x="372.0" y="65.0" width="1.0" height="28.6" fill="#f0c8c8" fill-opacity="0.52"/>
<rect x="377.0" y="70.6" width="0.6" height="18.3" fill="#f0c8c8" fill-opacity="0.60"/>
<rect x="403.3" y="66.9" width="0.5" height="27.0" fill="#e8a8ac" fill-opacity="0.47"/>
<rect x="313.4" y="94.0" width="2.8" height="5.5" fill="#c8dcec"/>
<rect x="313.4" y="99.5" width="2.8" height="2.1" fill="#c8dcec"/>
<rect x="313.4" y="101.6" width="2.8" height="3.1" fill="#c8dcec"/>
<rect x="313.4" y="104.7" width="2.8" height="4.7" fill="#c8dcec"/>
<rect x="313.4" y="109.3" width="2.8" height="3.7" fill="#c8dcec"/>
<rect x="313.4" y="113.1" width="2.8" height="2.1" fill="#e0e8f0"/>
<rect x="313.4" y="115.2" width="2.8" height="4.5" fill="#c8dcec"/>
<rect x="313.4" y="119.6" width="2.8" height="3.5" fill="#d5e6f0"/>
<rect x="316.2" y="94.0" width="2.5" height="4.6" fill="#d5e6f0"/>
<rect x="316.2" y="98.6" width="2.5" height="4.0" fill="#e0e8f0"/>
<rect x="316.2" y="102.6" width="2.5" height="5.7" fill="#e0e8f0"/>
<rect x="316.2" y="108.4" width="2.5" height="2.3" fill="#c8dcec"/>
<rect x="316.2" y="110.7" width="2.5" height="2.9" fill="#d5e6f0"/>
<rect x="316.2" y="113.6" width="2.5" height="4.4" fill="#f0d8dc"/>
<rect x="316.2" y="118.0" width="2.5" height="3.8" fill="#c8dcec"/>
<rect x="316.2" y="121.8" width="2.5" height="1.3" fill="#d5e6f0"/>
<rect x="318.7" y="94.0" width="1.7" height="4.3" fill="#e0e8f0"/>
<rect x="318.7" y="98.3" width="1.7" height="4.3" fill="#d5e6f0"/>
<rect x="318.7" y="102.6" width="1.7" height="5.4" fill="#c8dcec"/>
<rect x="318.7" y="107.9" width="1.7" height="3.7" fill="#c8dcec"/>
<rect x="318.7" y="111.7" width="1.7" height="3.5" fill="#e0e8f0"/>
<rect x="318.7" y="115.2" width="1.7" height="3.2" fill="#f0d8dc"/>
<rect x="318.7" y="118.4" width="1.7" height="4.7" fill="#d5e6f0"/>
<rect x="320.4" y="94.0" width="2.4" height="2.2" fill="#c8dcec"/>
<rect x="320.4" y="96.2" width="2.4" height="4.6" fill="#c8dcec"/>
<rect x="320.4" y="100.8" width="2.4" height="5.9" fill="#e0e8f0"/>
<rect x="320.4" y="106.7" width="2.4" height="3.4" fill="#d5e6f0"/>
<rect x="320.4" y="110.1" width="2.4" height="3.9" fill="#c8dcec"/>
<rect x="320.4" y="114.0" width="2.4" height="4.7" fill="#d5e6f0"/>
<rect x="320.4" y="118.7" width="2.4" height="2.6" fill="#c8dcec"/>
<rect x="320.4" y="121.3" width="2.4" height="1.8" fill="#d5e6f0"/>
<rect x="322.8" y="94.0" width="2.9" height="4.0" fill="#c8dcec"/>
<rect x="322.8" y="98.0" width="2.9" height="5.0" fill="#c8dcec"/>
<rect x="322.8" y="103.0" width="2.9" height="5.8" fill="#c8dcec"/>
<rect x="322.8" y="108.9" width="2.9" height="5.7" fill="#e0e8f0"/>
<rect x="322.8" y="114.6" width="2.9" height="4.0" fill="#d5e6f0"/>
<rect x="322.8" y="118.5" width="2.9" height="4.6" fill="#f0d8dc"/>
<rect x="325.7" y="94.0" width="2.6" height="2.4" fill="#c8dcec"/>
<rect x="325.7" y="96.4" width="2.6" height="3.9" fill="#d5e6f0"/>
<rect x="325.7" y="100.2" width="2.6" height="3.8" fill="#c8dcec"/>
<rect x="325.7" y="104.0" width="2.6" height="3.2" fill="#d5e6f0"/>
<rect x="325.7" y="107.1" width="2.6" height="2.2" fill="#c8dcec"/>
<rect x="325.7" y="109.4" width="2.6" height="4.2" fill="#c8dcec"/>
<rect x="325.7" y="113.5" width="2.6" height="3.5" fill="#c8dcec"/>
<rect x="325.7" y="117.0" width="2.6" height="4.8" fill="#c8dcec"/>
<rect x="325.7" y="121.8" width="2.6" height="1.3" fill="#d5e6f0"/>
<rect x="345.3" y="99.4" width="2.5" height="7.7" fill="#c0d8ea"/>
<rect x="345.3" y="107.1" width="2.5" height="8.0" fill="#c0d8ea"/>
<rect x="345.3" y="119.3" width="2.5" height="3.8" fill="#c0d8ea"/>
<rect x="347.8" y="98.1" width="1.6" height="3.3" fill="#c0d8ea"/>
<rect x="347.8" y="108.5" width="1.6" height="5.0" fill="#c0d8ea"/>
<rect x="347.8" y="118.6" width="1.6" height="4.5" fill="#e8a8a8"/>
<rect x="349.4" y="101.2" width="3.0" height="8.5" fill="#f0c8c0"/>
<rect x="352.4" y="94.0" width="2.6" height="8.5" fill="#f0c8c0"/>
<rect x="352.4" y="110.8" width="2.6" height="4.1" fill="#c0d8ea"/>
<rect x="355.0" y="94.0" width="2.8" height="4.9" fill="#f0c8c0"/>
<rect x="355.0" y="104.8" width="2.8" height="6.0" fill="#c0d8ea"/>
<rect x="355.0" y="110.7" width="2.8" height="8.1" fill="#f0c8c0"/>
<rect x="355.0" y="118.8" width="2.8" height="4.3" fill="#c0d8ea"/>
<rect x="357.8" y="97.1" width="3.1" height="6.6" fill="#f0c8c0"/>
<rect x="357.8" y="109.6" width="3.1" height="5.3" fill="#f0c8c0"/>
<rect x="357.8" y="115.0" width="3.1" height="5.5" fill="#e8a8a8"/>
<rect x="360.9" y="94.0" width="1.7" height="3.9" fill="#c0d8ea"/>
<rect x="360.9" y="97.9" width="1.7" height="3.3" fill="#f0c8c0"/>
<rect x="362.6" y="105.0" width="1.9" height="6.3" fill="#e8a8a8"/>
<rect x="362.6" y="111.3" width="1.9" height="8.2" fill="#f0c8c0"/>
<rect x="362.6" y="119.5" width="1.9" height="3.6" fill="#c0d8ea"/>
<rect x="364.5" y="106.5" width="2.0" height="6.5" fill="#f4dcd8"/>
<rect x="364.5" y="112.9" width="2.0" height="7.8" fill="#f0c8c0"/>
<rect x="366.5" y="106.6" width="2.2" height="5.2" fill="#f4dcd8"/>
<rect x="366.5" y="118.2" width="2.2" height="5.0" fill="#f4dcd8"/>
<rect x="368.7" y="100.0" width="1.7" height="6.5" fill="#c0d8ea"/>
<rect x="370.4" y="97.2" width="2.5" height="5.1" fill="#f4dcd8"/>
<rect x="370.4" y="108.6" width="2.5" height="8.2" fill="#f0c8c0"/>
<rect x="370.4" y="116.7" width="2.5" height="6.4" fill="#f0c8c0"/>
<rect x="372.9" y="94.0" width="2.3" height="8.9" fill="#e8a8a8"/>
<rect x="372.9" y="109.5" width="2.3" height="3.3" fill="#c0d8ea"/>
<rect x="372.9" y="112.8" width="2.3" height="3.4" fill="#f0c8c0"/>
<rect x="372.9" y="120.7" width="2.3" height="2.4" fill="#c0d8ea"/>
<rect x="375.2" y="94.0" width="2.9" height="8.9" fill="#f4dcd8"/>
<rect x="375.2" y="109.6" width="2.9" height="7.3" fill="#f4dcd8"/>
<rect x="378.1" y="94.0" width="2.1" height="4.1" fill="#e8a8a8"/>
<rect x="378.1" y="98.0" width="2.1" height="6.1" fill="#f4dcd8"/>
<rect x="378.1" y="120.1" width="2.1" height="3.0" fill="#c0d8ea"/>
<rect x="380.2" y="94.0" width="2.9" height="6.8" fill="#c0d8ea"/>
<rect x="380.2" y="100.8" width="2.9" height="8.3" fill="#c0d8ea"/>
<rect x="380.2" y="109.1" width="2.9" height="8.9" fill="#f0c8c0"/>
<rect x="380.2" y="118.0" width="2.9" height="5.1" fill="#c0d8ea"/>
<rect x="383.1" y="97.7" width="2.1" height="7.1" fill="#f0c8c0"/>
<rect x="383.1" y="104.8" width="2.1" height="4.8" fill="#e8a8a8"/>
<rect x="385.2" y="94.0" width="2.6" height="3.2" fill="#c0d8ea"/>
<rect x="385.2" y="112.5" width="2.6" height="8.6" fill="#c0d8ea"/>
<rect x="385.2" y="121.1" width="2.6" height="2.0" fill="#c0d8ea"/>
<rect x="387.9" y="94.0" width="2.6" height="7.1" fill="#f4dcd8"/>
<rect x="387.9" y="106.1" width="2.6" height="5.5" fill="#c0d8ea"/>
<rect x="390.5" y="94.0" width="2.2" height="8.7" fill="#c0d8ea"/>
<rect x="390.5" y="109.3" width="2.2" height="3.1" fill="#c0d8ea"/>
<rect x="390.5" y="112.4" width="2.2" height="6.9" fill="#c0d8ea"/>
<rect x="392.7" y="94.0" width="1.7" height="6.3" fill="#f4dcd8"/>
<rect x="392.7" y="113.6" width="1.7" height="5.2" fill="#e8a8a8"/>
<rect x="394.4" y="94.0" width="2.0" height="6.7" fill="#e8a8a8"/>
<rect x="394.4" y="100.7" width="2.0" height="4.4" fill="#c0d8ea"/>
<rect x="394.4" y="105.1" width="2.0" height="3.9" fill="#c0d8ea"/>
<rect x="394.4" y="112.8" width="2.0" height="8.9" fill="#f0c8c0"/>
<rect x="396.4" y="103.1" width="1.9" height="3.4" fill="#f0c8c0"/>
<rect x="396.4" y="114.3" width="1.9" height="5.3" fill="#f0c8c0"/>
<rect x="398.3" y="102.9" width="2.1" height="7.8" fill="#f4dcd8"/>
<rect x="398.3" y="110.8" width="2.1" height="5.5" fill="#f0c8c0"/>
<rect x="400.4" y="101.0" width="2.1" height="7.8" fill="#e8a8a8"/>
<rect x="402.5" y="94.0" width="2.1" height="4.5" fill="#f4dcd8"/>
<rect x="402.5" y="98.5" width="2.1" height="3.6" fill="#c0d8ea"/>
<rect x="402.5" y="102.0" width="2.1" height="6.9" fill="#c0d8ea"/>
<rect x="404.6" y="94.0" width="2.7" height="6.5" fill="#c0d8ea"/>
<rect x="404.6" y="100.5" width="2.7" height="6.5" fill="#e8a8a8"/>
<rect x="407.3" y="100.0" width="2.0" height="7.7" fill="#c0d8ea"/>
<rect x="407.3" y="107.6" width="2.0" height="5.6" fill="#c0d8ea"/>
<rect x="407.3" y="113.2" width="2.0" height="4.3" fill="#f4dcd8"/>
<rect x="407.3" y="122.8" width="2.0" height="0.3" fill="#f0c8c0"/>
<rect x="409.3" y="109.3" width="1.6" height="6.6" fill="#c0d8ea"/>
<rect x="409.3" y="116.0" width="1.6" height="3.7" fill="#c0d8ea"/>
<rect x="409.3" y="119.7" width="1.6" height="3.5" fill="#c0d8ea"/>
<rect x="410.9" y="100.0" width="2.4" height="5.6" fill="#f4dcd8"/>
<rect x="413.3" y="94.0" width="2.5" height="4.4" fill="#c0d8ea"/>
<rect x="413.3" y="106.1" width="2.5" height="6.7" fill="#e8a8a8"/>
<rect x="413.3" y="112.8" width="2.5" height="6.9" fill="#f4dcd8"/>
<rect x="413.3" y="119.8" width="2.5" height="3.3" fill="#c0d8ea"/>
<rect x="415.8" y="94.0" width="1.2" height="5.5" fill="#f0c8c0"/>
<rect x="328.3" y="96.6" width="15.4" height="9.0" fill="#cc3538"/>
<rect x="313.4" y="105.6" width="103.5" height="2.0" fill="#e4edf3"/>
<rect x="328.3" y="108.0" width="15.4" height="4.0" fill="#c87888"/>
<rect x="328.3" y="112.0" width="2.7" height="3.0" fill="#d88488"/>
<rect x="328.3" y="115.0" width="2.7" height="3.8" fill="#c86070"/>
<rect x="328.3" y="118.8" width="2.7" height="4.3" fill="#d88488"/>
<rect x="331.0" y="112.0" width="2.6" height="3.9" fill="#d88488"/>
<rect x="331.0" y="115.9" width="2.6" height="4.3" fill="#c86070"/>
<rect x="331.0" y="120.2" width="2.6" height="2.6" fill="#d88488"/>
<rect x="331.0" y="122.9" width="2.6" height="0.2" fill="#e0a0a8"/>
<rect x="333.6" y="112.0" width="3.0" height="5.7" fill="#d88488"/>
<rect x="333.6" y="117.7" width="3.0" height="4.6" fill="#d88488"/>
<rect x="333.6" y="122.3" width="3.0" height="0.9" fill="#e0a0a8"/>
<rect x="336.6" y="112.0" width="2.0" height="2.2" fill="#e0a0a8"/>
<rect x="336.6" y="114.2" width="2.0" height="3.3" fill="#e0a0a8"/>
<rect x="336.6" y="117.5" width="2.0" height="3.1" fill="#d88488"/>
<rect x="336.6" y="120.7" width="2.0" height="2.5" fill="#e0a0a8"/>
<rect x="338.6" y="112.0" width="3.0" height="3.9" fill="#ecc0c4"/>
<rect x="338.6" y="115.9" width="3.0" height="2.6" fill="#d88488"/>
<rect x="338.6" y="118.5" width="3.0" height="4.2" fill="#d88488"/>
<rect x="338.6" y="122.7" width="3.0" height="0.4" fill="#d88488"/>
<rect x="341.5" y="112.0" width="2.2" height="4.9" fill="#d88488"/>
<rect x="341.5" y="116.9" width="2.2" height="4.4" fill="#d88488"/>
<rect x="341.5" y="121.3" width="2.2" height="1.8" fill="#ecc0c4"/>
<rect x="343.7" y="94.0" width="1.6" height="29.1" fill="#d04a4e"/>
<rect x="362.0" y="96.0" width="6.0" height="12.0" fill="#bcd8ea"/>
<rect x="385.0" y="96.0" width="10.0" height="9.0" fill="#bcd8ea"/>
<rect x="395.0" y="102.0" width="10.0" height="4.0" fill="#f0b494"/>
<rect x="395.0" y="108.0" width="15.0" height="4.0" fill="#f0a48a"/>
<rect x="393.9" y="98.1" width="1.0" height="19.9" fill="#e49a9e" fill-opacity="0.60"/>
<rect x="348.3" y="97.2" width="1.0" height="20.2" fill="#eab4b8" fill-opacity="0.43"/>
<rect x="385.6" y="97.6" width="0.5" height="20.9" fill="#f0c8c8" fill-opacity="0.49"/>
<rect x="367.2" y="99.3" width="1.0" height="22.5" fill="#e49a9e" fill-opacity="0.30"/>
<rect x="357.1" y="94.8" width="0.6" height="27.5" fill="#e49a9e" fill-opacity="0.47"/>
<rect x="356.1" y="96.7" width="0.8" height="22.8" fill="#e49a9e" fill-opacity="0.38"/>
<rect x="348.5" y="96.5" width="0.6" height="26.1" fill="#e8a8ac" fill-opacity="0.31"/>
<rect x="391.6" y="96.4" width="1.0" height="21.2" fill="#eab4b8" fill-opacity="0.55"/>
<rect x="410.1" y="96.8" width="0.6" height="24.5" fill="#f0c8c8" fill-opacity="0.36"/>
<rect x="390.9" y="96.5" width="0.5" height="25.7" fill="#f0c8c8" fill-opacity="0.49"/>
<rect x="367.9" y="99.4" width="1.0" height="18.9" fill="#e49a9e" fill-opacity="0.54"/>
<rect x="362.0" y="95.5" width="0.8" height="24.3" fill="#d87c84" fill-opacity="0.56"/>
<rect x="387.5" y="98.5" width="0.8" height="22.6" fill="#f0c8c8" fill-opacity="0.56"/>
<rect x="411.9" y="96.8" width="0.6" height="25.6" fill="#e49a9e" fill-opacity="0.37"/>
<rect x="362.4" y="97.0" width="1.0" height="22.3" fill="#d87c84" fill-opacity="0.36"/>
<rect x="350.5" y="99.8" width="0.6" height="19.6" fill="#eab4b8" fill-opacity="0.33"/>
<rect x="381.1" y="96.4" width="1.0" height="22.8" fill="#d87c84" fill-opacity="0.57"/>
<rect x="400.8" y="97.9" width="0.5" height="23.1" fill="#d87c84" fill-opacity="0.47"/>
<rect x="364.2" y="99.0" width="0.6" height="21.8" fill="#e49a9e" fill-opacity="0.38"/>
<rect x="367.5" y="99.8" width="0.5" height="22.3" fill="#d87c84" fill-opacity="0.48"/>
<rect x="390.4" y="99.9" width="0.6" height="20.1" fill="#e49a9e" fill-opacity="0.46"/>
<rect x="400.5" y="95.3" width="1.0" height="22.5" fill="#d87c84" fill-opacity="0.51"/>
<rect x="412.3" y="99.6" width="0.8" height="18.7" fill="#d87c84" fill-opacity="0.52"/>
<rect x="347.2" y="97.0" width="0.8" height="26.1" fill="#f0c8c8" fill-opacity="0.32"/>
<rect x="401.6" y="95.4" width="0.5" height="24.9" fill="#f0c8c8" fill-opacity="0.40"/>
<rect x="313.4" y="123.1" width="1.7" height="3.7" fill="#e8a0a0"/>
<rect x="313.4" y="126.8" width="1.7" height="5.9" fill="#e8a0a0"/>
<rect x="313.4" y="132.7" width="1.7" height="5.7" fill="#f4e0dc"/>
<rect x="313.4" y="138.4" width="1.7" height="4.3" fill="#ecd4d8"/>
<rect x="313.4" y="142.7" width="1.7" height="5.2" fill="#ecd4d8"/>
<rect x="313.4" y="147.9" width="1.7" height="4.2" fill="#ecd4d8"/>
<rect x="315.1" y="123.1" width="1.7" height="3.6" fill="#ecd4d8"/>
<rect x="315.1" y="126.8" width="1.7" height="6.0" fill="#f0c0b8"/>
<rect x="315.1" y="132.7" width="1.7" height="5.6" fill="#e89080"/>
<rect x="315.1" y="138.3" width="1.7" height="5.0" fill="#f0c0b8"/>
<rect x="315.1" y="143.3" width="1.7" height="3.9" fill="#f4e0dc"/>
<rect x="315.1" y="147.2" width="1.7" height="4.7" fill="#ecd4d8"/>
<rect x="315.1" y="151.9" width="1.7" height="0.3" fill="#e8a0a0"/>
<rect x="316.8" y="123.1" width="2.4" height="4.9" fill="#a0b8dc"/>
<rect x="316.8" y="128.0" width="2.4" height="4.3" fill="#f4e0dc"/>
<rect x="316.8" y="132.2" width="2.4" height="5.3" fill="#ecd4d8"/>
<rect x="316.8" y="137.5" width="2.4" height="2.6" fill="#ecd4d8"/>
<rect x="316.8" y="140.1" width="2.4" height="2.6" fill="#e89080"/>
<rect x="316.8" y="142.8" width="2.4" height="3.2" fill="#e8a0a0"/>
<rect x="316.8" y="146.0" width="2.4" height="3.9" fill="#f0c0b8"/>
<rect x="316.8" y="149.9" width="2.4" height="2.4" fill="#f4e0dc"/>
<rect x="319.2" y="123.1" width="2.1" height="5.4" fill="#f4e0dc"/>
<rect x="319.2" y="128.5" width="2.1" height="2.0" fill="#f0c0b8"/>
<rect x="319.2" y="130.5" width="2.1" height="2.4" fill="#f4e0dc"/>
<rect x="319.2" y="132.9" width="2.1" height="2.3" fill="#ecd4d8"/>
<rect x="319.2" y="135.2" width="2.1" height="5.1" fill="#f0c0b8"/>
<rect x="319.2" y="140.2" width="2.1" height="4.7" fill="#e8a0a0"/>
<rect x="319.2" y="144.9" width="2.1" height="4.1" fill="#ecd4d8"/>
<rect x="319.2" y="149.0" width="2.1" height="3.3" fill="#ecd4d8"/>
<rect x="321.4" y="123.1" width="2.7" height="2.4" fill="#ecd4d8"/>
<rect x="321.4" y="125.5" width="2.7" height="2.8" fill="#f0c0b8"/>
<rect x="321.4" y="128.3" width="2.7" height="4.3" fill="#ecd4d8"/>
<rect x="321.4" y="132.7" width="2.7" height="5.9" fill="#f4e0dc"/>
<rect x="321.4" y="138.6" width="2.7" height="3.5" fill="#ecd4d8"/>
<rect x="321.4" y="142.1" width="2.7" height="5.3" fill="#e89080"/>
<rect x="321.4" y="147.4" width="2.7" height="2.7" fill="#f4e0dc"/>
<rect x="321.4" y="150.1" width="2.7" height="2.1" fill="#e89080"/>
<rect x="324.0" y="123.1" width="1.9" height="2.5" fill="#ecd4d8"/>
<rect x="324.0" y="125.6" width="1.9" height="2.9" fill="#e89080"/>
<rect x="324.0" y="128.5" width="1.9" height="5.6" fill="#f0c0b8"/>
<rect x="324.0" y="134.2" width="1.9" height="2.5" fill="#e8a0a0"/>
<rect x="324.0" y="136.7" width="1.9" height="3.0" fill="#f0c0b8"/>
<rect x="324.0" y="139.6" width="1.9" height="4.9" fill="#f4e0dc"/>
<rect x="324.0" y="144.5" width="1.9" height="3.7" fill="#f0c0b8"/>
<rect x="324.0" y="148.3" width="1.9" height="3.9" fill="#e8a0a0"/>
<rect x="326.0" y="123.6" width="36.0" height="2.5" fill="#e4d8e4"/>
<rect x="326.0" y="126.1" width="36.0" height="3.0" fill="#d8d0e4"/>
<rect x="326.0" y="129.1" width="36.0" height="4.0" fill="#a4acd2"/>
<rect x="326.0" y="133.1" width="36.0" height="4.0" fill="#c8b8d4"/>
<rect x="326.0" y="137.1" width="36.0" height="4.0" fill="#7ea2d0"/>
<rect x="326.0" y="141.1" width="36.0" height="3.0" fill="#6e9acc"/>
<rect x="326.0" y="144.1" width="36.0" height="4.0" fill="#b4d0e8"/>
<rect x="326.0" y="148.1" width="36.0" height="4.1" fill="#dcd4e0"/>
<rect x="326.0" y="123.1" width="2.3" height="3.2" fill="#e8a0a0" fill-opacity="0.70"/>
<rect x="326.0" y="134.6" width="2.3" height="2.6" fill="#f4d0c8" fill-opacity="0.70"/>
<rect x="326.0" y="145.3" width="2.3" height="3.0" fill="#6a98cc" fill-opacity="0.70"/>
<rect x="328.3" y="123.1" width="2.8" height="2.1" fill="#f0c0b8" fill-opacity="0.70"/>
<rect x="328.3" y="130.6" width="2.8" height="3.4" fill="#f0c0b8" fill-opacity="0.70"/>
<rect x="328.3" y="142.2" width="2.8" height="3.5" fill="#f4d0c8" fill-opacity="0.70"/>
<rect x="328.3" y="145.7" width="2.8" height="3.0" fill="#f4d0c8" fill-opacity="0.70"/>
<rect x="331.2" y="123.1" width="3.2" height="2.0" fill="#f0c0b8" fill-opacity="0.70"/>
<rect x="331.2" y="126.9" width="3.2" height="2.6" fill="#6a98cc" fill-opacity="0.70"/>
<rect x="331.2" y="132.7" width="3.2" height="3.7" fill="#6a98cc" fill-opacity="0.70"/>
<rect x="331.2" y="141.5" width="3.2" height="2.5" fill="#f4d0c8" fill-opacity="0.70"/>
<rect x="331.2" y="144.0" width="3.2" height="3.0" fill="#6a98cc" fill-opacity="0.70"/>
<rect x="336.0" y="126.0" width="2.9" height="2.4" fill="#f0c0b8" fill-opacity="0.70"/>
<rect x="336.0" y="128.4" width="2.9" height="2.8" fill="#f0c0b8" fill-opacity="0.70"/>
<rect x="336.0" y="131.1" width="2.9" height="3.6" fill="#6a98cc" fill-opacity="0.70"/>
<rect x="336.0" y="134.7" width="2.9" height="3.3" fill="#e8a0a0" fill-opacity="0.70"/>
<rect x="336.0" y="143.6" width="2.9" height="3.5" fill="#6a98cc" fill-opacity="0.70"/>
<rect x="336.0" y="147.2" width="2.9" height="1.6" fill="#f0c0b8" fill-opacity="0.70"/>
<rect x="338.9" y="123.1" width="2.4" height="2.4" fill="#f4d0c8" fill-opacity="0.70"/>
<rect x="338.9" y="127.5" width="2.4" height="1.9" fill="#f0c0b8" fill-opacity="0.70"/>
<rect x="338.9" y="129.3" width="2.4" height="2.7" fill="#f0c0b8" fill-opacity="0.70"/>
<rect x="338.9" y="132.0" width="2.4" height="2.3" fill="#6a98cc" fill-opacity="0.70"/>
<rect x="338.9" y="135.8" width="2.4" height="3.3" fill="#6a98cc" fill-opacity="0.70"/>
<rect x="338.9" y="142.6" width="2.4" height="1.7" fill="#e8a0a0" fill-opacity="0.70"/>
<rect x="341.2" y="123.1" width="2.1" height="1.8" fill="#6a98cc" fill-opacity="0.70"/>
<rect x="341.2" y="139.5" width="2.1" height="3.0" fill="#f4d0c8" fill-opacity="0.70"/>
<rect x="341.2" y="142.5" width="2.1" height="3.8" fill="#f4d0c8" fill-opacity="0.70"/>
<rect x="343.4" y="128.6" width="2.2" height="2.0" fill="#f0c0b8" fill-opacity="0.70"/>
<rect x="343.4" y="136.4" width="2.2" height="3.5" fill="#6a98cc" fill-opacity="0.70"/>
<rect x="343.4" y="142.0" width="2.2" height="3.9" fill="#f4d0c8" fill-opacity="0.70"/>
<rect x="343.4" y="149.2" width="2.2" height="3.0" fill="#f0c0b8" fill-opacity="0.70"/>
<rect x="345.5" y="135.5" width="2.4" height="2.1" fill="#f4d0c8" fill-opacity="0.70"/>
<rect x="345.5" y="137.5" width="2.4" height="3.9" fill="#f4d0c8" fill-opacity="0.70"/>
<rect x="345.5" y="141.4" width="2.4" height="3.6" fill="#6a98cc" fill-opacity="0.70"/>
<rect x="345.5" y="148.6" width="2.4" height="1.7" fill="#f0c0b8" fill-opacity="0.70"/>
<rect x="345.5" y="150.3" width="2.4" height="2.0" fill="#6a98cc" fill-opacity="0.70"/>
<rect x="348.0" y="123.1" width="1.7" height="1.7" fill="#f0c0b8" fill-opacity="0.70"/>
<rect x="348.0" y="124.8" width="1.7" height="2.7" fill="#6a98cc" fill-opacity="0.70"/>
<rect x="348.0" y="131.5" width="1.7" height="3.2" fill="#e8a0a0" fill-opacity="0.70"/>
<rect x="348.0" y="141.0" width="1.7" height="3.8" fill="#f0c0b8" fill-opacity="0.70"/>
<rect x="349.6" y="128.8" width="1.8" height="3.2" fill="#f4d0c8" fill-opacity="0.70"/>
<rect x="349.6" y="138.9" width="1.8" height="3.3" fill="#e8a0a0" fill-opacity="0.70"/>
<rect x="349.6" y="144.6" width="1.8" height="1.7" fill="#e8a0a0" fill-opacity="0.70"/>
<rect x="349.6" y="146.3" width="1.8" height="1.6" fill="#e8a0a0" fill-opacity="0.70"/>
<rect x="349.6" y="147.9" width="1.8" height="3.8" fill="#e8a0a0" fill-opacity="0.70"/>
<rect x="349.6" y="151.7" width="1.8" height="0.5" fill="#f0c0b8" fill-opacity="0.70"/>
<rect x="351.4" y="123.1" width="3.1" height="3.5" fill="#f4d0c8" fill-opacity="0.70"/>
<rect x="351.4" y="129.3" width="3.1" height="3.0" fill="#e8a0a0" fill-opacity="0.70"/>
<rect x="351.4" y="138.4" width="3.1" height="3.6" fill="#e8a0a0" fill-opacity="0.70"/>
<rect x="351.4" y="145.9" width="3.1" height="3.6" fill="#f0c0b8" fill-opacity="0.70"/>
<rect x="354.5" y="131.9" width="3.0" height="2.2" fill="#e8a0a0" fill-opacity="0.70"/>
<rect x="357.6" y="133.4" width="3.0" height="3.5" fill="#f0c0b8" fill-opacity="0.70"/>
<rect x="357.6" y="140.2" width="3.0" height="3.7" fill="#f0c0b8" fill-opacity="0.70"/>
<rect x="357.6" y="145.5" width="3.0" height="3.4" fill="#6a98cc" fill-opacity="0.70"/>
<rect x="357.6" y="148.8" width="3.0" height="3.4" fill="#f0c0b8" fill-opacity="0.70"/>
<rect x="360.6" y="123.1" width="1.4" height="2.9" fill="#e8a0a0" fill-opacity="0.70"/>
<rect x="360.6" y="133.0" width="1.4" height="2.2" fill="#f4d0c8" fill-opacity="0.70"/>
<rect x="360.6" y="145.8" width="1.4" height="3.2" fill="#f4d0c8" fill-opacity="0.70"/>
<rect x="360.6" y="149.0" width="1.4" height="3.2" fill="#6a98cc" fill-opacity="0.70"/>
<rect x="362.0" y="123.1" width="3.1" height="3.0" fill="#f8d4c4"/>
<rect x="362.0" y="126.1" width="3.1" height="2.4" fill="#c8dcec"/>
<rect x="362.0" y="128.5" width="3.1" height="2.3" fill="#f4c4b0"/>
<rect x="362.0" y="130.8" width="3.1" height="5.8" fill="#f4c4b0"/>
<rect x="362.0" y="136.6" width="3.1" height="4.9" fill="#d8645a"/>
<rect x="362.0" y="141.5" width="3.1" height="2.0" fill="#f4e4e0"/>
<rect x="362.0" y="143.5" width="3.1" height="2.2" fill="#f8d4c4"/>
<rect x="362.0" y="145.7" width="3.1" height="5.3" fill="#d8645a"/>
<rect x="362.0" y="151.0" width="3.1" height="1.3" fill="#f4c4b0"/>
<rect x="365.1" y="123.1" width="2.7" height="2.2" fill="#d8645a"/>
<rect x="365.1" y="125.3" width="2.7" height="5.7" fill="#c8dcec"/>
<rect x="365.1" y="131.0" width="2.7" height="2.5" fill="#f4e4e0"/>
<rect x="365.1" y="133.4" width="2.7" height="4.8" fill="#ec9c88"/>
<rect x="365.1" y="138.2" width="2.7" height="5.1" fill="#c8dcec"/>
<rect x="365.1" y="143.3" width="2.7" height="3.7" fill="#d8645a"/>
<rect x="365.1" y="147.0" width="2.7" height="3.1" fill="#f4c4b0"/>
<rect x="365.1" y="150.1" width="2.7" height="2.2" fill="#ec9c88"/>
<rect x="367.8" y="123.1" width="2.8" height="3.5" fill="#f4c4b0"/>
<rect x="367.8" y="126.6" width="2.8" height="2.0" fill="#f8d4c4"/>
<rect x="367.8" y="128.6" width="2.8" height="5.0" fill="#f8d4c4"/>
<rect x="367.8" y="133.6" width="2.8" height="4.4" fill="#f4c4b0"/>
<rect x="367.8" y="137.9" width="2.8" height="2.7" fill="#f4c4b0"/>
<rect x="367.8" y="140.6" width="2.8" height="4.4" fill="#c8dcec"/>
<rect x="367.8" y="145.1" width="2.8" height="5.8" fill="#f4c4b0"/>
<rect x="367.8" y="150.9" width="2.8" height="1.4" fill="#f4c4b0"/>
<rect x="370.6" y="123.1" width="1.8" height="2.1" fill="#d8645a"/>
<rect x="370.6" y="125.2" width="1.8" height="3.7" fill="#ec9c88"/>
<rect x="370.6" y="128.9" width="1.8" height="5.8" fill="#ec9c88"/>
<rect x="370.6" y="134.7" width="1.8" height="5.3" fill="#d8645a"/>
<rect x="370.6" y="140.0" width="1.8" height="2.4" fill="#f4c4b0"/>
<rect x="370.6" y="142.4" width="1.8" height="4.4" fill="#f8d4c4"/>
<rect x="370.6" y="146.9" width="1.8" height="2.2" fill="#f4e4e0"/>
<rect x="370.6" y="149.1" width="1.8" height="2.9" fill="#c8dcec"/>
<rect x="370.6" y="152.0" width="1.8" height="0.2" fill="#f4e4e0"/>
<rect x="372.5" y="123.1" width="2.0" height="2.6" fill="#f8d4c4"/>
<rect x="372.5" y="125.7" width="2.0" height="5.7" fill="#f8d4c4"/>
<rect x="372.5" y="131.4" width="2.0" height="4.2" fill="#f4c4b0"/>
<rect x="372.5" y="135.6" width="2.0" height="3.5" fill="#f8d4c4"/>
<rect x="372.5" y="139.0" width="2.0" height="2.3" fill="#f4c4b0"/>
<rect x="372.5" y="141.3" width="2.0" height="2.2" fill="#f8d4c4"/>
<rect x="372.5" y="143.5" width="2.0" height="3.4" fill="#f4c4b0"/>
<rect x="372.5" y="146.9" width="2.0" height="3.4" fill="#f4c4b0"/>
<rect x="372.5" y="150.3" width="2.0" height="1.9" fill="#c8dcec"/>
<rect x="374.5" y="123.1" width="2.7" height="2.4" fill="#d8645a"/>
<rect x="374.5" y="125.5" width="2.7" height="2.2" fill="#ec9c88"/>
<rect x="374.5" y="127.7" width="2.7" height="5.2" fill="#f4c4b0"/>
<rect x="374.5" y="133.0" width="2.7" height="5.3" fill="#f4c4b0"/>
<rect x="374.5" y="138.2" width="2.7" height="3.6" fill="#f4e4e0"/>
<rect x="374.5" y="141.8" width="2.7" height="2.0" fill="#c8dcec"/>
<rect x="374.5" y="143.8" width="2.7" height="4.1" fill="#f4e4e0"/>
<rect x="374.5" y="148.0" width="2.7" height="4.3" fill="#c8dcec"/>
<rect x="377.1" y="123.1" width="2.0" height="2.8" fill="#ec9c88"/>
<rect x="377.1" y="125.9" width="2.0" height="3.1" fill="#c8dcec"/>
<rect x="377.1" y="129.0" width="2.0" height="2.4" fill="#c8dcec"/>
<rect x="377.1" y="131.4" width="2.0" height="3.7" fill="#f4c4b0"/>
<rect x="377.1" y="135.1" width="2.0" height="2.5" fill="#f8d4c4"/>
<rect x="377.1" y="137.5" width="2.0" height="5.4" fill="#f8d4c4"/>
<rect x="377.1" y="142.9" width="2.0" height="3.6" fill="#f8d4c4"/>
<rect x="377.1" y="146.5" width="2.0" height="2.7" fill="#f4e4e0"/>
<rect x="377.1" y="149.2" width="2.0" height="3.1" fill="#f4c4b0"/>
<rect x="379.1" y="123.1" width="1.6" height="2.5" fill="#f4c4b0"/>
<rect x="379.1" y="125.6" width="1.6" height="5.2" fill="#c8dcec"/>
<rect x="379.1" y="130.8" width="1.6" height="3.9" fill="#f4c4b0"/>
<rect x="379.1" y="134.7" width="1.6" height="4.6" fill="#f4c4b0"/>
<rect x="379.1" y="139.3" width="1.6" height="2.5" fill="#c8dcec"/>
<rect x="379.1" y="141.8" width="1.6" height="4.6" fill="#f4e4e0"/>
<rect x="379.1" y="146.4" width="1.6" height="5.3" fill="#f4c4b0"/>
<rect x="379.1" y="151.7" width="1.6" height="0.5" fill="#f4c4b0"/>
<rect x="380.7" y="123.1" width="2.4" height="2.1" fill="#f8d4c4"/>
<rect x="380.7" y="125.2" width="2.4" height="4.7" fill="#f4e4e0"/>
<rect x="380.7" y="130.0" width="2.4" height="4.0" fill="#f8d4c4"/>
<rect x="380.7" y="133.9" width="2.4" height="5.3" fill="#f8d4c4"/>
<rect x="380.7" y="139.2" width="2.4" height="5.2" fill="#f4c4b0"/>
<rect x="380.7" y="144.5" width="2.4" height="3.4" fill="#f4c4b0"/>
<rect x="380.7" y="147.9" width="2.4" height="4.4" fill="#ec9c88"/>
<rect x="383.1" y="123.1" width="3.2" height="3.2" fill="#ec9c88"/>
<rect x="383.1" y="126.3" width="3.2" height="5.5" fill="#f8d4c4"/>
<rect x="383.1" y="131.7" width="3.2" height="5.0" fill="#f8d4c4"/>
<rect x="383.1" y="136.8" width="3.2" height="5.7" fill="#f4c4b0"/>
<rect x="383.1" y="142.5" width="3.2" height="4.5" fill="#f4c4b0"/>
<rect x="383.1" y="146.9" width="3.2" height="4.7" fill="#f8d4c4"/>
<rect x="383.1" y="151.6" width="3.2" height="0.6" fill="#f4c4b0"/>
<rect x="386.2" y="123.1" width="2.5" height="2.3" fill="#ec9c88"/>
<rect x="386.2" y="125.4" width="2.5" height="2.3" fill="#ec9c88"/>
<rect x="386.2" y="127.7" width="2.5" height="5.3" fill="#f4e4e0"/>
<rect x="386.2" y="133.0" width="2.5" height="5.4" fill="#ec9c88"/>
<rect x="386.2" y="138.4" width="2.5" height="3.8" fill="#f4c4b0"/>
<rect x="386.2" y="142.1" width="2.5" height="5.2" fill="#c8dcec"/>
<rect x="386.2" y="147.3" width="2.5" height="3.6" fill="#f4c4b0"/>
<rect x="386.2" y="150.9" width="2.5" height="1.3" fill="#f4c4b0"/>
<rect x="388.7" y="123.1" width="1.8" height="2.3" fill="#ec9c88"/>
<rect x="388.7" y="125.4" width="1.8" height="2.5" fill="#f8d4c4"/>
<rect x="388.7" y="128.0" width="1.8" height="4.4" fill="#f8d4c4"/>
<rect x="388.7" y="132.4" width="1.8" height="4.2" fill="#f4c4b0"/>
<rect x="388.7" y="136.6" width="1.8" height="3.1" fill="#f8d4c4"/>
<rect x="388.7" y="139.7" width="1.8" height="4.3" fill="#c8dcec"/>
<rect x="388.7" y="144.1" width="1.8" height="4.5" fill="#f4c4b0"/>
<rect x="388.7" y="148.6" width="1.8" height="2.8" fill="#ec9c88"/>
<rect x="388.7" y="151.4" width="1.8" height="0.8" fill="#f8d4c4"/>
<rect x="390.5" y="123.1" width="2.5" height="3.0" fill="#f4c4b0"/>
<rect x="390.5" y="126.2" width="2.5" height="4.2" fill="#ec9c88"/>
<rect x="390.5" y="130.4" width="2.5" height="5.7" fill="#f4c4b0"/>
<rect x="390.5" y="136.1" width="2.5" height="2.8" fill="#f4c4b0"/>
<rect x="390.5" y="138.9" width="2.5" height="2.1" fill="#f4e4e0"/>
<rect x="390.5" y="141.0" width="2.5" height="5.5" fill="#f4c4b0"/>
<rect x="390.5" y="146.5" width="2.5" height="2.1" fill="#c8dcec"/>
<rect x="390.5" y="148.6" width="2.5" height="3.0" fill="#c8dcec"/>
<rect x="390.5" y="151.6" width="2.5" height="0.7" fill="#f4e4e0"/>
<rect x="393.1" y="123.1" width="2.0" height="4.4" fill="#f4c4b0"/>
<rect x="393.1" y="127.5" width="2.0" height="5.0" fill="#f4c4b0"/>
<rect x="393.1" y="132.6" width="2.0" height="5.5" fill="#c8dcec"/>
<rect x="393.1" y="138.1" width="2.0" height="5.6" fill="#ec9c88"/>
<rect x="393.1" y="143.6" width="2.0" height="5.8" fill="#c8dcec"/>
<rect x="393.1" y="149.4" width="2.0" height="2.8" fill="#c8dcec"/>
<rect x="395.1" y="123.1" width="2.1" height="2.5" fill="#f4c4b0"/>
<rect x="395.1" y="125.6" width="2.1" height="4.4" fill="#f4c4b0"/>
<rect x="395.1" y="130.0" width="2.1" height="2.4" fill="#f4e4e0"/>
<rect x="395.1" y="132.4" width="2.1" height="2.6" fill="#f4e4e0"/>
<rect x="395.1" y="135.0" width="2.1" height="3.1" fill="#ec9c88"/>
<rect x="395.1" y="138.1" width="2.1" height="5.7" fill="#f8d4c4"/>
<rect x="395.1" y="143.8" width="2.1" height="5.3" fill="#f8d4c4"/>
<rect x="395.1" y="149.1" width="2.1" height="3.1" fill="#f8d4c4"/>
<rect x="397.2" y="123.1" width="2.6" height="4.3" fill="#ec9c88"/>
<rect x="397.2" y="127.4" width="2.6" height="3.5" fill="#c8dcec"/>
<rect x="397.2" y="131.0" width="2.6" height="3.0" fill="#c8dcec"/>
<rect x="397.2" y="133.9" width="2.6" height="5.5" fill="#f4e4e0"/>
<rect x="397.2" y="139.4" width="2.6" height="2.9" fill="#f4c4b0"/>
<rect x="397.2" y="142.3" width="2.6" height="3.5" fill="#ec9c88"/>
<rect x="397.2" y="145.8" width="2.6" height="5.4" fill="#c8dcec"/>
<rect x="397.2" y="151.2" width="2.6" height="1.1" fill="#c8dcec"/>
<rect x="399.8" y="123.1" width="2.5" height="4.7" fill="#c8dcec"/>
<rect x="399.8" y="127.8" width="2.5" height="4.2" fill="#f4c4b0"/>
<rect x="399.8" y="132.0" width="2.5" height="2.5" fill="#ec9c88"/>
<rect x="399.8" y="134.5" width="2.5" height="5.5" fill="#f8d4c4"/>
<rect x="399.8" y="140.1" width="2.5" height="3.2" fill="#c8dcec"/>
<rect x="399.8" y="143.3" width="2.5" height="4.1" fill="#ec9c88"/>
<rect x="399.8" y="147.3" width="2.5" height="2.7" fill="#f4e4e0"/>
<rect x="399.8" y="150.0" width="2.5" height="2.2" fill="#f4c4b0"/>
<rect x="402.3" y="123.1" width="2.0" height="2.8" fill="#f4c4b0"/>
<rect x="402.3" y="125.9" width="2.0" height="2.3" fill="#d8645a"/>
<rect x="402.3" y="128.2" width="2.0" height="2.7" fill="#c8dcec"/>
<rect x="402.3" y="130.9" width="2.0" height="4.4" fill="#c8dcec"/>
<rect x="402.3" y="135.3" width="2.0" height="3.9" fill="#c8dcec"/>
<rect x="402.3" y="139.3" width="2.0" height="3.2" fill="#ec9c88"/>
<rect x="402.3" y="142.4" width="2.0" height="4.8" fill="#f4c4b0"/>
<rect x="402.3" y="147.2" width="2.0" height="4.9" fill="#c8dcec"/>
<rect x="404.4" y="123.1" width="3.2" height="4.5" fill="#c8dcec"/>
<rect x="404.4" y="127.6" width="3.2" height="5.1" fill="#f4c4b0"/>
<rect x="404.4" y="132.7" width="3.2" height="3.5" fill="#ec9c88"/>
<rect x="404.4" y="136.1" width="3.2" height="4.9" fill="#f4e4e0"/>
<rect x="404.4" y="141.1" width="3.2" height="2.7" fill="#f8d4c4"/>
<rect x="404.4" y="143.8" width="3.2" height="5.9" fill="#d8645a"/>
<rect x="404.4" y="149.7" width="3.2" height="2.5" fill="#c8dcec"/>
<rect x="407.5" y="123.1" width="2.2" height="2.3" fill="#f4c4b0"/>
<rect x="407.5" y="125.5" width="2.2" height="4.4" fill="#f4e4e0"/>
<rect x="407.5" y="129.8" width="2.2" height="4.5" fill="#f4e4e0"/>
<rect x="407.5" y="134.3" width="2.2" height="3.7" fill="#f4e4e0"/>
<rect x="407.5" y="138.0" width="2.2" height="4.4" fill="#c8dcec"/>
<rect x="407.5" y="142.5" width="2.2" height="4.2" fill="#c8dcec"/>
<rect x="407.5" y="146.6" width="2.2" height="4.2" fill="#f4c4b0"/>
<rect x="407.5" y="150.9" width="2.2" height="1.4" fill="#f4e4e0"/>
<rect x="409.7" y="123.1" width="2.3" height="5.9" fill="#ec9c88"/>
<rect x="409.7" y="129.0" width="2.3" height="2.7" fill="#d8645a"/>
<rect x="409.7" y="131.7" width="2.3" height="3.4" fill="#f4c4b0"/>
<rect x="409.7" y="135.1" width="2.3" height="5.6" fill="#f4c4b0"/>
<rect x="409.7" y="140.6" width="2.3" height="4.8" fill="#f4c4b0"/>
<rect x="409.7" y="145.5" width="2.3" height="4.1" fill="#f8d4c4"/>
<rect x="409.7" y="149.6" width="2.3" height="2.4" fill="#f8d4c4"/>
<rect x="409.7" y="151.9" width="2.3" height="0.3" fill="#f8d4c4"/>
<rect x="412.0" y="123.1" width="3.1" height="3.8" fill="#c8dcec"/>
<rect x="412.0" y="126.9" width="3.1" height="3.8" fill="#f4c4b0"/>
<rect x="412.0" y="130.7" width="3.1" height="3.4" fill="#ec9c88"/>
<rect x="412.0" y="134.2" width="3.1" height="5.5" fill="#f4c4b0"/>
<rect x="412.0" y="139.6" width="3.1" height="4.2" fill="#ec9c88"/>
<rect x="412.0" y="143.8" width="3.1" height="4.2" fill="#f4e4e0"/>
<rect x="412.0" y="148.0" width="3.1" height="4.2" fill="#ec9c88"/>
<rect x="415.1" y="123.1" width="1.9" height="4.4" fill="#f4c4b0"/>
<rect x="415.1" y="127.5" width="1.9" height="4.2" fill="#f8d4c4"/>
<rect x="415.1" y="131.7" width="1.9" height="2.2" fill="#c8dcec"/>
<rect x="415.1" y="133.9" width="1.9" height="4.0" fill="#f4c4b0"/>
<rect x="415.1" y="137.8" width="1.9" height="2.6" fill="#f4c4b0"/>
<rect x="415.1" y="140.5" width="1.9" height="3.8" fill="#ec9c88"/>
<rect x="415.1" y="144.2" width="1.9" height="4.4" fill="#f4c4b0"/>
<rect x="415.1" y="148.6" width="1.9" height="3.6" fill="#ec9c88"/>
<rect x="384.0" y="127.1" width="4.0" height="4.0" fill="#d05050"/>
<rect x="392.0" y="134.1" width="5.0" height="5.0" fill="#c8383a"/>
<rect x="412.0" y="126.1" width="5.0" height="4.0" fill="#d05050"/>
<rect x="400.0" y="127.1" width="5.0" height="4.0" fill="#a0c8e0"/>
<rect x="364.0" y="123.1" width="2.0" height="29.1" fill="#e07070"/>
<rect x="313.4" y="152.2" width="2.9" height="5.2" fill="#d5e6f0"/>
<rect x="313.4" y="157.5" width="2.9" height="5.9" fill="#e8a0a0"/>
<rect x="313.4" y="163.4" width="2.9" height="3.3" fill="#d5e6f0"/>
<rect x="313.4" y="166.7" width="2.9" height="4.9" fill="#f0c8c0"/>
<rect x="313.4" y="171.6" width="2.9" height="4.7" fill="#d5e6f0"/>
<rect x="313.4" y="176.3" width="2.9" height="5.1" fill="#d5e6f0"/>
<rect x="316.3" y="152.2" width="3.0" height="3.8" fill="#f0c8c0"/>
<rect x="316.3" y="156.0" width="3.0" height="4.3" fill="#f0c8c0"/>
<rect x="316.3" y="160.3" width="3.0" height="4.2" fill="#e8a0a0"/>
<rect x="316.3" y="164.5" width="3.0" height="5.8" fill="#a8c4e4"/>
<rect x="316.3" y="170.3" width="3.0" height="2.4" fill="#f4e4e4"/>
<rect x="316.3" y="172.7" width="3.0" height="2.1" fill="#d5e6f0"/>
<rect x="316.3" y="174.7" width="3.0" height="5.3" fill="#d5e6f0"/>
<rect x="316.3" y="180.0" width="3.0" height="1.4" fill="#d5e6f0"/>
<rect x="319.3" y="152.2" width="2.4" height="5.4" fill="#d5e6f0"/>
<rect x="319.3" y="157.6" width="2.4" height="2.7" fill="#d5e6f0"/>
<rect x="319.3" y="160.3" width="2.4" height="2.2" fill="#d5e6f0"/>
<rect x="319.3" y="162.5" width="2.4" height="4.0" fill="#f4e4e4"/>
<rect x="319.3" y="166.5" width="2.4" height="4.6" fill="#f4e4e4"/>
<rect x="319.3" y="171.0" width="2.4" height="4.4" fill="#f4e4e4"/>
<rect x="319.3" y="175.4" width="2.4" height="4.7" fill="#d5e6f0"/>
<rect x="319.3" y="180.1" width="2.4" height="1.3" fill="#f0c8c0"/>
<rect x="321.7" y="152.2" width="1.8" height="5.7" fill="#f0c8c0"/>
<rect x="321.7" y="157.9" width="1.8" height="2.8" fill="#f0c8c0"/>
<rect x="321.7" y="160.7" width="1.8" height="5.2" fill="#d5e6f0"/>
<rect x="321.7" y="166.0" width="1.8" height="4.4" fill="#d5e6f0"/>
<rect x="321.7" y="170.3" width="1.8" height="3.0" fill="#d5e6f0"/>
<rect x="321.7" y="173.3" width="1.8" height="4.0" fill="#a8c4e4"/>
<rect x="321.7" y="177.3" width="1.8" height="2.9" fill="#a8c4e4"/>
<rect x="321.7" y="180.2" width="1.8" height="1.2" fill="#a8c4e4"/>
<rect x="323.4" y="152.2" width="2.6" height="3.3" fill="#f4e4e4"/>
<rect x="323.4" y="155.6" width="2.6" height="3.8" fill="#f0c8c0"/>
<rect x="323.4" y="159.4" width="2.6" height="2.7" fill="#d5e6f0"/>
<rect x="323.4" y="162.1" width="2.6" height="4.6" fill="#d5e6f0"/>
<rect x="323.4" y="166.7" width="2.6" height="2.1" fill="#d5e6f0"/>
<rect x="323.4" y="168.8" width="2.6" height="4.2" fill="#d5e6f0"/>
<rect x="323.4" y="173.0" width="2.6" height="3.1" fill="#a8c4e4"/>
<rect x="323.4" y="176.1" width="2.6" height="3.8" fill="#d5e6f0"/>
<rect x="323.4" y="179.8" width="2.6" height="1.5" fill="#f4e4e4"/>
<rect x="326.0" y="152.2" width="2.6" height="2.6" fill="#f0c8c0"/>
<rect x="326.0" y="154.9" width="2.6" height="3.3" fill="#f4e4e4"/>
<rect x="326.0" y="158.1" width="2.6" height="3.5" fill="#d5e6f0"/>
<rect x="326.0" y="161.6" width="2.6" height="3.5" fill="#d5e6f0"/>
<rect x="326.0" y="165.0" width="2.6" height="1.8" fill="#f0c8c0"/>
<rect x="326.0" y="166.8" width="2.6" height="2.0" fill="#e8a8a8"/>
<rect x="326.0" y="168.8" width="2.6" height="2.2" fill="#f4e4e4"/>
<rect x="326.0" y="171.0" width="2.6" height="2.6" fill="#c0d0e8"/>
<rect x="326.0" y="173.6" width="2.6" height="3.9" fill="#f0c8c0"/>
<rect x="326.0" y="177.5" width="2.6" height="3.4" fill="#f0c8c0"/>
<rect x="326.0" y="180.9" width="2.6" height="0.5" fill="#d5e6f0"/>
<rect x="328.6" y="152.2" width="2.7" height="3.8" fill="#c0d0e8"/>
<rect x="328.6" y="156.0" width="2.7" height="2.3" fill="#f0c8c0"/>
<rect x="328.6" y="158.3" width="2.7" height="2.4" fill="#f0c8c0"/>
<rect x="328.6" y="160.7" width="2.7" height="3.4" fill="#d5e6f0"/>
<rect x="328.6" y="164.2" width="2.7" height="2.7" fill="#f0c8c0"/>
<rect x="328.6" y="166.9" width="2.7" height="1.9" fill="#c0d0e8"/>
<rect x="328.6" y="168.7" width="2.7" height="2.1" fill="#f0c8c0"/>
<rect x="328.6" y="170.9" width="2.7" height="2.1" fill="#e8a8a8"/>
<rect x="328.6" y="173.0" width="2.7" height="2.6" fill="#c0d0e8"/>
<rect x="328.6" y="175.6" width="2.7" height="2.6" fill="#c0d0e8"/>
<rect x="328.6" y="178.1" width="2.7" height="2.9" fill="#d5e6f0"/>
<rect x="328.6" y="181.0" width="2.7" height="0.4" fill="#d5e6f0"/>
<rect x="331.2" y="152.2" width="2.1" height="3.9" fill="#f0c8c0"/>
<rect x="331.2" y="156.1" width="2.1" height="3.3" fill="#d5e6f0"/>
<rect x="331.2" y="159.5" width="2.1" height="3.1" fill="#d5e6f0"/>
<rect x="331.2" y="162.5" width="2.1" height="2.1" fill="#d5e6f0"/>
<rect x="331.2" y="164.6" width="2.1" height="1.6" fill="#f4e4e4"/>
<rect x="331.2" y="166.2" width="2.1" height="3.9" fill="#f0c8c0"/>
<rect x="331.2" y="170.1" width="2.1" height="1.5" fill="#c0d0e8"/>
<rect x="331.2" y="171.6" width="2.1" height="3.2" fill="#d5e6f0"/>
<rect x="331.2" y="174.8" width="2.1" height="3.4" fill="#d5e6f0"/>
<rect x="331.2" y="178.2" width="2.1" height="2.1" fill="#c0d0e8"/>
<rect x="331.2" y="180.2" width="2.1" height="1.1" fill="#d5e6f0"/>
<rect x="333.3" y="152.2" width="2.4" height="3.5" fill="#e8a8a8"/>
<rect x="333.3" y="155.7" width="2.4" height="2.8" fill="#d5e6f0"/>
<rect x="333.3" y="158.6" width="2.4" height="1.7" fill="#d5e6f0"/>
<rect x="333.3" y="160.2" width="2.4" height="2.8" fill="#e8a8a8"/>
<rect x="333.3" y="163.0" width="2.4" height="2.7" fill="#e8a8a8"/>
<rect x="333.3" y="165.7" width="2.4" height="2.9" fill="#c0d0e8"/>
<rect x="333.3" y="168.6" width="2.4" height="2.5" fill="#f4e4e4"/>
<rect x="333.3" y="171.1" width="2.4" height="2.8" fill="#f4e4e4"/>
<rect x="333.3" y="174.0" width="2.4" height="4.0" fill="#f4e4e4"/>
<rect x="333.3" y="177.9" width="2.4" height="3.4" fill="#c0d0e8"/>
<rect x="335.7" y="152.2" width="2.5" height="2.1" fill="#d5e6f0"/>
<rect x="335.7" y="154.4" width="2.5" height="3.2" fill="#d5e6f0"/>
<rect x="335.7" y="157.5" width="2.5" height="3.0" fill="#e8a8a8"/>
<rect x="335.7" y="160.5" width="2.5" height="3.0" fill="#f0c8c0"/>
<rect x="335.7" y="163.6" width="2.5" height="2.1" fill="#d5e6f0"/>
<rect x="335.7" y="165.7" width="2.5" height="3.2" fill="#f4e4e4"/>
<rect x="335.7" y="168.9" width="2.5" height="2.3" fill="#d5e6f0"/>
<rect x="335.7" y="171.2" width="2.5" height="2.6" fill="#f0c8c0"/>
<rect x="335.7" y="173.8" width="2.5" height="3.1" fill="#c0d0e8"/>
<rect x="335.7" y="176.9" width="2.5" height="3.4" fill="#c0d0e8"/>
<rect x="335.7" y="180.3" width="2.5" height="1.1" fill="#f4e4e4"/>
<rect x="338.2" y="152.2" width="2.3" height="2.6" fill="#c0d0e8"/>
<rect x="338.2" y="154.9" width="2.3" height="2.3" fill="#f4e4e4"/>
<rect x="338.2" y="157.1" width="2.3" height="2.5" fill="#e8a8a8"/>
<rect x="338.2" y="159.7" width="2.3" height="2.8" fill="#f0c8c0"/>
<rect x="338.2" y="162.5" width="2.3" height="1.5" fill="#d5e6f0"/>
<rect x="338.2" y="164.0" width="2.3" height="2.7" fill="#f4e4e4"/>
<rect x="338.2" y="166.7" width="2.3" height="1.8" fill="#f4e4e4"/>
<rect x="338.2" y="168.5" width="2.3" height="3.9" fill="#c0d0e8"/>
<rect x="338.2" y="172.5" width="2.3" height="2.2" fill="#d5e6f0"/>
<rect x="338.2" y="174.7" width="2.3" height="3.7" fill="#d5e6f0"/>
<rect x="338.2" y="178.4" width="2.3" height="2.2" fill="#f4e4e4"/>
<rect x="338.2" y="180.6" width="2.3" height="0.7" fill="#f4e4e4"/>
<rect x="340.5" y="152.2" width="2.9" height="1.9" fill="#f0c8c0"/>
<rect x="340.5" y="154.2" width="2.9" height="1.7" fill="#f0c8c0"/>
<rect x="340.5" y="155.9" width="2.9" height="2.7" fill="#c0d0e8"/>
<rect x="340.5" y="158.7" width="2.9" height="2.2" fill="#c0d0e8"/>
<rect x="340.5" y="160.9" width="2.9" height="1.9" fill="#d5e6f0"/>
<rect x="340.5" y="162.7" width="2.9" height="1.6" fill="#e8a8a8"/>
<rect x="340.5" y="164.4" width="2.9" height="3.0" fill="#c0d0e8"/>
<rect x="340.5" y="167.4" width="2.9" height="2.5" fill="#f4e4e4"/>
<rect x="340.5" y="169.9" width="2.9" height="3.3" fill="#e8a8a8"/>
<rect x="340.5" y="173.2" width="2.9" height="3.7" fill="#d5e6f0"/>
<rect x="340.5" y="176.9" width="2.9" height="2.2" fill="#e8a8a8"/>
<rect x="340.5" y="179.1" width="2.9" height="2.3" fill="#f4e4e4"/>
<rect x="343.5" y="152.2" width="2.7" height="1.6" fill="#f4e4e4"/>
<rect x="343.5" y="153.9" width="2.7" height="2.7" fill="#d5e6f0"/>
<rect x="343.5" y="156.5" width="2.7" height="3.4" fill="#e8a8a8"/>
<rect x="343.5" y="159.9" width="2.7" height="3.6" fill="#e8a8a8"/>
<rect x="343.5" y="163.6" width="2.7" height="2.1" fill="#f0c8c0"/>
<rect x="343.5" y="165.7" width="2.7" height="2.7" fill="#d5e6f0"/>
<rect x="343.5" y="168.4" width="2.7" height="3.0" fill="#d5e6f0"/>
<rect x="343.5" y="171.3" width="2.7" height="2.1" fill="#d5e6f0"/>
<rect x="343.5" y="173.5" width="2.7" height="1.6" fill="#f0c8c0"/>
<rect x="343.5" y="175.0" width="2.7" height="3.3" fill="#f0c8c0"/>
<rect x="343.5" y="178.4" width="2.7" height="3.0" fill="#e8a8a8"/>
<rect x="346.2" y="152.2" width="2.7" height="2.2" fill="#f4e4e4"/>
<rect x="346.2" y="154.5" width="2.7" height="2.4" fill="#f4e4e4"/>
<rect x="346.2" y="156.8" width="2.7" height="2.1" fill="#f4e4e4"/>
<rect x="346.2" y="158.9" width="2.7" height="3.2" fill="#d5e6f0"/>
<rect x="346.2" y="162.1" width="2.7" height="3.3" fill="#d5e6f0"/>
<rect x="346.2" y="165.5" width="2.7" height="2.5" fill="#f0c8c0"/>
<rect x="346.2" y="167.9" width="2.7" height="2.3" fill="#d5e6f0"/>
<rect x="346.2" y="170.3" width="2.7" height="1.9" fill="#f0c8c0"/>
<rect x="346.2" y="172.2" width="2.7" height="1.7" fill="#c0d0e8"/>
<rect x="346.2" y="173.9" width="2.7" height="2.4" fill="#c0d0e8"/>
<rect x="346.2" y="176.3" width="2.7" height="2.6" fill="#f4e4e4"/>
<rect x="346.2" y="178.9" width="2.7" height="2.5" fill="#c0d0e8"/>
<rect x="348.8" y="152.2" width="2.9" height="3.8" fill="#f4e4e4"/>
<rect x="348.8" y="156.0" width="2.9" height="2.5" fill="#e8a8a8"/>
<rect x="348.8" y="158.6" width="2.9" height="1.7" fill="#f0c8c0"/>
<rect x="348.8" y="160.2" width="2.9" height="2.3" fill="#e8a8a8"/>
<rect x="348.8" y="162.6" width="2.9" height="1.5" fill="#c0d0e8"/>
<rect x="348.8" y="164.1" width="2.9" height="1.7" fill="#f0c8c0"/>
<rect x="348.8" y="165.8" width="2.9" height="2.7" fill="#f4e4e4"/>
<rect x="348.8" y="168.5" width="2.9" height="3.1" fill="#d5e6f0"/>
<rect x="348.8" y="171.6" width="2.9" height="3.2" fill="#d5e6f0"/>
<rect x="348.8" y="174.7" width="2.9" height="3.0" fill="#f0c8c0"/>
<rect x="348.8" y="177.8" width="2.9" height="3.6" fill="#f0c8c0"/>
<rect x="351.8" y="152.2" width="2.0" height="2.3" fill="#f4e4e4"/>
<rect x="351.8" y="154.5" width="2.0" height="2.4" fill="#d5e6f0"/>
<rect x="351.8" y="156.9" width="2.0" height="2.8" fill="#c0d0e8"/>
<rect x="351.8" y="159.7" width="2.0" height="3.9" fill="#d5e6f0"/>
<rect x="351.8" y="163.6" width="2.0" height="2.3" fill="#c0d0e8"/>
<rect x="351.8" y="165.9" width="2.0" height="2.7" fill="#c0d0e8"/>
<rect x="351.8" y="168.6" width="2.0" height="3.2" fill="#d5e6f0"/>
<rect x="351.8" y="171.8" width="2.0" height="1.6" fill="#d5e6f0"/>
<rect x="351.8" y="173.5" width="2.0" height="2.3" fill="#d5e6f0"/>
<rect x="351.8" y="175.7" width="2.0" height="2.2" fill="#d5e6f0"/>
<rect x="351.8" y="177.9" width="2.0" height="1.6" fill="#f0c8c0"/>
<rect x="351.8" y="179.5" width="2.0" height="1.9" fill="#d5e6f0"/>
<rect x="353.8" y="152.2" width="1.8" height="3.3" fill="#d5e6f0"/>
<rect x="353.8" y="155.6" width="1.8" height="1.9" fill="#f0c8c0"/>
<rect x="353.8" y="157.4" width="1.8" height="2.2" fill="#c0d0e8"/>
<rect x="353.8" y="159.7" width="1.8" height="2.8" fill="#f0c8c0"/>
<rect x="353.8" y="162.4" width="1.8" height="2.4" fill="#d5e6f0"/>
<rect x="353.8" y="164.9" width="1.8" height="3.6" fill="#f0c8c0"/>
<rect x="353.8" y="168.4" width="1.8" height="3.6" fill="#d5e6f0"/>
<rect x="353.8" y="172.0" width="1.8" height="2.6" fill="#f0c8c0"/>
<rect x="353.8" y="174.6" width="1.8" height="1.9" fill="#d5e6f0"/>
<rect x="353.8" y="176.4" width="1.8" height="3.8" fill="#f4e4e4"/>
<rect x="353.8" y="180.3" width="1.8" height="1.1" fill="#f0c8c0"/>
<rect x="355.5" y="152.2" width="2.8" height="3.0" fill="#f0c8c0"/>
<rect x="355.5" y="155.2" width="2.8" height="1.9" fill="#c0d0e8"/>
<rect x="355.5" y="157.2" width="2.8" height="2.6" fill="#c0d0e8"/>
<rect x="355.5" y="159.8" width="2.8" height="1.6" fill="#d5e6f0"/>
<rect x="355.5" y="161.4" width="2.8" height="1.8" fill="#c0d0e8"/>
<rect x="355.5" y="163.2" width="2.8" height="2.7" fill="#d5e6f0"/>
<rect x="355.5" y="165.9" width="2.8" height="3.5" fill="#f0c8c0"/>
<rect x="355.5" y="169.3" width="2.8" height="2.2" fill="#f0c8c0"/>
<rect x="355.5" y="171.5" width="2.8" height="1.5" fill="#d5e6f0"/>
<rect x="355.5" y="173.1" width="2.8" height="1.6" fill="#f4e4e4"/>
<rect x="355.5" y="174.6" width="2.8" height="3.7" fill="#f0c8c0"/>
<rect x="355.5" y="178.3" width="2.8" height="3.0" fill="#f0c8c0"/>
<rect x="358.3" y="152.2" width="2.7" height="1.8" fill="#f0c8c0"/>
<rect x="358.3" y="154.0" width="2.7" height="3.0" fill="#f0c8c0"/>
<rect x="358.3" y="157.0" width="2.7" height="3.1" fill="#d5e6f0"/>
<rect x="358.3" y="160.2" width="2.7" height="3.1" fill="#d5e6f0"/>
<rect x="358.3" y="163.3" width="2.7" height="2.7" fill="#f0c8c0"/>
<rect x="358.3" y="166.0" width="2.7" height="2.8" fill="#d5e6f0"/>
<rect x="358.3" y="168.8" width="2.7" height="2.1" fill="#c0d0e8"/>
<rect x="358.3" y="170.9" width="2.7" height="1.9" fill="#f0c8c0"/>
<rect x="358.3" y="172.9" width="2.7" height="4.0" fill="#e8a8a8"/>
<rect x="358.3" y="176.8" width="2.7" height="3.3" fill="#c0d0e8"/>
<rect x="358.3" y="180.2" width="2.7" height="1.2" fill="#f0c8c0"/>
<rect x="361.0" y="152.2" width="1.0" height="3.4" fill="#d5e6f0"/>
<rect x="361.0" y="155.6" width="1.0" height="2.7" fill="#d5e6f0"/>
<rect x="361.0" y="158.3" width="1.0" height="2.9" fill="#c0d0e8"/>
<rect x="361.0" y="161.2" width="1.0" height="3.7" fill="#f0c8c0"/>
<rect x="361.0" y="164.8" width="1.0" height="3.2" fill="#d5e6f0"/>
<rect x="361.0" y="168.1" width="1.0" height="3.1" fill="#f4e4e4"/>
<rect x="361.0" y="171.2" width="1.0" height="3.0" fill="#f0c8c0"/>
<rect x="361.0" y="174.3" width="1.0" height="2.8" fill="#f0c8c0"/>
<rect x="361.0" y="177.0" width="1.0" height="1.9" fill="#d5e6f0"/>
<rect x="361.0" y="179.0" width="1.0" height="2.4" fill="#f0c8c0"/>
<rect x="362.0" y="152.2" width="1.7" height="4.5" fill="#f4d8d0"/>
<rect x="362.0" y="156.7" width="1.7" height="4.6" fill="#d5e6f0"/>
<rect x="362.0" y="161.3" width="1.7" height="5.8" fill="#d5e6f0"/>
<rect x="362.0" y="167.1" width="1.7" height="4.0" fill="#f0c0b8"/>
<rect x="362.0" y="171.1" width="1.7" height="2.7" fill="#d5e6f0"/>
<rect x="362.0" y="173.8" width="1.7" height="2.7" fill="#d5e6f0"/>
<rect x="362.0" y="176.6" width="1.7" height="2.2" fill="#c8dcec"/>
<rect x="362.0" y="178.7" width="1.7" height="2.6" fill="#d5e6f0"/>
<rect x="363.7" y="152.2" width="3.1" height="3.7" fill="#f0c0b8"/>
<rect x="363.7" y="155.9" width="3.1" height="5.7" fill="#c8dcec"/>
<rect x="363.7" y="161.6" width="3.1" height="3.9" fill="#c8dcec"/>
<rect x="363.7" y="165.5" width="3.1" height="5.0" fill="#d5e6f0"/>
<rect x="363.7" y="170.5" width="3.1" height="2.3" fill="#c8dcec"/>
<rect x="363.7" y="172.7" width="3.1" height="5.0" fill="#e89090"/>
<rect x="363.7" y="177.7" width="3.1" height="2.5" fill="#c8dcec"/>
<rect x="363.7" y="180.2" width="3.1" height="1.2" fill="#c8dcec"/>
<rect x="366.8" y="152.2" width="2.6" height="4.5" fill="#d5e6f0"/>
<rect x="366.8" y="156.8" width="2.6" height="3.5" fill="#c8dcec"/>
<rect x="366.8" y="160.2" width="2.6" height="2.4" fill="#d5e6f0"/>
<rect x="366.8" y="162.7" width="2.6" height="3.7" fill="#f4d8d0"/>
<rect x="366.8" y="166.3" width="2.6" height="4.5" fill="#d5e6f0"/>
<rect x="366.8" y="170.9" width="2.6" height="2.3" fill="#f4d8d0"/>
<rect x="366.8" y="173.2" width="2.6" height="5.4" fill="#c8dcec"/>
<rect x="366.8" y="178.6" width="2.6" height="2.8" fill="#c8dcec"/>
<rect x="369.4" y="152.2" width="1.6" height="2.7" fill="#d5e6f0"/>
<rect x="369.4" y="154.9" width="1.6" height="5.8" fill="#d5e6f0"/>
<rect x="369.4" y="160.8" width="1.6" height="2.6" fill="#c8dcec"/>
<rect x="369.4" y="163.4" width="1.6" height="5.0" fill="#d5e6f0"/>
<rect x="369.4" y="168.5" width="1.6" height="2.3" fill="#f4d8d0"/>
<rect x="369.4" y="170.8" width="1.6" height="5.9" fill="#f4d8d0"/>
<rect x="369.4" y="176.6" width="1.6" height="4.3" fill="#d5e6f0"/>
<rect x="369.4" y="180.9" width="1.6" height="0.5" fill="#c8dcec"/>
<rect x="371.0" y="152.2" width="2.9" height="5.0" fill="#f0c0b8"/>
<rect x="371.0" y="157.3" width="2.9" height="5.9" fill="#f0c0b8"/>
<rect x="371.0" y="163.2" width="2.9" height="3.8" fill="#c8dcec"/>
<rect x="371.0" y="167.0" width="2.9" height="5.2" fill="#e89090"/>
<rect x="371.0" y="172.1" width="2.9" height="5.8" fill="#d5e6f0"/>
<rect x="371.0" y="177.9" width="2.9" height="3.5" fill="#f4d8d0"/>
<rect x="373.9" y="152.2" width="2.2" height="2.1" fill="#e89090"/>
<rect x="373.9" y="154.4" width="2.2" height="4.5" fill="#f4d8d0"/>
<rect x="373.9" y="158.8" width="2.2" height="4.2" fill="#c8dcec"/>
<rect x="373.9" y="163.1" width="2.2" height="5.0" fill="#d5e6f0"/>
<rect x="373.9" y="168.1" width="2.2" height="4.7" fill="#f0c0b8"/>
<rect x="373.9" y="172.8" width="2.2" height="2.9" fill="#d5e6f0"/>
<rect x="373.9" y="175.6" width="2.2" height="3.5" fill="#c8dcec"/>
<rect x="373.9" y="179.1" width="2.2" height="2.3" fill="#d5e6f0"/>
<rect x="376.1" y="152.2" width="1.7" height="5.1" fill="#c8dcec"/>
<rect x="376.1" y="157.4" width="1.7" height="5.3" fill="#c8dcec"/>
<rect x="376.1" y="162.7" width="1.7" height="2.3" fill="#d5e6f0"/>
<rect x="376.1" y="165.0" width="1.7" height="3.9" fill="#d5e6f0"/>
<rect x="376.1" y="168.8" width="1.7" height="5.3" fill="#d5e6f0"/>
<rect x="376.1" y="174.1" width="1.7" height="2.1" fill="#f0c0b8"/>
<rect x="376.1" y="176.2" width="1.7" height="2.2" fill="#d5e6f0"/>
<rect x="376.1" y="178.4" width="1.7" height="3.0" fill="#e89090"/>
<rect x="377.8" y="152.2" width="2.5" height="2.3" fill="#e89090"/>
<rect x="377.8" y="154.5" width="2.5" height="4.1" fill="#d5e6f0"/>
<rect x="377.8" y="158.6" width="2.5" height="2.9" fill="#d5e6f0"/>
<rect x="377.8" y="161.5" width="2.5" height="3.9" fill="#f0c0b8"/>
<rect x="377.8" y="165.4" width="2.5" height="4.3" fill="#c8dcec"/>
<rect x="377.8" y="169.8" width="2.5" height="3.1" fill="#e89090"/>
<rect x="377.8" y="172.9" width="2.5" height="3.0" fill="#c8dcec"/>
<rect x="377.8" y="175.9" width="2.5" height="2.8" fill="#e89090"/>
<rect x="377.8" y="178.7" width="2.5" height="2.6" fill="#c8dcec"/>
<rect x="380.2" y="152.2" width="2.4" height="5.6" fill="#f4d8d0"/>
<rect x="380.2" y="157.9" width="2.4" height="5.2" fill="#d5e6f0"/>
<rect x="380.2" y="163.1" width="2.4" height="3.1" fill="#e89090"/>
<rect x="380.2" y="166.1" width="2.4" height="2.5" fill="#d5e6f0"/>
<rect x="380.2" y="168.6" width="2.4" height="2.4" fill="#c8dcec"/>
<rect x="380.2" y="171.0" width="2.4" height="3.5" fill="#f4d8d0"/>
<rect x="380.2" y="174.6" width="2.4" height="5.2" fill="#f0c0b8"/>
<rect x="380.2" y="179.8" width="2.4" height="1.6" fill="#d5e6f0"/>
<rect x="382.7" y="152.2" width="1.7" height="2.4" fill="#f4d8d0"/>
<rect x="382.7" y="154.7" width="1.7" height="3.2" fill="#d5e6f0"/>
<rect x="382.7" y="157.9" width="1.7" height="5.9" fill="#f0c0b8"/>
<rect x="382.7" y="163.8" width="1.7" height="5.1" fill="#f0c0b8"/>
<rect x="382.7" y="168.9" width="1.7" height="5.9" fill="#d5e6f0"/>
<rect x="382.7" y="174.8" width="1.7" height="3.9" fill="#c8dcec"/>
<rect x="382.7" y="178.7" width="1.7" height="2.1" fill="#f4d8d0"/>
<rect x="382.7" y="180.8" width="1.7" height="0.6" fill="#c8dcec"/>
<rect x="384.4" y="152.2" width="1.7" height="2.3" fill="#d5e6f0"/>
<rect x="384.4" y="154.6" width="1.7" height="5.2" fill="#f4d8d0"/>
<rect x="384.4" y="159.7" width="1.7" height="5.7" fill="#f0c0b8"/>
<rect x="384.4" y="165.4" width="1.7" height="2.4" fill="#c8dcec"/>
<rect x="384.4" y="167.7" width="1.7" height="4.0" fill="#c8dcec"/>
<rect x="384.4" y="171.8" width="1.7" height="4.5" fill="#e89090"/>
<rect x="384.4" y="176.3" width="1.7" height="2.7" fill="#d5e6f0"/>
<rect x="384.4" y="179.0" width="1.7" height="2.3" fill="#f0c0b8"/>
<rect x="386.1" y="152.2" width="2.1" height="5.8" fill="#d5e6f0"/>
<rect x="386.1" y="158.1" width="2.1" height="5.0" fill="#d5e6f0"/>
<rect x="386.1" y="163.1" width="2.1" height="2.4" fill="#f4d8d0"/>
<rect x="386.1" y="165.5" width="2.1" height="2.9" fill="#e89090"/>
<rect x="386.1" y="168.4" width="2.1" height="4.3" fill="#f0c0b8"/>
<rect x="386.1" y="172.7" width="2.1" height="3.4" fill="#d5e6f0"/>
<rect x="386.1" y="176.1" width="2.1" height="4.8" fill="#f0c0b8"/>
<rect x="386.1" y="180.9" width="2.1" height="0.5" fill="#f4d8d0"/>
<rect x="388.2" y="152.2" width="1.7" height="3.7" fill="#d5e6f0"/>
<rect x="388.2" y="155.9" width="1.7" height="5.7" fill="#e89090"/>
<rect x="388.2" y="161.7" width="1.7" height="2.8" fill="#f0c0b8"/>
<rect x="388.2" y="164.5" width="1.7" height="2.1" fill="#f0c0b8"/>
<rect x="388.2" y="166.5" width="1.7" height="2.3" fill="#d5e6f0"/>
<rect x="388.2" y="168.8" width="1.7" height="4.0" fill="#f0c0b8"/>
<rect x="388.2" y="172.8" width="1.7" height="2.9" fill="#e89090"/>
<rect x="388.2" y="175.7" width="1.7" height="3.2" fill="#c8dcec"/>
<rect x="388.2" y="178.9" width="1.7" height="2.2" fill="#f4d8d0"/>
<rect x="388.2" y="181.1" width="1.7" height="0.2" fill="#d5e6f0"/>
<rect x="389.9" y="152.2" width="2.1" height="4.5" fill="#d5e6f0"/>
<rect x="389.9" y="156.8" width="2.1" height="5.6" fill="#d5e6f0"/>
<rect x="389.9" y="162.4" width="2.1" height="3.6" fill="#d5e6f0"/>
<rect x="389.9" y="166.0" width="2.1" height="3.8" fill="#f4d8d0"/>
<rect x="389.9" y="169.9" width="2.1" height="2.7" fill="#d5e6f0"/>
<rect x="389.9" y="172.6" width="2.1" height="4.2" fill="#c8dcec"/>
<rect x="389.9" y="176.8" width="2.1" height="2.6" fill="#d5e6f0"/>
<rect x="389.9" y="179.4" width="2.1" height="2.0" fill="#d5e6f0"/>
<rect x="391.9" y="152.2" width="1.6" height="4.8" fill="#f4d8d0"/>
<rect x="391.9" y="157.0" width="1.6" height="5.2" fill="#f4d8d0"/>
<rect x="391.9" y="162.2" width="1.6" height="2.9" fill="#d5e6f0"/>
<rect x="391.9" y="165.1" width="1.6" height="4.4" fill="#e89090"/>
<rect x="391.9" y="169.5" width="1.6" height="4.5" fill="#e89090"/>
<rect x="391.9" y="174.0" width="1.6" height="2.9" fill="#d5e6f0"/>
<rect x="391.9" y="176.9" width="1.6" height="2.3" fill="#d5e6f0"/>
<rect x="391.9" y="179.3" width="1.6" height="2.1" fill="#d5e6f0"/>
<rect x="393.6" y="152.2" width="3.0" height="5.8" fill="#d5e6f0"/>
<rect x="393.6" y="158.1" width="3.0" height="5.9" fill="#e89090"/>
<rect x="393.6" y="163.9" width="3.0" height="2.0" fill="#f0c0b8"/>
<rect x="393.6" y="166.0" width="3.0" height="3.4" fill="#d5e6f0"/>
<rect x="393.6" y="169.4" width="3.0" height="2.3" fill="#d5e6f0"/>
<rect x="393.6" y="171.7" width="3.0" height="2.1" fill="#f0c0b8"/>
<rect x="393.6" y="173.7" width="3.0" height="3.9" fill="#d5e6f0"/>
<rect x="393.6" y="177.7" width="3.0" height="3.7" fill="#f4d8d0"/>
<rect x="396.6" y="152.2" width="2.4" height="5.2" fill="#d5e6f0"/>
<rect x="396.6" y="157.4" width="2.4" height="5.0" fill="#c8dcec"/>
<rect x="396.6" y="162.5" width="2.4" height="3.4" fill="#c8dcec"/>
<rect x="396.6" y="165.9" width="2.4" height="3.4" fill="#d5e6f0"/>
<rect x="396.6" y="169.3" width="2.4" height="3.7" fill="#d5e6f0"/>
<rect x="396.6" y="173.0" width="2.4" height="4.9" fill="#d5e6f0"/>
<rect x="396.6" y="177.8" width="2.4" height="3.5" fill="#c8dcec"/>
<rect x="399.0" y="152.2" width="2.6" height="5.6" fill="#c8dcec"/>
<rect x="399.0" y="157.9" width="2.6" height="4.8" fill="#c8dcec"/>
<rect x="399.0" y="162.6" width="2.6" height="4.8" fill="#f4d8d0"/>
<rect x="399.0" y="167.4" width="2.6" height="4.4" fill="#c8dcec"/>
<rect x="399.0" y="171.8" width="2.6" height="4.2" fill="#f0c0b8"/>
<rect x="399.0" y="176.0" width="2.6" height="5.4" fill="#d5e6f0"/>
<rect x="401.5" y="152.2" width="1.9" height="4.0" fill="#d5e6f0"/>
<rect x="401.5" y="156.2" width="1.9" height="4.9" fill="#e89090"/>
<rect x="401.5" y="161.1" width="1.9" height="2.0" fill="#d5e6f0"/>
<rect x="401.5" y="163.1" width="1.9" height="4.5" fill="#f0c0b8"/>
<rect x="401.5" y="167.6" width="1.9" height="4.7" fill="#f0c0b8"/>
<rect x="401.5" y="172.3" width="1.9" height="2.4" fill="#c8dcec"/>
<rect x="401.5" y="174.8" width="1.9" height="5.9" fill="#d5e6f0"/>
<rect x="401.5" y="180.6" width="1.9" height="0.7" fill="#e89090"/>
<rect x="403.5" y="152.2" width="2.6" height="4.0" fill="#f0c0b8"/>
<rect x="403.5" y="156.3" width="2.6" height="6.0" fill="#f4d8d0"/>
<rect x="403.5" y="162.2" width="2.6" height="3.7" fill="#c8dcec"/>
<rect x="403.5" y="166.0" width="2.6" height="4.7" fill="#c8dcec"/>
<rect x="403.5" y="170.6" width="2.6" height="6.0" fill="#d5e6f0"/>
<rect x="403.5" y="176.6" width="2.6" height="2.8" fill="#d5e6f0"/>
<rect x="403.5" y="179.5" width="2.6" height="1.9" fill="#f4d8d0"/>
<rect x="406.0" y="152.2" width="2.0" height="3.9" fill="#f4d8d0"/>
<rect x="406.0" y="156.2" width="2.0" height="4.9" fill="#e89090"/>
<rect x="406.0" y="161.1" width="2.0" height="5.6" fill="#f4d8d0"/>
<rect x="406.0" y="166.6" width="2.0" height="2.4" fill="#f4d8d0"/>
<rect x="406.0" y="169.0" width="2.0" height="3.2" fill="#e89090"/>
<rect x="406.0" y="172.2" width="2.0" height="5.0" fill="#d5e6f0"/>
<rect x="406.0" y="177.2" width="2.0" height="3.2" fill="#f4d8d0"/>
<rect x="406.0" y="180.4" width="2.0" height="1.0" fill="#f4d8d0"/>
<rect x="408.0" y="152.2" width="1.8" height="4.5" fill="#c8dcec"/>
<rect x="408.0" y="156.7" width="1.8" height="5.8" fill="#c8dcec"/>
<rect x="408.0" y="162.6" width="1.8" height="3.1" fill="#d5e6f0"/>
<rect x="408.0" y="165.7" width="1.8" height="2.7" fill="#d5e6f0"/>
<rect x="408.0" y="168.4" width="1.8" height="4.3" fill="#d5e6f0"/>
<rect x="408.0" y="172.7" width="1.8" height="2.6" fill="#d5e6f0"/>
<rect x="408.0" y="175.3" width="1.8" height="4.7" fill="#c8dcec"/>
<rect x="408.0" y="180.0" width="1.8" height="1.4" fill="#f0c0b8"/>
<rect x="409.7" y="152.2" width="3.2" height="3.4" fill="#f0c0b8"/>
<rect x="409.7" y="155.7" width="3.2" height="5.2" fill="#d5e6f0"/>
<rect x="409.7" y="160.9" width="3.2" height="5.5" fill="#c8dcec"/>
<rect x="409.7" y="166.4" width="3.2" height="4.9" fill="#d5e6f0"/>
<rect x="409.7" y="171.4" width="3.2" height="4.0" fill="#f4d8d0"/>
<rect x="409.7" y="175.3" width="3.2" height="2.2" fill="#d5e6f0"/>
<rect x="409.7" y="177.6" width="3.2" height="3.8" fill="#f4d8d0"/>
<rect x="412.9" y="152.2" width="1.8" height="2.8" fill="#f0c0b8"/>
<rect x="412.9" y="155.0" width="1.8" height="5.2" fill="#e89090"/>
<rect x="412.9" y="160.2" width="1.8" height="4.6" fill="#d5e6f0"/>
<rect x="412.9" y="164.8" width="1.8" height="2.8" fill="#e89090"/>
<rect x="412.9" y="167.6" width="1.8" height="4.9" fill="#d5e6f0"/>
<rect x="412.9" y="172.5" width="1.8" height="2.4" fill="#d5e6f0"/>
<rect x="412.9" y="174.9" width="1.8" height="3.7" fill="#d5e6f0"/>
<rect x="412.9" y="178.5" width="1.8" height="2.7" fill="#d5e6f0"/>
<rect x="414.8" y="152.2" width="2.2" height="5.8" fill="#e89090"/>
<rect x="414.8" y="158.1" width="2.2" height="5.7" fill="#d5e6f0"/>
<rect x="414.8" y="163.7" width="2.2" height="4.5" fill="#f0c0b8"/>
<rect x="414.8" y="168.2" width="2.2" height="5.4" fill="#e89090"/>
<rect x="414.8" y="173.6" width="2.2" height="4.5" fill="#f4d8d0"/>
<rect x="414.8" y="178.0" width="2.2" height="3.3" fill="#d5e6f0"/>
<rect x="325.0" y="152.2" width="27.0" height="4.0" fill="#c2b8d8"/>
<rect x="345.0" y="152.2" width="7.0" height="4.0" fill="#7aa4d4"/>
<rect x="350.0" y="157.2" width="6.0" height="5.0" fill="#5a92cc"/>
<rect x="351.0" y="164.2" width="4.0" height="5.0" fill="#7aa6d6"/>
<rect x="328.0" y="161.2" width="15.0" height="3.0" fill="#d25040"/>
<rect x="315.0" y="160.7" width="5.0" height="3.0" fill="#5a90c8"/>
<rect x="380.0" y="160.7" width="12.0" height="3.0" fill="#7aaad6" fill-opacity="0.85"/>
<rect x="405.0" y="160.7" width="12.0" height="3.0" fill="#6a9ed0" fill-opacity="0.85"/>
<rect x="395.0" y="160.7" width="10.0" height="3.0" fill="#b0d0e8"/>
<rect x="375.0" y="155.2" width="4.0" height="26.1" fill="#d44a4a"/>
<rect x="376.0" y="164.2" width="3.0" height="12.0" fill="#be2828"/>
<rect x="328.0" y="172.2" width="34.0" height="4.0" fill="#96a8d0"/>
<rect x="328.0" y="176.2" width="15.0" height="3.5" fill="#6a8ec0"/>
<rect x="350.0" y="176.2" width="6.0" height="3.5" fill="#4a80c0"/>
<rect x="313.4" y="181.4" width="2.3" height="1.8" fill="#e8a8a8"/>
<rect x="313.4" y="183.2" width="2.3" height="2.3" fill="#c4dcee"/>
<rect x="313.4" y="185.5" width="2.3" height="2.7" fill="#dce8f0"/>
<rect x="313.4" y="188.2" width="2.3" height="4.6" fill="#dce8f0"/>
<rect x="313.4" y="192.8" width="2.3" height="2.4" fill="#f0d0d0"/>
<rect x="313.4" y="195.2" width="2.3" height="1.7" fill="#c4dcee"/>
<rect x="313.4" y="196.9" width="2.3" height="4.0" fill="#dce8f0"/>
<rect x="313.4" y="201.0" width="2.3" height="3.7" fill="#dce8f0"/>
<rect x="313.4" y="204.6" width="2.3" height="3.4" fill="#dce8f0"/>
<rect x="313.4" y="208.0" width="2.3" height="2.5" fill="#f0d0d0"/>
<rect x="315.7" y="181.4" width="2.5" height="3.8" fill="#f4e4e4"/>
<rect x="315.7" y="185.2" width="2.5" height="2.7" fill="#dce8f0"/>
<rect x="315.7" y="187.8" width="2.5" height="2.2" fill="#c4dcee"/>
<rect x="315.7" y="190.1" width="2.5" height="2.8" fill="#dce8f0"/>
<rect x="315.7" y="192.9" width="2.5" height="2.2" fill="#f0d0d0"/>
<rect x="315.7" y="195.0" width="2.5" height="4.4" fill="#f0d0d0"/>
<rect x="315.7" y="199.5" width="2.5" height="4.3" fill="#f0d0d0"/>
<rect x="315.7" y="203.8" width="2.5" height="3.5" fill="#dce8f0"/>
<rect x="315.7" y="207.3" width="2.5" height="2.9" fill="#c4dcee"/>
<rect x="315.7" y="210.3" width="2.5" height="0.2" fill="#f0d0d0"/>
<rect x="318.2" y="181.4" width="2.0" height="2.5" fill="#dce8f0"/>
<rect x="318.2" y="183.9" width="2.0" height="2.2" fill="#e8a8a8"/>
<rect x="318.2" y="186.1" width="2.0" height="1.6" fill="#dce8f0"/>
<rect x="318.2" y="187.7" width="2.0" height="2.4" fill="#dce8f0"/>
<rect x="318.2" y="190.1" width="2.0" height="4.4" fill="#c4dcee"/>
<rect x="318.2" y="194.6" width="2.0" height="4.6" fill="#dce8f0"/>
<rect x="318.2" y="199.2" width="2.0" height="2.2" fill="#dce8f0"/>
<rect x="318.2" y="201.3" width="2.0" height="3.3" fill="#f4e4e4"/>
<rect x="318.2" y="204.6" width="2.0" height="4.4" fill="#f4e4e4"/>
<rect x="318.2" y="209.0" width="2.0" height="1.5" fill="#dce8f0"/>
<rect x="320.2" y="181.4" width="2.1" height="3.0" fill="#dce8f0"/>
<rect x="320.2" y="184.4" width="2.1" height="2.7" fill="#dce8f0"/>
<rect x="320.2" y="187.1" width="2.1" height="4.6" fill="#dce8f0"/>
<rect x="320.2" y="191.7" width="2.1" height="2.6" fill="#dce8f0"/>
<rect x="320.2" y="194.3" width="2.1" height="4.5" fill="#dce8f0"/>
<rect x="320.2" y="198.7" width="2.1" height="3.0" fill="#dce8f0"/>
<rect x="320.2" y="201.8" width="2.1" height="2.4" fill="#f4e4e4"/>
<rect x="320.2" y="204.1" width="2.1" height="4.0" fill="#c4dcee"/>
<rect x="320.2" y="208.1" width="2.1" height="2.4" fill="#f4e4e4"/>
<rect x="322.3" y="181.4" width="3.1" height="3.7" fill="#dce8f0"/>
<rect x="322.3" y="185.1" width="3.1" height="1.7" fill="#f0d0d0"/>
<rect x="322.3" y="186.8" width="3.1" height="3.2" fill="#f4e4e4"/>
<rect x="322.3" y="190.0" width="3.1" height="5.0" fill="#f4e4e4"/>
<rect x="322.3" y="195.0" width="3.1" height="2.3" fill="#f4e4e4"/>
<rect x="322.3" y="197.3" width="3.1" height="3.6" fill="#dce8f0"/>
<rect x="322.3" y="201.0" width="3.1" height="2.2" fill="#f4e4e4"/>
<rect x="322.3" y="203.2" width="3.1" height="4.3" fill="#c4dcee"/>
<rect x="322.3" y="207.5" width="3.1" height="3.0" fill="#dce8f0"/>
<rect x="325.5" y="181.4" width="3.1" height="2.5" fill="#c4dcee"/>
<rect x="325.5" y="183.9" width="3.1" height="3.4" fill="#f0d0d0"/>
<rect x="325.5" y="187.3" width="3.1" height="3.3" fill="#f4e4e4"/>
<rect x="325.5" y="190.6" width="3.1" height="4.4" fill="#f0d0d0"/>
<rect x="325.5" y="195.1" width="3.1" height="4.5" fill="#dce8f0"/>
<rect x="325.5" y="199.6" width="3.1" height="2.7" fill="#dce8f0"/>
<rect x="325.5" y="202.3" width="3.1" height="1.7" fill="#f0d0d0"/>
<rect x="325.5" y="203.9" width="3.1" height="1.5" fill="#f4e4e4"/>
<rect x="325.5" y="205.4" width="3.1" height="4.4" fill="#f0d0d0"/>
<rect x="325.5" y="209.8" width="3.1" height="0.7" fill="#dce8f0"/>
<rect x="328.6" y="181.4" width="2.8" height="2.5" fill="#dce8f0"/>
<rect x="328.6" y="183.9" width="2.8" height="3.0" fill="#e8a8a8"/>
<rect x="328.6" y="186.9" width="2.8" height="1.9" fill="#f0d0d0"/>
<rect x="328.6" y="188.8" width="2.8" height="3.4" fill="#c4dcee"/>
<rect x="328.6" y="192.3" width="2.8" height="2.9" fill="#f4e4e4"/>
<rect x="328.6" y="195.2" width="2.8" height="2.4" fill="#c4dcee"/>
<rect x="328.6" y="197.6" width="2.8" height="1.8" fill="#f4e4e4"/>
<rect x="328.6" y="199.4" width="2.8" height="3.4" fill="#dce8f0"/>
<rect x="328.6" y="202.8" width="2.8" height="4.4" fill="#f4e4e4"/>
<rect x="328.6" y="207.1" width="2.8" height="2.0" fill="#f4e4e4"/>
<rect x="328.6" y="209.1" width="2.8" height="1.4" fill="#dce8f0"/>
<rect x="331.4" y="181.4" width="2.9" height="4.0" fill="#e8a8a8"/>
<rect x="331.4" y="185.4" width="2.9" height="2.9" fill="#dce8f0"/>
<rect x="331.4" y="188.2" width="2.9" height="4.4" fill="#c4dcee"/>
<rect x="331.4" y="192.6" width="2.9" height="4.8" fill="#dce8f0"/>
<rect x="331.4" y="197.4" width="2.9" height="3.5" fill="#c4dcee"/>
<rect x="331.4" y="200.9" width="2.9" height="2.3" fill="#dce8f0"/>
<rect x="331.4" y="203.2" width="2.9" height="4.6" fill="#c4dcee"/>
<rect x="331.4" y="207.8" width="2.9" height="2.7" fill="#dce8f0"/>
<rect x="334.3" y="181.4" width="2.3" height="4.3" fill="#dce8f0"/>
<rect x="334.3" y="185.7" width="2.3" height="4.0" fill="#c4dcee"/>
<rect x="334.3" y="189.7" width="2.3" height="3.1" fill="#f4e4e4"/>
<rect x="334.3" y="192.9" width="2.3" height="3.7" fill="#f4e4e4"/>
<rect x="334.3" y="196.6" width="2.3" height="2.2" fill="#f0d0d0"/>
<rect x="334.3" y="198.8" width="2.3" height="2.5" fill="#f0d0d0"/>
<rect x="334.3" y="201.3" width="2.3" height="4.1" fill="#f4e4e4"/>
<rect x="334.3" y="205.4" width="2.3" height="4.7" fill="#f4e4e4"/>
<rect x="334.3" y="210.1" width="2.3" height="0.4" fill="#c4dcee"/>
<rect x="336.6" y="181.4" width="2.8" height="1.8" fill="#f0d0d0"/>
<rect x="336.6" y="183.2" width="2.8" height="3.2" fill="#dce8f0"/>
<rect x="336.6" y="186.4" width="2.8" height="4.7" fill="#f0d0d0"/>
<rect x="336.6" y="191.1" width="2.8" height="2.4" fill="#dce8f0"/>
<rect x="336.6" y="193.4" width="2.8" height="3.4" fill="#dce8f0"/>
<rect x="336.6" y="196.8" width="2.8" height="4.8" fill="#c4dcee"/>
<rect x="336.6" y="201.6" width="2.8" height="3.0" fill="#dce8f0"/>
<rect x="336.6" y="204.6" width="2.8" height="1.7" fill="#c4dcee"/>
<rect x="336.6" y="206.3" width="2.8" height="3.6" fill="#f0d0d0"/>
<rect x="336.6" y="209.9" width="2.8" height="0.6" fill="#f0d0d0"/>
<rect x="339.3" y="181.4" width="3.1" height="1.7" fill="#dce8f0"/>
<rect x="339.3" y="183.1" width="3.1" height="4.3" fill="#dce8f0"/>
<rect x="339.3" y="187.3" width="3.1" height="2.7" fill="#f0d0d0"/>
<rect x="339.3" y="190.0" width="3.1" height="2.5" fill="#c4dcee"/>
<rect x="339.3" y="192.5" width="3.1" height="1.8" fill="#e8a8a8"/>
<rect x="339.3" y="194.4" width="3.1" height="4.0" fill="#dce8f0"/>
<rect x="339.3" y="198.4" width="3.1" height="4.1" fill="#dce8f0"/>
<rect x="339.3" y="202.4" width="3.1" height="3.7" fill="#dce8f0"/>
<rect x="339.3" y="206.1" width="3.1" height="2.6" fill="#e8a8a8"/>
<rect x="339.3" y="208.7" width="3.1" height="1.8" fill="#f0d0d0"/>
<rect x="342.4" y="181.4" width="1.7" height="3.4" fill="#f4e4e4"/>
<rect x="342.4" y="184.8" width="1.7" height="2.5" fill="#dce8f0"/>
<rect x="342.4" y="187.2" width="1.7" height="3.7" fill="#dce8f0"/>
<rect x="342.4" y="190.9" width="1.7" height="1.9" fill="#dce8f0"/>
<rect x="342.4" y="192.7" width="1.7" height="3.7" fill="#f4e4e4"/>
<rect x="342.4" y="196.4" width="1.7" height="4.2" fill="#e8a8a8"/>
<rect x="342.4" y="200.6" width="1.7" height="4.6" fill="#f4e4e4"/>
<rect x="342.4" y="205.2" width="1.7" height="2.4" fill="#f0d0d0"/>
<rect x="342.4" y="207.6" width="1.7" height="2.9" fill="#f4e4e4"/>
<rect x="344.0" y="181.4" width="2.6" height="3.7" fill="#dce8f0"/>
<rect x="344.0" y="185.1" width="2.6" height="1.8" fill="#dce8f0"/>
<rect x="344.0" y="186.9" width="2.6" height="2.3" fill="#c4dcee"/>
<rect x="344.0" y="189.2" width="2.6" height="3.8" fill="#c4dcee"/>
<rect x="344.0" y="193.0" width="2.6" height="4.7" fill="#dce8f0"/>
<rect x="344.0" y="197.7" width="2.6" height="2.2" fill="#dce8f0"/>
<rect x="344.0" y="199.9" width="2.6" height="2.8" fill="#f4e4e4"/>
<rect x="344.0" y="202.7" width="2.6" height="3.1" fill="#c4dcee"/>
<rect x="344.0" y="205.8" width="2.6" height="2.1" fill="#dce8f0"/>
<rect x="344.0" y="208.0" width="2.6" height="2.5" fill="#dce8f0"/>
<rect x="346.7" y="181.4" width="2.8" height="3.6" fill="#c4dcee"/>
<rect x="346.7" y="185.0" width="2.8" height="1.6" fill="#dce8f0"/>
<rect x="346.7" y="186.6" width="2.8" height="4.9" fill="#f0d0d0"/>
<rect x="346.7" y="191.5" width="2.8" height="2.5" fill="#f4e4e4"/>
<rect x="346.7" y="194.0" width="2.8" height="3.6" fill="#c4dcee"/>
<rect x="346.7" y="197.6" width="2.8" height="3.2" fill="#e8a8a8"/>
<rect x="346.7" y="200.7" width="2.8" height="2.9" fill="#dce8f0"/>
<rect x="346.7" y="203.6" width="2.8" height="2.5" fill="#dce8f0"/>
<rect x="346.7" y="206.1" width="2.8" height="3.9" fill="#dce8f0"/>
<rect x="346.7" y="210.1" width="2.8" height="0.4" fill="#f0d0d0"/>
<rect x="349.4" y="181.4" width="3.2" height="4.2" fill="#c4dcee"/>
<rect x="349.4" y="185.6" width="3.2" height="4.1" fill="#dce8f0"/>
<rect x="349.4" y="189.7" width="3.2" height="3.3" fill="#dce8f0"/>
<rect x="349.4" y="193.0" width="3.2" height="3.3" fill="#dce8f0"/>
<rect x="349.4" y="196.3" width="3.2" height="1.9" fill="#dce8f0"/>
<rect x="349.4" y="198.2" width="3.2" height="2.7" fill="#f0d0d0"/>
<rect x="349.4" y="200.9" width="3.2" height="2.3" fill="#dce8f0"/>
<rect x="349.4" y="203.2" width="3.2" height="1.9" fill="#f4e4e4"/>
<rect x="349.4" y="205.1" width="3.2" height="4.9" fill="#f4e4e4"/>
<rect x="349.4" y="210.1" width="3.2" height="0.4" fill="#dce8f0"/>
<rect x="352.6" y="181.4" width="3.0" height="1.6" fill="#dce8f0"/>
<rect x="352.6" y="182.9" width="3.0" height="3.8" fill="#f4e4e4"/>
<rect x="352.6" y="186.7" width="3.0" height="4.7" fill="#f4e4e4"/>
<rect x="352.6" y="191.4" width="3.0" height="2.6" fill="#c4dcee"/>
<rect x="352.6" y="194.0" width="3.0" height="4.8" fill="#f4e4e4"/>
<rect x="352.6" y="198.8" width="3.0" height="4.9" fill="#c4dcee"/>
<rect x="352.6" y="203.7" width="3.0" height="4.3" fill="#c4dcee"/>
<rect x="352.6" y="208.0" width="3.0" height="2.5" fill="#e8a8a8"/>
<rect x="355.6" y="181.4" width="3.1" height="3.5" fill="#dce8f0"/>
<rect x="355.6" y="184.9" width="3.1" height="3.1" fill="#f4e4e4"/>
<rect x="355.6" y="187.9" width="3.1" height="4.0" fill="#f0d0d0"/>
<rect x="355.6" y="191.9" width="3.1" height="4.8" fill="#c4dcee"/>
<rect x="355.6" y="196.7" width="3.1" height="2.3" fill="#c4dcee"/>
<rect x="355.6" y="199.0" width="3.1" height="4.5" fill="#dce8f0"/>
<rect x="355.6" y="203.5" width="3.1" height="4.8" fill="#f0d0d0"/>
<rect x="355.6" y="208.3" width="3.1" height="2.2" fill="#dce8f0"/>
<rect x="358.7" y="181.4" width="2.1" height="2.6" fill="#dce8f0"/>
<rect x="358.7" y="183.9" width="2.1" height="3.8" fill="#c4dcee"/>
<rect x="358.7" y="187.7" width="2.1" height="3.8" fill="#f4e4e4"/>
<rect x="358.7" y="191.5" width="2.1" height="1.9" fill="#dce8f0"/>
<rect x="358.7" y="193.4" width="2.1" height="2.9" fill="#c4dcee"/>
<rect x="358.7" y="196.3" width="2.1" height="4.1" fill="#f4e4e4"/>
<rect x="358.7" y="200.4" width="2.1" height="4.6" fill="#f0d0d0"/>
<rect x="358.7" y="205.0" width="2.1" height="4.1" fill="#f4e4e4"/>
<rect x="358.7" y="209.0" width="2.1" height="1.5" fill="#c4dcee"/>
<rect x="360.8" y="181.4" width="3.0" height="4.4" fill="#dce8f0"/>
<rect x="360.8" y="185.8" width="3.0" height="1.6" fill="#c4dcee"/>
<rect x="360.8" y="187.4" width="3.0" height="4.4" fill="#dce8f0"/>
<rect x="360.8" y="191.7" width="3.0" height="4.5" fill="#c4dcee"/>
<rect x="360.8" y="196.2" width="3.0" height="2.1" fill="#dce8f0"/>
<rect x="360.8" y="198.3" width="3.0" height="3.8" fill="#e8a8a8"/>
<rect x="360.8" y="202.1" width="3.0" height="2.1" fill="#f4e4e4"/>
<rect x="360.8" y="204.2" width="3.0" height="2.3" fill="#f4e4e4"/>
<rect x="360.8" y="206.4" width="3.0" height="4.1" fill="#dce8f0"/>
<rect x="363.8" y="181.4" width="2.7" height="3.4" fill="#f4e4e4"/>
<rect x="363.8" y="184.8" width="2.7" height="3.1" fill="#f0d0d0"/>
<rect x="363.8" y="187.8" width="2.7" height="2.3" fill="#f4e4e4"/>
<rect x="363.8" y="190.2" width="2.7" height="2.6" fill="#f4e4e4"/>
<rect x="363.8" y="192.8" width="2.7" height="1.6" fill="#f4e4e4"/>
<rect x="363.8" y="194.4" width="2.7" height="1.6" fill="#c4dcee"/>
<rect x="363.8" y="196.0" width="2.7" height="4.8" fill="#dce8f0"/>
<rect x="363.8" y="200.8" width="2.7" height="3.6" fill="#f0d0d0"/>
<rect x="363.8" y="204.4" width="2.7" height="1.7" fill="#f4e4e4"/>
<rect x="363.8" y="206.1" width="2.7" height="3.2" fill="#c4dcee"/>
<rect x="363.8" y="209.3" width="2.7" height="1.2" fill="#dce8f0"/>
<rect x="366.5" y="181.4" width="2.0" height="4.4" fill="#dce8f0"/>
<rect x="366.5" y="185.7" width="2.0" height="1.6" fill="#f0d0d0"/>
<rect x="366.5" y="187.3" width="2.0" height="2.9" fill="#f4e4e4"/>
<rect x="366.5" y="190.2" width="2.0" height="4.5" fill="#dce8f0"/>
<rect x="366.5" y="194.7" width="2.0" height="4.1" fill="#dce8f0"/>
<rect x="366.5" y="198.8" width="2.0" height="4.2" fill="#c4dcee"/>
<rect x="366.5" y="202.9" width="2.0" height="1.7" fill="#f0d0d0"/>
<rect x="366.5" y="204.7" width="2.0" height="3.0" fill="#f0d0d0"/>
<rect x="366.5" y="207.7" width="2.0" height="2.8" fill="#c4dcee"/>
<rect x="368.5" y="181.4" width="2.2" height="3.3" fill="#f4e4e4"/>
<rect x="368.5" y="184.7" width="2.2" height="3.9" fill="#dce8f0"/>
<rect x="368.5" y="188.6" width="2.2" height="2.0" fill="#dce8f0"/>
<rect x="368.5" y="190.6" width="2.2" height="4.8" fill="#f0d0d0"/>
<rect x="368.5" y="195.4" width="2.2" height="4.6" fill="#f4e4e4"/>
<rect x="368.5" y="200.0" width="2.2" height="3.9" fill="#dce8f0"/>
<rect x="368.5" y="203.9" width="2.2" height="4.1" fill="#f0d0d0"/>
<rect x="368.5" y="208.0" width="2.2" height="2.5" fill="#f0d0d0"/>
<rect x="370.7" y="181.4" width="2.6" height="3.9" fill="#c4dcee"/>
<rect x="370.7" y="185.3" width="2.6" height="2.1" fill="#e8a8a8"/>
<rect x="370.7" y="187.4" width="2.6" height="3.0" fill="#c4dcee"/>
<rect x="370.7" y="190.4" width="2.6" height="4.2" fill="#dce8f0"/>
<rect x="370.7" y="194.6" width="2.6" height="2.8" fill="#dce8f0"/>
<rect x="370.7" y="197.4" width="2.6" height="4.9" fill="#f0d0d0"/>
<rect x="370.7" y="202.3" width="2.6" height="3.1" fill="#f4e4e4"/>
<rect x="370.7" y="205.3" width="2.6" height="4.2" fill="#f4e4e4"/>
<rect x="370.7" y="209.6" width="2.6" height="0.9" fill="#dce8f0"/>
<rect x="373.3" y="181.4" width="2.2" height="1.8" fill="#f0d0d0"/>
<rect x="373.3" y="183.2" width="2.2" height="3.1" fill="#f0d0d0"/>
<rect x="373.3" y="186.2" width="2.2" height="4.9" fill="#f0d0d0"/>
<rect x="373.3" y="191.2" width="2.2" height="2.1" fill="#dce8f0"/>
<rect x="373.3" y="193.2" width="2.2" height="3.9" fill="#f0d0d0"/>
<rect x="373.3" y="197.1" width="2.2" height="2.9" fill="#f0d0d0"/>
<rect x="373.3" y="200.1" width="2.2" height="2.9" fill="#c4dcee"/>
<rect x="373.3" y="203.0" width="2.2" height="3.6" fill="#dce8f0"/>
<rect x="373.3" y="206.6" width="2.2" height="3.2" fill="#dce8f0"/>
<rect x="373.3" y="209.8" width="2.2" height="0.7" fill="#f0d0d0"/>
<rect x="375.5" y="181.4" width="2.8" height="4.9" fill="#c4dcee"/>
<rect x="375.5" y="186.2" width="2.8" height="3.7" fill="#f0d0d0"/>
<rect x="375.5" y="189.9" width="2.8" height="1.9" fill="#c4dcee"/>
<rect x="375.5" y="191.8" width="2.8" height="2.2" fill="#f0d0d0"/>
<rect x="375.5" y="194.0" width="2.8" height="3.5" fill="#dce8f0"/>
<rect x="375.5" y="197.5" width="2.8" height="4.5" fill="#f0d0d0"/>
<rect x="375.5" y="202.1" width="2.8" height="4.9" fill="#dce8f0"/>
<rect x="375.5" y="207.0" width="2.8" height="3.1" fill="#dce8f0"/>
<rect x="375.5" y="210.1" width="2.8" height="0.4" fill="#c4dcee"/>
<rect x="378.4" y="181.4" width="2.5" height="4.8" fill="#f0d0d0"/>
<rect x="378.4" y="186.2" width="2.5" height="2.8" fill="#c4dcee"/>
<rect x="378.4" y="189.0" width="2.5" height="3.4" fill="#dce8f0"/>
<rect x="378.4" y="192.4" width="2.5" height="4.7" fill="#dce8f0"/>
<rect x="378.4" y="197.1" width="2.5" height="1.8" fill="#f0d0d0"/>
<rect x="378.4" y="198.9" width="2.5" height="4.7" fill="#f4e4e4"/>
<rect x="378.4" y="203.6" width="2.5" height="4.4" fill="#e8a8a8"/>
<rect x="378.4" y="207.9" width="2.5" height="2.6" fill="#dce8f0"/>
<rect x="380.9" y="181.4" width="1.9" height="3.1" fill="#f4e4e4"/>
<rect x="380.9" y="184.4" width="1.9" height="3.4" fill="#f4e4e4"/>
<rect x="380.9" y="187.9" width="1.9" height="4.3" fill="#f0d0d0"/>
<rect x="380.9" y="192.2" width="1.9" height="3.6" fill="#f0d0d0"/>
<rect x="380.9" y="195.7" width="1.9" height="4.7" fill="#f4e4e4"/>
<rect x="380.9" y="200.4" width="1.9" height="2.1" fill="#f4e4e4"/>
<rect x="380.9" y="202.5" width="1.9" height="3.9" fill="#dce8f0"/>
<rect x="380.9" y="206.4" width="1.9" height="4.1" fill="#f0d0d0"/>
<rect x="382.8" y="181.4" width="2.7" height="3.3" fill="#c4dcee"/>
<rect x="382.8" y="184.6" width="2.7" height="4.7" fill="#f4e4e4"/>
<rect x="382.8" y="189.4" width="2.7" height="3.2" fill="#f0d0d0"/>
<rect x="382.8" y="192.5" width="2.7" height="4.0" fill="#c4dcee"/>
<rect x="382.8" y="196.5" width="2.7" height="1.8" fill="#f0d0d0"/>
<rect x="382.8" y="198.4" width="2.7" height="2.5" fill="#c4dcee"/>
<rect x="382.8" y="200.9" width="2.7" height="2.1" fill="#dce8f0"/>
<rect x="382.8" y="202.9" width="2.7" height="2.4" fill="#dce8f0"/>
<rect x="382.8" y="205.3" width="2.7" height="3.5" fill="#f4e4e4"/>
<rect x="382.8" y="208.8" width="2.7" height="1.7" fill="#c4dcee"/>
<rect x="385.5" y="181.4" width="2.8" height="2.9" fill="#f0d0d0"/>
<rect x="385.5" y="184.2" width="2.8" height="3.8" fill="#dce8f0"/>
<rect x="385.5" y="188.0" width="2.8" height="4.1" fill="#f4e4e4"/>
<rect x="385.5" y="192.2" width="2.8" height="4.6" fill="#dce8f0"/>
<rect x="385.5" y="196.7" width="2.8" height="4.7" fill="#dce8f0"/>
<rect x="385.5" y="201.4" width="2.8" height="2.0" fill="#e8a8a8"/>
<rect x="385.5" y="203.4" width="2.8" height="2.7" fill="#dce8f0"/>
<rect x="385.5" y="206.1" width="2.8" height="3.6" fill="#f0d0d0"/>
<rect x="385.5" y="209.7" width="2.8" height="0.8" fill="#f0d0d0"/>
<rect x="388.3" y="181.4" width="2.6" height="4.2" fill="#c4dcee"/>
<rect x="388.3" y="185.6" width="2.6" height="4.0" fill="#f4e4e4"/>
<rect x="388.3" y="189.6" width="2.6" height="3.1" fill="#c4dcee"/>
<rect x="388.3" y="192.7" width="2.6" height="1.9" fill="#dce8f0"/>
<rect x="388.3" y="194.6" width="2.6" height="3.1" fill="#c4dcee"/>
<rect x="388.3" y="197.7" width="2.6" height="2.3" fill="#f4e4e4"/>
<rect x="388.3" y="200.0" width="2.6" height="2.5" fill="#f0d0d0"/>
<rect x="388.3" y="202.5" width="2.6" height="3.1" fill="#f4e4e4"/>
<rect x="388.3" y="205.7" width="2.6" height="2.0" fill="#dce8f0"/>
<rect x="388.3" y="207.7" width="2.6" height="2.8" fill="#dce8f0"/>
<rect x="390.9" y="181.4" width="2.1" height="2.0" fill="#f4e4e4"/>
<rect x="390.9" y="183.3" width="2.1" height="3.0" fill="#e8a8a8"/>
<rect x="390.9" y="186.4" width="2.1" height="2.4" fill="#f4e4e4"/>
<rect x="390.9" y="188.7" width="2.1" height="1.9" fill="#c4dcee"/>
<rect x="390.9" y="190.6" width="2.1" height="1.7" fill="#f0d0d0"/>
<rect x="390.9" y="192.3" width="2.1" height="2.6" fill="#f4e4e4"/>
<rect x="390.9" y="195.0" width="2.1" height="3.0" fill="#f4e4e4"/>
<rect x="390.9" y="198.0" width="2.1" height="1.6" fill="#dce8f0"/>
<rect x="390.9" y="199.6" width="2.1" height="5.0" fill="#dce8f0"/>
<rect x="390.9" y="204.6" width="2.1" height="1.6" fill="#dce8f0"/>
<rect x="390.9" y="206.2" width="2.1" height="2.8" fill="#f0d0d0"/>
<rect x="390.9" y="209.0" width="2.1" height="1.5" fill="#dce8f0"/>
<rect x="393.0" y="181.4" width="2.4" height="3.1" fill="#dce8f0"/>
<rect x="393.0" y="184.5" width="2.4" height="3.3" fill="#e8a8a8"/>
<rect x="393.0" y="187.8" width="2.4" height="3.5" fill="#c4dcee"/>
<rect x="393.0" y="191.3" width="2.4" height="3.1" fill="#dce8f0"/>
<rect x="393.0" y="194.4" width="2.4" height="4.8" fill="#dce8f0"/>
<rect x="393.0" y="199.2" width="2.4" height="2.6" fill="#f0d0d0"/>
<rect x="393.0" y="201.8" width="2.4" height="2.9" fill="#dce8f0"/>
<rect x="393.0" y="204.7" width="2.4" height="4.5" fill="#dce8f0"/>
<rect x="393.0" y="209.2" width="2.4" height="1.3" fill="#e8a8a8"/>
<rect x="395.4" y="181.4" width="1.8" height="3.0" fill="#dce8f0"/>
<rect x="395.4" y="184.4" width="1.8" height="3.4" fill="#c4dcee"/>
<rect x="395.4" y="187.8" width="1.8" height="4.5" fill="#f4e4e4"/>
<rect x="395.4" y="192.3" width="1.8" height="1.9" fill="#f0d0d0"/>
<rect x="395.4" y="194.2" width="1.8" height="3.8" fill="#f0d0d0"/>
<rect x="395.4" y="198.0" width="1.8" height="4.8" fill="#f0d0d0"/>
<rect x="395.4" y="202.8" width="1.8" height="4.5" fill="#dce8f0"/>
<rect x="395.4" y="207.3" width="1.8" height="2.9" fill="#c4dcee"/>
<rect x="395.4" y="210.2" width="1.8" height="0.3" fill="#f0d0d0"/>
<rect x="397.2" y="181.4" width="3.0" height="4.2" fill="#f0d0d0"/>
<rect x="397.2" y="185.5" width="3.0" height="4.0" fill="#f0d0d0"/>
<rect x="397.2" y="189.5" width="3.0" height="1.9" fill="#f4e4e4"/>
<rect x="397.2" y="191.4" width="3.0" height="4.5" fill="#f4e4e4"/>
<rect x="397.2" y="195.9" width="3.0" height="2.3" fill="#c4dcee"/>
<rect x="397.2" y="198.2" width="3.0" height="1.6" fill="#f0d0d0"/>
<rect x="397.2" y="199.8" width="3.0" height="2.6" fill="#f0d0d0"/>
<rect x="397.2" y="202.4" width="3.0" height="2.8" fill="#f0d0d0"/>
<rect x="397.2" y="205.2" width="3.0" height="3.0" fill="#c4dcee"/>
<rect x="397.2" y="208.2" width="3.0" height="2.3" fill="#dce8f0"/>
<rect x="400.2" y="181.4" width="1.9" height="2.3" fill="#dce8f0"/>
<rect x="400.2" y="183.7" width="1.9" height="3.0" fill="#f0d0d0"/>
<rect x="400.2" y="186.7" width="1.9" height="4.2" fill="#f4e4e4"/>
<rect x="400.2" y="190.9" width="1.9" height="2.4" fill="#dce8f0"/>
<rect x="400.2" y="193.3" width="1.9" height="3.3" fill="#dce8f0"/>
<rect x="400.2" y="196.6" width="1.9" height="3.7" fill="#dce8f0"/>
<rect x="400.2" y="200.3" width="1.9" height="3.6" fill="#e8a8a8"/>
<rect x="400.2" y="203.9" width="1.9" height="2.8" fill="#f4e4e4"/>
<rect x="400.2" y="206.7" width="1.9" height="2.6" fill="#dce8f0"/>
<rect x="400.2" y="209.3" width="1.9" height="1.2" fill="#dce8f0"/>
<rect x="402.1" y="181.4" width="2.8" height="4.1" fill="#dce8f0"/>
<rect x="402.1" y="185.5" width="2.8" height="4.6" fill="#dce8f0"/>
<rect x="402.1" y="190.1" width="2.8" height="2.3" fill="#e8a8a8"/>
<rect x="402.1" y="192.4" width="2.8" height="3.4" fill="#c4dcee"/>
<rect x="402.1" y="195.7" width="2.8" height="2.6" fill="#f4e4e4"/>
<rect x="402.1" y="198.3" width="2.8" height="3.7" fill="#c4dcee"/>
<rect x="402.1" y="202.0" width="2.8" height="3.5" fill="#dce8f0"/>
<rect x="402.1" y="205.5" width="2.8" height="3.5" fill="#f4e4e4"/>
<rect x="402.1" y="209.0" width="2.8" height="1.5" fill="#dce8f0"/>
<rect x="404.9" y="181.4" width="2.1" height="2.4" fill="#c4dcee"/>
<rect x="404.9" y="183.8" width="2.1" height="3.8" fill="#dce8f0"/>
<rect x="404.9" y="187.5" width="2.1" height="4.0" fill="#f4e4e4"/>
<rect x="404.9" y="191.5" width="2.1" height="1.7" fill="#dce8f0"/>
<rect x="404.9" y="193.2" width="2.1" height="3.6" fill="#f4e4e4"/>
<rect x="404.9" y="196.8" width="2.1" height="3.4" fill="#f0d0d0"/>
<rect x="404.9" y="200.3" width="2.1" height="2.9" fill="#e8a8a8"/>
<rect x="404.9" y="203.2" width="2.1" height="4.7" fill="#e8a8a8"/>
<rect x="404.9" y="207.9" width="2.1" height="2.6" fill="#f0d0d0"/>
<rect x="407.0" y="181.4" width="3.0" height="4.2" fill="#f0d0d0"/>
<rect x="407.0" y="185.6" width="3.0" height="2.6" fill="#dce8f0"/>
<rect x="407.0" y="188.1" width="3.0" height="4.9" fill="#c4dcee"/>
<rect x="407.0" y="193.0" width="3.0" height="1.7" fill="#f0d0d0"/>
<rect x="407.0" y="194.8" width="3.0" height="3.0" fill="#e8a8a8"/>
<rect x="407.0" y="197.8" width="3.0" height="2.5" fill="#f4e4e4"/>
<rect x="407.0" y="200.3" width="3.0" height="3.2" fill="#f4e4e4"/>
<rect x="407.0" y="203.5" width="3.0" height="2.4" fill="#f4e4e4"/>
<rect x="407.0" y="205.9" width="3.0" height="3.4" fill="#f0d0d0"/>
<rect x="407.0" y="209.3" width="3.0" height="1.2" fill="#f4e4e4"/>
<rect x="410.0" y="181.4" width="2.5" height="3.4" fill="#dce8f0"/>
<rect x="410.0" y="184.7" width="2.5" height="3.1" fill="#dce8f0"/>
<rect x="410.0" y="187.8" width="2.5" height="3.1" fill="#dce8f0"/>
<rect x="410.0" y="190.9" width="2.5" height="1.8" fill="#dce8f0"/>
<rect x="410.0" y="192.7" width="2.5" height="1.6" fill="#c4dcee"/>
<rect x="410.0" y="194.3" width="2.5" height="1.8" fill="#f4e4e4"/>
<rect x="410.0" y="196.1" width="2.5" height="2.6" fill="#dce8f0"/>
<rect x="410.0" y="198.7" width="2.5" height="3.4" fill="#dce8f0"/>
<rect x="410.0" y="202.1" width="2.5" height="4.0" fill="#dce8f0"/>
<rect x="410.0" y="206.2" width="2.5" height="4.3" fill="#dce8f0"/>
<rect x="412.5" y="181.4" width="1.7" height="4.6" fill="#c4dcee"/>
<rect x="412.5" y="186.0" width="1.7" height="2.4" fill="#c4dcee"/>
<rect x="412.5" y="188.4" width="1.7" height="2.8" fill="#f0d0d0"/>
<rect x="412.5" y="191.1" width="1.7" height="2.5" fill="#f0d0d0"/>
<rect x="412.5" y="193.6" width="1.7" height="3.8" fill="#f4e4e4"/>
<rect x="412.5" y="197.4" width="1.7" height="2.4" fill="#e8a8a8"/>
<rect x="412.5" y="199.8" width="1.7" height="3.5" fill="#f4e4e4"/>
<rect x="412.5" y="203.3" width="1.7" height="3.2" fill="#f4e4e4"/>
<rect x="412.5" y="206.4" width="1.7" height="4.1" fill="#f0d0d0"/>
<rect x="414.2" y="181.4" width="2.2" height="4.9" fill="#e8a8a8"/>
<rect x="414.2" y="186.3" width="2.2" height="3.4" fill="#c4dcee"/>
<rect x="414.2" y="189.6" width="2.2" height="3.6" fill="#f0d0d0"/>
<rect x="414.2" y="193.2" width="2.2" height="3.8" fill="#dce8f0"/>
<rect x="414.2" y="197.0" width="2.2" height="2.8" fill="#dce8f0"/>
<rect x="414.2" y="199.9" width="2.2" height="4.0" fill="#f4e4e4"/>
<rect x="414.2" y="203.9" width="2.2" height="4.1" fill="#f4e4e4"/>
<rect x="414.2" y="208.0" width="2.2" height="2.5" fill="#dce8f0"/>
<rect x="416.4" y="181.4" width="0.6" height="4.7" fill="#dce8f0"/>
<rect x="416.4" y="186.1" width="0.6" height="4.6" fill="#c4dcee"/>
<rect x="416.4" y="190.7" width="0.6" height="2.0" fill="#dce8f0"/>
<rect x="416.4" y="192.7" width="0.6" height="4.1" fill="#c4dcee"/>
<rect x="416.4" y="196.7" width="0.6" height="1.6" fill="#f0d0d0"/>
<rect x="416.4" y="198.4" width="0.6" height="2.2" fill="#f4e4e4"/>
<rect x="416.4" y="200.5" width="0.6" height="3.4" fill="#dce8f0"/>
<rect x="416.4" y="203.9" width="0.6" height="2.9" fill="#dce8f0"/>
<rect x="416.4" y="206.8" width="0.6" height="3.7" fill="#f4e4e4"/>
<rect x="313.4" y="185.9" width="103.5" height="2.0" fill="#c4dcee" fill-opacity="0.80"/>
<rect x="313.4" y="193.4" width="103.5" height="2.5" fill="#c4dcee" fill-opacity="0.80"/>
<rect x="361.2" y="181.4" width="1.4" height="29.1" fill="#c83032"/>
<rect x="362.6" y="185.0" width="3.9" height="3.0" fill="#e06060"/>
<rect x="362.6" y="191.0" width="3.9" height="2.0" fill="#e07070"/>
<rect x="362.6" y="198.0" width="3.9" height="4.0" fill="#d03838"/>
<rect x="410.0" y="199.0" width="7.0" height="3.0" fill="#c83030"/>
<rect x="326.0" y="207.6" width="35.0" height="2.8" fill="#5a8cc8"/>
<rect x="395.0" y="207.6" width="22.0" height="2.8" fill="#f2b898"/>
<rect x="387.3" y="185.0" width="0.5" height="22.3" fill="#eab4b8" fill-opacity="0.50"/>
<rect x="391.9" y="185.7" width="0.5" height="20.7" fill="#e49a9e" fill-opacity="0.54"/>
<rect x="401.5" y="183.8" width="0.8" height="25.8" fill="#e8a8ac" fill-opacity="0.40"/>
<rect x="394.7" y="183.3" width="0.8" height="21.4" fill="#f0c8c8" fill-opacity="0.35"/>
<rect x="369.5" y="185.1" width="1.0" height="24.4" fill="#e49a9e" fill-opacity="0.40"/>
<rect x="376.2" y="182.9" width="0.5" height="26.8" fill="#eab4b8" fill-opacity="0.39"/>
<rect x="330.4" y="184.1" width="1.0" height="25.1" fill="#eab4b8" fill-opacity="0.55"/>
<rect x="375.5" y="184.7" width="1.0" height="21.3" fill="#e8a8ac" fill-opacity="0.43"/>
<rect x="394.1" y="183.9" width="0.8" height="25.0" fill="#e49a9e" fill-opacity="0.48"/>
<rect x="355.6" y="187.3" width="1.0" height="22.9" fill="#e49a9e" fill-opacity="0.54"/>
<rect x="359.8" y="183.5" width="0.5" height="25.5" fill="#e8a8ac" fill-opacity="0.41"/>
<rect x="390.4" y="186.6" width="0.6" height="20.9" fill="#e49a9e" fill-opacity="0.38"/>
<rect x="392.5" y="186.3" width="0.8" height="19.5" fill="#f0c8c8" fill-opacity="0.52"/>
<rect x="401.6" y="183.9" width="0.6" height="21.1" fill="#f0c8c8" fill-opacity="0.38"/>
<rect x="405.8" y="183.9" width="0.8" height="25.3" fill="#f0c8c8" fill-opacity="0.35"/>
<rect x="364.1" y="184.2" width="0.8" height="21.8" fill="#e49a9e" fill-opacity="0.53"/>
<rect x="326.5" y="183.8" width="1.0" height="22.2" fill="#eab4b8" fill-opacity="0.45"/>
<rect x="392.6" y="183.3" width="1.0" height="27.1" fill="#f0c8c8" fill-opacity="0.53"/>
<rect x="330.0" y="182.0" width="1.0" height="24.1" fill="#d87c84" fill-opacity="0.56"/>
<rect x="349.3" y="184.8" width="0.8" height="22.2" fill="#d87c84" fill-opacity="0.51"/>
<rect x="405.6" y="185.7" width="0.5" height="20.6" fill="#eab4b8" fill-opacity="0.57"/>
<rect x="329.6" y="182.3" width="0.6" height="22.5" fill="#e8a8ac" fill-opacity="0.58"/>
<rect x="408.1" y="184.4" width="0.6" height="25.4" fill="#e8a8ac" fill-opacity="0.51"/>
<rect x="338.4" y="181.7" width="0.8" height="26.6" fill="#d87c84" fill-opacity="0.41"/>
<rect x="317.7" y="187.0" width="0.8" height="18.3" fill="#f0c8c8" fill-opacity="0.54"/>
</g></g>
<line x1="313.40" y1="35.73" x2="416.90" y2="35.73" stroke="#3a3a3a" stroke-width="0.95" stroke-dasharray="3.4 2.4"/>
<line x1="313.40" y1="64.86" x2="416.90" y2="64.86" stroke="#3a3a3a" stroke-width="0.95" stroke-dasharray="3.4 2.4"/>
<line x1="313.40" y1="93.99" x2="416.90" y2="93.99" stroke="#3a3a3a" stroke-width="0.95" stroke-dasharray="3.4 2.4"/>
<line x1="313.40" y1="123.11" x2="416.90" y2="123.11" stroke="#3a3a3a" stroke-width="0.95" stroke-dasharray="3.4 2.4"/>
<line x1="313.40" y1="152.24" x2="416.90" y2="152.24" stroke="#3a3a3a" stroke-width="0.95" stroke-dasharray="3.4 2.4"/>
<line x1="313.40" y1="181.37" x2="416.90" y2="181.37" stroke="#3a3a3a" stroke-width="0.95" stroke-dasharray="3.4 2.4"/>
<rect x="313.40" y="6.60" width="103.50" height="203.90" fill="none" stroke="#9a9a9a" stroke-width="0.8"/>
<text x="375.80" y="223.95" font-size="8.2" text-anchor="start" fill="#1a1a1a" stroke="#1a1a1a" font-weight="normal" font-style="normal" >Expression</text>
<defs><linearGradient id="rdbu" x1="0" x2="1" y1="0" y2="0"><stop offset="0" stop-color="#2166ac"/><stop offset="0.25" stop-color="#92c5de"/><stop offset="0.5" stop-color="#f7f7f7"/><stop offset="0.75" stop-color="#f4a582"/><stop offset="1" stop-color="#b2182b"/></linearGradient></defs>
<rect x="375.80" y="227.00" width="39.40" height="6.80" fill="url(#rdbu)" />
<text x="376.00" y="241.25" font-size="8.2" text-anchor="middle" fill="#1a1a1a" stroke="#1a1a1a" font-weight="normal" font-style="normal" >-2</text>
<text x="386.00" y="241.25" font-size="8.2" text-anchor="middle" fill="#1a1a1a" stroke="#1a1a1a" font-weight="normal" font-style="normal" >-1</text>
<text x="395.50" y="241.25" font-size="8.2" text-anchor="middle" fill="#1a1a1a" stroke="#1a1a1a" font-weight="normal" font-style="normal" >0</text>
<text x="405.00" y="241.25" font-size="8.2" text-anchor="middle" fill="#1a1a1a" stroke="#1a1a1a" font-weight="normal" font-style="normal" >1</text>
<text x="415.00" y="241.25" font-size="8.2" text-anchor="middle" fill="#1a1a1a" stroke="#1a1a1a" font-weight="normal" font-style="normal" >2</text>
<rect x="436.2" y="7.2" width="220.40" height="203.30" fill="none" stroke="#555" stroke-width="1"/>
<text x="456.20" y="18.62" font-size="8.1" text-anchor="middle" fill="#222" stroke="#222" font-weight="normal" font-style="normal" >ASPM</text>
<text x="456.20" y="29.67" font-size="8.1" text-anchor="middle" fill="#222" stroke="#222" font-weight="normal" font-style="normal" >TPX2</text>
<text x="501.30" y="18.62" font-size="8.1" text-anchor="middle" fill="#222" stroke="#222" font-weight="normal" font-style="normal" >CENPF</text>
<text x="501.30" y="29.67" font-size="8.1" text-anchor="middle" fill="#222" stroke="#222" font-weight="normal" font-style="normal" >UBE2C</text>
<text x="544.30" y="18.62" font-size="8.1" text-anchor="middle" fill="#222" stroke="#222" font-weight="normal" font-style="normal" >MKI67</text>
<text x="544.30" y="29.67" font-size="8.1" text-anchor="middle" fill="#222" stroke="#222" font-weight="normal" font-style="normal" >CCNB2</text>
<text x="589.30" y="18.62" font-size="8.1" text-anchor="middle" fill="#222" stroke="#222" font-weight="normal" font-style="normal" >NUSAP1</text>
<text x="589.30" y="29.67" font-size="8.1" text-anchor="middle" fill="#222" stroke="#222" font-weight="normal" font-style="normal" >CDC20</text>
<text x="633.30" y="18.62" font-size="8.1" text-anchor="middle" fill="#222" stroke="#222" font-weight="normal" font-style="normal" >TOP2A</text>
<text x="633.30" y="29.67" font-size="8.1" text-anchor="middle" fill="#222" stroke="#222" font-weight="normal" font-style="normal" >PRC1</text>
<text x="456.20" y="47.66" font-size="8.1" text-anchor="middle" fill="#222" stroke="#222" font-weight="normal" font-style="normal" >CLSPN</text>
<text x="456.20" y="58.71" font-size="8.1" text-anchor="middle" fill="#222" stroke="#222" font-weight="normal" font-style="normal" >MYBL2</text>
<text x="501.30" y="47.66" font-size="8.1" text-anchor="middle" fill="#222" stroke="#222" font-weight="normal" font-style="normal" >DEK</text>
<text x="501.30" y="58.71" font-size="8.1" text-anchor="middle" fill="#222" stroke="#222" font-weight="normal" font-style="normal" >PCLAF</text>
<text x="544.30" y="47.66" font-size="8.1" text-anchor="middle" fill="#222" stroke="#222" font-weight="normal" font-style="normal" >DUT</text>
<text x="544.30" y="58.71" font-size="8.1" text-anchor="middle" fill="#222" stroke="#222" font-weight="normal" font-style="normal" >PCNA</text>
<text x="589.30" y="47.66" font-size="8.1" text-anchor="middle" fill="#222" stroke="#222" font-weight="normal" font-style="normal" >MCM10</text>
<text x="589.30" y="58.71" font-size="8.1" text-anchor="middle" fill="#222" stroke="#222" font-weight="normal" font-style="normal" >RRM2</text>
<text x="633.30" y="47.66" font-size="8.1" text-anchor="middle" fill="#222" stroke="#222" font-weight="normal" font-style="normal" >MCM7</text>
<text x="633.30" y="58.71" font-size="8.1" text-anchor="middle" fill="#222" stroke="#222" font-weight="normal" font-style="normal" >TYMS</text>
<line x1="436.20" y1="36.24" x2="656.60" y2="36.24" stroke="#555" stroke-width="1" stroke-dasharray="9.5 3.2" stroke-dashoffset="-2"/>
<text x="456.20" y="76.70" font-size="8.1" text-anchor="middle" fill="#222" stroke="#222" font-weight="normal" font-style="normal" >IFIT3</text>
<text x="456.20" y="87.75" font-size="8.1" text-anchor="middle" fill="#222" stroke="#222" font-weight="normal" font-style="normal" >RSAD2</text>
<text x="501.30" y="76.70" font-size="8.1" text-anchor="middle" fill="#222" stroke="#222" font-weight="normal" font-style="normal" >ISG15</text>
<text x="501.30" y="87.75" font-size="8.1" text-anchor="middle" fill="#222" stroke="#222" font-weight="normal" font-style="normal" >TNFSF10</text>
<text x="544.30" y="76.70" font-size="8.1" text-anchor="middle" fill="#222" stroke="#222" font-weight="normal" font-style="normal" >IFIH1</text>
<text x="544.30" y="87.75" font-size="8.1" text-anchor="middle" fill="#222" stroke="#222" font-weight="normal" font-style="normal" >ETV7</text>
<text x="589.30" y="76.70" font-size="8.1" text-anchor="middle" fill="#222" stroke="#222" font-weight="normal" font-style="normal" >IFIT1</text>
<text x="589.30" y="87.75" font-size="8.1" text-anchor="middle" fill="#222" stroke="#222" font-weight="normal" font-style="normal" >GBP4</text>
<text x="633.30" y="76.70" font-size="8.1" text-anchor="middle" fill="#222" stroke="#222" font-weight="normal" font-style="normal" >MX1</text>
<text x="633.30" y="87.75" font-size="8.1" text-anchor="middle" fill="#222" stroke="#222" font-weight="normal" font-style="normal" >IFIT2</text>
<line x1="436.20" y1="65.29" x2="656.60" y2="65.29" stroke="#555" stroke-width="1" stroke-dasharray="9.5 3.2" stroke-dashoffset="-2"/>
<text x="456.20" y="105.74" font-size="8.1" text-anchor="middle" fill="#222" stroke="#222" font-weight="normal" font-style="normal" >COL1A1</text>
<text x="456.20" y="116.79" font-size="8.1" text-anchor="middle" fill="#222" stroke="#222" font-weight="normal" font-style="normal" >COL6A2</text>
<text x="501.30" y="105.74" font-size="8.1" text-anchor="middle" fill="#222" stroke="#222" font-weight="normal" font-style="normal" >COL1A2</text>
<text x="501.30" y="116.79" font-size="8.1" text-anchor="middle" fill="#222" stroke="#222" font-weight="normal" font-style="normal" >COL6A3</text>
<text x="544.30" y="105.74" font-size="8.1" text-anchor="middle" fill="#222" stroke="#222" font-weight="normal" font-style="normal" >COL3A1</text>
<text x="544.30" y="116.79" font-size="8.1" text-anchor="middle" fill="#222" stroke="#222" font-weight="normal" font-style="normal" >DCN</text>
<text x="589.30" y="105.74" font-size="8.1" text-anchor="middle" fill="#222" stroke="#222" font-weight="normal" font-style="normal" >COL5A2</text>
<text x="589.30" y="116.79" font-size="8.1" text-anchor="middle" fill="#222" stroke="#222" font-weight="normal" font-style="normal" >AEBP1</text>
<text x="633.30" y="105.74" font-size="8.1" text-anchor="middle" fill="#222" stroke="#222" font-weight="normal" font-style="normal" >COL6A1</text>
<text x="633.30" y="116.79" font-size="8.1" text-anchor="middle" fill="#222" stroke="#222" font-weight="normal" font-style="normal" >BGN</text>
<line x1="436.20" y1="94.33" x2="656.60" y2="94.33" stroke="#555" stroke-width="1" stroke-dasharray="9.5 3.2" stroke-dashoffset="-2"/>
<text x="461.50" y="134.79" font-size="8.1" text-anchor="middle" fill="#222" stroke="#222" font-weight="normal" font-style="normal" >AC007906.2</text>
<text x="456.20" y="145.84" font-size="8.1" text-anchor="middle" fill="#222" stroke="#222" font-weight="normal" font-style="normal" >WT1</text>
<text x="501.30" y="134.79" font-size="8.1" text-anchor="middle" fill="#222" stroke="#222" font-weight="normal" font-style="normal" >EGR1</text>
<text x="501.30" y="145.84" font-size="8.1" text-anchor="middle" fill="#222" stroke="#222" font-weight="normal" font-style="normal" >AHNAK</text>
<text x="544.30" y="134.79" font-size="8.1" text-anchor="middle" fill="#222" stroke="#222" font-weight="normal" font-style="normal" >FOS</text>
<text x="544.30" y="145.84" font-size="8.1" text-anchor="middle" fill="#222" stroke="#222" font-weight="normal" font-style="normal" >ARSD</text>
<text x="589.30" y="134.79" font-size="8.1" text-anchor="middle" fill="#222" stroke="#222" font-weight="normal" font-style="normal" >IER2</text>
<text x="589.30" y="145.84" font-size="8.1" text-anchor="middle" fill="#222" stroke="#222" font-weight="normal" font-style="normal" >BTG2</text>
<text x="633.30" y="134.79" font-size="8.1" text-anchor="middle" fill="#222" stroke="#222" font-weight="normal" font-style="normal" >JUN</text>
<text x="633.30" y="145.84" font-size="8.1" text-anchor="middle" fill="#222" stroke="#222" font-weight="normal" font-style="normal" >CCDC6</text>
<line x1="436.20" y1="123.37" x2="656.60" y2="123.37" stroke="#555" stroke-width="1" stroke-dasharray="9.5 3.2" stroke-dashoffset="-2"/>
<text x="456.20" y="163.83" font-size="8.1" text-anchor="middle" fill="#222" stroke="#222" font-weight="normal" font-style="normal" >BNIP3</text>
<text x="456.20" y="174.88" font-size="8.1" text-anchor="middle" fill="#222" stroke="#222" font-weight="normal" font-style="normal" >SLC2A1</text>
<text x="501.30" y="163.83" font-size="8.1" text-anchor="middle" fill="#222" stroke="#222" font-weight="normal" font-style="normal" >FTH1</text>
<text x="501.30" y="174.88" font-size="8.1" text-anchor="middle" fill="#222" stroke="#222" font-weight="normal" font-style="normal" >EIF1</text>
<text x="544.30" y="163.83" font-size="8.1" text-anchor="middle" fill="#222" stroke="#222" font-weight="normal" font-style="normal" >FTL</text>
<text x="544.30" y="174.88" font-size="8.1" text-anchor="middle" fill="#222" stroke="#222" font-weight="normal" font-style="normal" >ENO1</text>
<text x="589.30" y="163.83" font-size="8.1" text-anchor="middle" fill="#222" stroke="#222" font-weight="normal" font-style="normal" >GAPDH</text>
<text x="589.30" y="174.88" font-size="8.1" text-anchor="middle" fill="#222" stroke="#222" font-weight="normal" font-style="normal" >ENO2</text>
<text x="633.30" y="163.83" font-size="8.1" text-anchor="middle" fill="#222" stroke="#222" font-weight="normal" font-style="normal" >NDUFA4L2</text>
<text x="633.30" y="174.88" font-size="8.1" text-anchor="middle" fill="#222" stroke="#222" font-weight="normal" font-style="normal" >ERO1A</text>
<line x1="436.20" y1="152.41" x2="656.60" y2="152.41" stroke="#555" stroke-width="1" stroke-dasharray="9.5 3.2" stroke-dashoffset="-2"/>
<text x="456.20" y="192.87" font-size="8.1" text-anchor="middle" fill="#222" stroke="#222" font-weight="normal" font-style="normal" >FXYD3</text>
<text x="456.20" y="203.92" font-size="8.1" text-anchor="middle" fill="#222" stroke="#222" font-weight="normal" font-style="normal" >ADIRF</text>
<text x="501.30" y="192.87" font-size="8.1" text-anchor="middle" fill="#222" stroke="#222" font-weight="normal" font-style="normal" >GPRC5A</text>
<text x="501.30" y="203.92" font-size="8.1" text-anchor="middle" fill="#222" stroke="#222" font-weight="normal" font-style="normal" >B3GNT3</text>
<text x="544.30" y="192.87" font-size="8.1" text-anchor="middle" fill="#222" stroke="#222" font-weight="normal" font-style="normal" >LCN2</text>
<text x="544.30" y="203.92" font-size="8.1" text-anchor="middle" fill="#222" stroke="#222" font-weight="normal" font-style="normal" >C1ORF116</text>
<text x="589.30" y="192.87" font-size="8.1" text-anchor="middle" fill="#222" stroke="#222" font-weight="normal" font-style="normal" >MALL</text>
<text x="589.30" y="203.92" font-size="8.1" text-anchor="middle" fill="#222" stroke="#222" font-weight="normal" font-style="normal" >CAMK2N1</text>
<text x="633.30" y="192.87" font-size="8.1" text-anchor="middle" fill="#222" stroke="#222" font-weight="normal" font-style="normal" >TACSTD2</text>
<text x="633.30" y="203.92" font-size="8.1" text-anchor="middle" fill="#222" stroke="#222" font-weight="normal" font-style="normal" >CLDN4</text>
<line x1="436.20" y1="181.46" x2="656.60" y2="181.46" stroke="#555" stroke-width="1" stroke-dasharray="9.5 3.2" stroke-dashoffset="-2"/>
<text x="0.90" y="265.50" font-size="16" text-anchor="start" fill="#000" stroke="#000" font-weight="bold" font-style="normal" >b</text>
<rect x="186.50" y="288.38" width="8.00" height="47.23" fill="#f1dd72" />
<text x="0" y="0" font-size="8.8" font-weight="bold" fill="#111" stroke="#111" text-anchor="middle" transform="translate(186.9,310.69) rotate(90)">MP 1</text>
<rect x="186.50" y="335.61" width="8.00" height="56.68" fill="#a3cc6b" />
<text x="0" y="0" font-size="8.8" font-weight="bold" fill="#111" stroke="#111" text-anchor="middle" transform="translate(186.9,362.65) rotate(90)">MP 2</text>
<rect x="186.50" y="392.29" width="8.00" height="47.23" fill="#ee8c45" />
<text x="0" y="0" font-size="8.8" font-weight="bold" fill="#111" stroke="#111" text-anchor="middle" transform="translate(186.9,414.61) rotate(90)">MP 3</text>
<rect x="186.50" y="439.53" width="8.00" height="47.23" fill="#a8cce2" />
<text x="0" y="0" font-size="8.8" font-weight="bold" fill="#111" stroke="#111" text-anchor="middle" transform="translate(186.9,461.85) rotate(90)">MP 4</text>
<rect x="186.50" y="486.76" width="8.00" height="56.68" fill="#d8262b" />
<text x="0" y="0" font-size="8.8" font-weight="bold" fill="#111" stroke="#111" text-anchor="middle" transform="translate(186.9,513.80) rotate(90)">MP 5</text>
<rect x="186.50" y="543.45" width="8.00" height="47.23" fill="#bb88c2" />
<text x="0" y="0" font-size="8.8" font-weight="bold" fill="#111" stroke="#111" text-anchor="middle" transform="translate(186.9,565.76) rotate(90)">MP 6</text>
<rect x="186.50" y="590.68" width="8.00" height="47.23" fill="#a65a2a" />
<text x="0" y="0" font-size="8.8" font-weight="bold" fill="#111" stroke="#111" text-anchor="middle" transform="translate(186.9,613.00) rotate(90)">MP 7</text>
<text x="181.30" y="296.08" font-size="8.27" text-anchor="end" fill="#e8212b" stroke="#e8212b" font-weight="normal" font-style="normal" >nuclear division</text>
<line x1="205.50" y1="293.10" x2="286.70" y2="293.10" stroke="#f0da78" stroke-width="1.0" />
<text x="181.30" y="305.52" font-size="8.27" text-anchor="end" fill="#1a1a1a" stroke="#1a1a1a" font-weight="normal" font-style="normal" >nuclear chromosome segregation</text>
<line x1="205.50" y1="302.55" x2="286.50" y2="302.55" stroke="#f0da78" stroke-width="1.0" />
<text x="181.30" y="314.97" font-size="8.27" text-anchor="end" fill="#1a1a1a" stroke="#1a1a1a" font-weight="normal" font-style="normal" >organelle fission</text>
<line x1="205.50" y1="311.99" x2="284.40" y2="311.99" stroke="#f0da78" stroke-width="1.0" />
<text x="181.30" y="324.42" font-size="8.27" text-anchor="end" fill="#1a1a1a" stroke="#1a1a1a" font-weight="normal" font-style="normal" >chromosome segregation</text>
<line x1="205.50" y1="321.44" x2="284.40" y2="321.44" stroke="#f0da78" stroke-width="1.0" />
<text x="181.30" y="333.87" font-size="8.27" text-anchor="end" fill="#1a1a1a" stroke="#1a1a1a" font-weight="normal" font-style="normal" >mitotic nuclear division</text>
<line x1="205.50" y1="330.89" x2="274.00" y2="330.89" stroke="#f0da78" stroke-width="1.0" />
<text x="181.30" y="343.31" font-size="8.27" text-anchor="end" fill="#e8212b" stroke="#e8212b" font-weight="normal" font-style="normal" >DNA replication</text>
<line x1="205.50" y1="340.34" x2="268.80" y2="340.34" stroke="#acd283" stroke-width="1.0" />
<text x="181.30" y="352.76" font-size="8.27" text-anchor="end" fill="#1a1a1a" stroke="#1a1a1a" font-weight="normal" font-style="normal" >DNA−templated DNA replication</text>
<line x1="205.50" y1="349.78" x2="246.40" y2="349.78" stroke="#acd283" stroke-width="1.0" />
<text x="181.30" y="362.21" font-size="8.27" text-anchor="end" fill="#e8212b" stroke="#e8212b" font-weight="normal" font-style="normal" >cell cycle DNA replication</text>
<line x1="205.50" y1="359.23" x2="236.00" y2="359.23" stroke="#acd283" stroke-width="1.0" />
<text x="181.30" y="371.65" font-size="8.27" text-anchor="end" fill="#1a1a1a" stroke="#1a1a1a" font-weight="normal" font-style="normal" >DNA replication initiation</text>
<line x1="205.50" y1="368.68" x2="232.80" y2="368.68" stroke="#acd283" stroke-width="1.0" />
<text x="181.30" y="381.10" font-size="8.27" text-anchor="end" fill="#1a1a1a" stroke="#1a1a1a" font-weight="normal" font-style="normal" >nuclear DNA replication</text>
<line x1="205.50" y1="378.12" x2="232.80" y2="378.12" stroke="#acd283" stroke-width="1.0" />
<text x="181.30" y="390.55" font-size="8.27" text-anchor="end" fill="#1a1a1a" stroke="#1a1a1a" font-weight="normal" font-style="normal" >DNA unwinding involved in DNA replication</text>
<line x1="205.50" y1="387.57" x2="232.80" y2="387.57" stroke="#acd283" stroke-width="1.0" />
<text x="181.30" y="399.99" font-size="8.27" text-anchor="end" fill="#1a1a1a" stroke="#1a1a1a" font-weight="normal" font-style="normal" >defense response to virus</text>
<line x1="205.50" y1="397.02" x2="265.80" y2="397.02" stroke="#ef9452" stroke-width="1.0" />
<text x="181.30" y="409.44" font-size="8.27" text-anchor="end" fill="#1a1a1a" stroke="#1a1a1a" font-weight="normal" font-style="normal" >defense response to symbiont</text>
<line x1="205.50" y1="406.46" x2="265.80" y2="406.46" stroke="#ef9452" stroke-width="1.0" />
<text x="181.30" y="418.89" font-size="8.27" text-anchor="end" fill="#1a1a1a" stroke="#1a1a1a" font-weight="normal" font-style="normal" >response to virus</text>
<line x1="205.50" y1="415.91" x2="263.50" y2="415.91" stroke="#ef9452" stroke-width="1.0" />
<text x="181.30" y="428.34" font-size="8.27" text-anchor="end" fill="#1a1a1a" stroke="#1a1a1a" font-weight="normal" font-style="normal" >negative regulation of viral process</text>
<line x1="205.50" y1="425.36" x2="252.70" y2="425.36" stroke="#ef9452" stroke-width="1.0" />
<text x="181.30" y="437.78" font-size="8.27" text-anchor="end" fill="#1a1a1a" stroke="#1a1a1a" font-weight="normal" font-style="normal" >negative regulation of viral genome replication</text>
<line x1="205.50" y1="434.81" x2="249.80" y2="434.81" stroke="#ef9452" stroke-width="1.0" />
<text x="181.30" y="447.23" font-size="8.27" text-anchor="end" fill="#1a1a1a" stroke="#1a1a1a" font-weight="normal" font-style="normal" >collagen fibril organization</text>
<line x1="205.50" y1="444.25" x2="231.20" y2="444.25" stroke="#a8cae2" stroke-width="1.0" />
<text x="181.30" y="456.68" font-size="8.27" text-anchor="end" fill="#e8212b" stroke="#e8212b" font-weight="normal" font-style="normal" >extracellular matrix organization</text>
<line x1="205.50" y1="453.70" x2="230.30" y2="453.70" stroke="#a8cae2" stroke-width="1.0" />
<text x="181.30" y="466.12" font-size="8.27" text-anchor="end" fill="#e8212b" stroke="#e8212b" font-weight="normal" font-style="normal" >extracellular structure organization</text>
<line x1="205.50" y1="463.15" x2="230.30" y2="463.15" stroke="#a8cae2" stroke-width="1.0" />
<text x="181.30" y="475.57" font-size="8.27" text-anchor="end" fill="#1a1a1a" stroke="#1a1a1a" font-weight="normal" font-style="normal" >external encapsulating structure organization</text>
<line x1="205.50" y1="472.59" x2="230.30" y2="472.59" stroke="#a8cae2" stroke-width="1.0" />
<text x="181.30" y="485.02" font-size="8.27" text-anchor="end" fill="#1a1a1a" stroke="#1a1a1a" font-weight="normal" font-style="normal" >collagen metabolic process</text>
<line x1="205.50" y1="482.04" x2="223.70" y2="482.04" stroke="#a8cae2" stroke-width="1.0" />
<text x="181.30" y="494.46" font-size="8.27" text-anchor="end" fill="#1a1a1a" stroke="#1a1a1a" font-weight="normal" font-style="normal" >regulation of miRNA metabolic process</text>
<line x1="205.50" y1="491.49" x2="216.00" y2="491.49" stroke="#d8383a" stroke-width="1.0" />
<text x="181.30" y="503.91" font-size="8.27" text-anchor="end" fill="#1a1a1a" stroke="#1a1a1a" font-weight="normal" font-style="normal" >miRNA metabolic process</text>
<line x1="205.50" y1="500.93" x2="215.50" y2="500.93" stroke="#d8383a" stroke-width="1.0" />
<text x="181.30" y="513.36" font-size="8.27" text-anchor="end" fill="#1a1a1a" stroke="#1a1a1a" font-weight="normal" font-style="normal" >positive regulation of miRNA metabolic process</text>
<line x1="205.50" y1="510.38" x2="214.90" y2="510.38" stroke="#d8383a" stroke-width="1.0" />
<text x="181.30" y="522.81" font-size="8.27" text-anchor="end" fill="#1a1a1a" stroke="#1a1a1a" font-weight="normal" font-style="normal" >cellular response to salt</text>
<line x1="205.50" y1="519.83" x2="215.10" y2="519.83" stroke="#d8383a" stroke-width="1.0" />
<text x="181.30" y="532.25" font-size="8.27" text-anchor="end" fill="#1a1a1a" stroke="#1a1a1a" font-weight="normal" font-style="normal" >regulation of miRNA transcription</text>
<line x1="205.50" y1="529.27" x2="215.10" y2="529.27" stroke="#d8383a" stroke-width="1.0" />
<text x="181.30" y="541.70" font-size="8.27" text-anchor="end" fill="#1a1a1a" stroke="#1a1a1a" font-weight="normal" font-style="normal" >miRNA transcription</text>
<line x1="205.50" y1="538.72" x2="215.00" y2="538.72" stroke="#d8383a" stroke-width="1.0" />
<text x="181.30" y="551.15" font-size="8.27" text-anchor="end" fill="#1a1a1a" stroke="#1a1a1a" font-weight="normal" font-style="normal" >response to hypoxia</text>
<line x1="205.50" y1="548.17" x2="236.90" y2="548.17" stroke="#bf8dc6" stroke-width="1.0" />
<text x="181.30" y="560.59" font-size="8.27" text-anchor="end" fill="#e8212b" stroke="#e8212b" font-weight="normal" font-style="normal" >response to decreased oxygen levels</text>
<line x1="205.50" y1="557.62" x2="236.90" y2="557.62" stroke="#bf8dc6" stroke-width="1.0" />
<text x="181.30" y="570.04" font-size="8.27" text-anchor="end" fill="#1a1a1a" stroke="#1a1a1a" font-weight="normal" font-style="normal" >response to oxygen levels</text>
<line x1="205.50" y1="567.06" x2="236.20" y2="567.06" stroke="#bf8dc6" stroke-width="1.0" />
<text x="181.30" y="579.49" font-size="8.27" text-anchor="end" fill="#e8212b" stroke="#e8212b" font-weight="normal" font-style="normal" >cellular response to hypoxia</text>
<line x1="205.50" y1="576.51" x2="230.70" y2="576.51" stroke="#bf8dc6" stroke-width="1.0" />
<text x="181.30" y="588.93" font-size="8.27" text-anchor="end" fill="#e8212b" stroke="#e8212b" font-weight="normal" font-style="normal" >cellular response to decreased oxygen levels</text>
<line x1="205.50" y1="585.96" x2="230.30" y2="585.96" stroke="#bf8dc6" stroke-width="1.0" />
<text x="181.30" y="598.38" font-size="8.27" text-anchor="end" fill="#1a1a1a" stroke="#1a1a1a" font-weight="normal" font-style="normal" >intermediate filament organization</text>
<line x1="205.50" y1="595.40" x2="211.30" y2="595.40" stroke="#b0683a" stroke-width="1.0" />
<text x="181.30" y="607.83" font-size="8.27" text-anchor="end" fill="#1a1a1a" stroke="#1a1a1a" font-weight="normal" font-style="normal" >keratinocyte differentiation</text>
<line x1="205.50" y1="604.85" x2="211.30" y2="604.85" stroke="#b0683a" stroke-width="1.0" />
<text x="181.30" y="617.28" font-size="8.27" text-anchor="end" fill="#1a1a1a" stroke="#1a1a1a" font-weight="normal" font-style="normal" >skin development</text>
<line x1="205.50" y1="614.30" x2="211.30" y2="614.30" stroke="#b0683a" stroke-width="1.0" />
<text x="181.30" y="626.72" font-size="8.27" text-anchor="end" fill="#1a1a1a" stroke="#1a1a1a" font-weight="normal" font-style="normal" >intermediate filament cytoskeleton organization</text>
<line x1="205.50" y1="623.75" x2="211.30" y2="623.75" stroke="#b0683a" stroke-width="1.0" />
<text x="181.30" y="636.17" font-size="8.27" text-anchor="end" fill="#1a1a1a" stroke="#1a1a1a" font-weight="normal" font-style="normal" >intermediate filament−based process</text>
<line x1="205.50" y1="633.19" x2="211.30" y2="633.19" stroke="#b0683a" stroke-width="1.0" />
<circle cx="286.70" cy="293.10" r="5.70" fill="#000" />
<circle cx="286.50" cy="302.55" r="5.70" fill="#000" />
<circle cx="284.40" cy="311.99" r="5.70" fill="#000" />
<circle cx="284.40" cy="321.44" r="5.70" fill="#000" />
<circle cx="274.00" cy="330.89" r="5.20" fill="#000" />
<circle cx="268.80" cy="340.34" r="5.20" fill="#000" />
<circle cx="246.40" cy="349.78" r="4.20" fill="#000" />
<circle cx="236.00" cy="359.23" r="3.40" fill="#000" />
<circle cx="232.80" cy="368.68" r="3.00" fill="#000" />
<circle cx="232.80" cy="378.12" r="3.00" fill="#000" />
<circle cx="232.80" cy="387.57" r="3.00" fill="#000" />
<circle cx="265.80" cy="397.02" r="5.10" fill="#000" />
<circle cx="265.80" cy="406.46" r="5.10" fill="#000" />
<circle cx="263.50" cy="415.91" r="5.50" fill="#000" />
<circle cx="252.70" cy="425.36" r="4.30" fill="#000" />
<circle cx="249.80" cy="434.81" r="4.00" fill="#000" />
<circle cx="231.20" cy="444.25" r="3.60" fill="#000" />
<circle cx="230.30" cy="453.70" r="4.20" fill="#000" />
<circle cx="230.30" cy="463.15" r="4.20" fill="#000" />
<circle cx="230.30" cy="472.59" r="4.20" fill="#000" />
<circle cx="223.70" cy="482.04" r="3.40" fill="#000" />
<circle cx="216.00" cy="491.49" r="2.60" fill="#000" />
<circle cx="215.50" cy="500.93" r="2.70" fill="#000" />
<circle cx="214.90" cy="510.38" r="2.40" fill="#000" />
<circle cx="215.10" cy="519.83" r="2.60" fill="#000" />
<circle cx="215.10" cy="529.27" r="2.40" fill="#000" />
<circle cx="215.00" cy="538.72" r="2.40" fill="#000" />
<circle cx="236.90" cy="548.17" r="4.40" fill="#000" />
<circle cx="236.90" cy="557.62" r="4.40" fill="#000" />
<circle cx="236.20" cy="567.06" r="4.40" fill="#000" />
<circle cx="230.70" cy="576.51" r="3.70" fill="#000" />
<circle cx="230.30" cy="585.96" r="3.70" fill="#000" />
<circle cx="211.30" cy="595.40" r="1.60" fill="#000" />
<circle cx="211.30" cy="604.85" r="2.30" fill="#000" />
<circle cx="211.30" cy="614.30" r="2.30" fill="#000" />
<circle cx="211.30" cy="623.75" r="1.60" fill="#000" />
<circle cx="211.30" cy="633.19" r="1.60" fill="#000" />
<line x1="205.50" y1="287.30" x2="205.50" y2="638.80" stroke="#222" stroke-width="0.9" />
<line x1="205.10" y1="287.30" x2="305.50" y2="287.30" stroke="#222" stroke-width="0.9" />
<line x1="205.50" y1="284.60" x2="205.50" y2="287.30" stroke="#222" stroke-width="0.9" />
<text x="205.50" y="283.45" font-size="8.2" text-anchor="middle" fill="#1a1a1a" stroke="#1a1a1a" font-weight="normal" font-style="normal" >0</text>
<line x1="229.40" y1="284.60" x2="229.40" y2="287.30" stroke="#222" stroke-width="0.9" />
<text x="229.40" y="283.45" font-size="8.2" text-anchor="middle" fill="#1a1a1a" stroke="#1a1a1a" font-weight="normal" font-style="normal" >10</text>
<line x1="253.30" y1="284.60" x2="253.30" y2="287.30" stroke="#222" stroke-width="0.9" />
<text x="253.30" y="283.45" font-size="8.2" text-anchor="middle" fill="#1a1a1a" stroke="#1a1a1a" font-weight="normal" font-style="normal" >20</text>
<line x1="277.20" y1="284.60" x2="277.20" y2="287.30" stroke="#222" stroke-width="0.9" />
<text x="277.20" y="283.45" font-size="8.2" text-anchor="middle" fill="#1a1a1a" stroke="#1a1a1a" font-weight="normal" font-style="normal" >30</text>
<line x1="301.10" y1="284.60" x2="301.10" y2="287.30" stroke="#222" stroke-width="0.9" />
<text x="301.10" y="283.45" font-size="8.2" text-anchor="middle" fill="#1a1a1a" stroke="#1a1a1a" font-weight="normal" font-style="normal" >40</text>
<text x="260.00" y="267.15" font-size="8.2" text-anchor="middle" fill="#1a1a1a" stroke="#1a1a1a" font-weight="normal" font-style="normal" >−log10(qvalue)</text>
<text x="262.00" y="590.25" font-size="8.2" text-anchor="start" fill="#1a1a1a" stroke="#1a1a1a" font-weight="normal" font-style="normal" >All count</text>
<circle cx="268.60" cy="602.70" r="3.40" fill="#000" />
<text x="280.40" y="605.65" font-size="8.2" text-anchor="start" fill="#1a1a1a" stroke="#1a1a1a" font-weight="normal" font-style="normal" >10</text>
<circle cx="268.60" cy="616.70" r="5.00" fill="#000" />
<text x="280.40" y="619.65" font-size="8.2" text-anchor="start" fill="#1a1a1a" stroke="#1a1a1a" font-weight="normal" font-style="normal" >20</text>
<circle cx="268.60" cy="630.80" r="6.10" fill="#000" />
<text x="280.40" y="633.75" font-size="8.2" text-anchor="start" fill="#1a1a1a" stroke="#1a1a1a" font-weight="normal" font-style="normal" >30</text>
<text x="324.40" y="265.20" font-size="16" text-anchor="start" fill="#000" stroke="#000" font-weight="bold" font-style="normal" >c</text>
<text x="370.8" y="272.95" font-size="8.2" fill="#1a1a1a" stroke="#1a1a1a"><tspan font-style="italic">P</tspan> value</text>
<text x="405.70" y="272.95" font-size="8.2" text-anchor="start" fill="#1a1a1a" stroke="#1a1a1a" font-weight="normal" font-style="normal" >HR (95% CI)</text>
<line x1="567.60" y1="268.30" x2="567.60" y2="431.80" stroke="#333" stroke-width="1.0" stroke-dasharray="8 10.5"/>
<text x="343.10" y="293.15" font-size="8.2" text-anchor="start" fill="#1a1a1a" stroke="#1a1a1a" font-weight="normal" font-style="normal" >MP1</text>
<text x="372.00" y="293.15" font-size="8.2" text-anchor="start" fill="#1a1a1a" stroke="#1a1a1a" font-weight="normal" font-style="normal" >0.222</text>
<text x="399.60" y="293.15" font-size="8.2" text-anchor="start" fill="#1a1a1a" stroke="#1a1a1a" font-weight="normal" font-style="normal" >0.834 (0.624−1.116)</text>
<line x1="541.02" y1="290.20" x2="575.80" y2="290.20" stroke="#3b3fae" stroke-width="1.1" />
<line x1="541.02" y1="286.80" x2="541.02" y2="293.60" stroke="#3b3fae" stroke-width="1.1" />
<line x1="575.80" y1="286.80" x2="575.80" y2="293.60" stroke="#3b3fae" stroke-width="1.1" />
<circle cx="555.86" cy="290.20" r="3.30" fill="#1c1f86" />
<text x="343.10" y="315.82" font-size="8.2" text-anchor="start" fill="#1a1a1a" stroke="#1a1a1a" font-weight="normal" font-style="normal" >MP2</text>
<text x="372.00" y="315.82" font-size="8.2" text-anchor="start" fill="#1a1a1a" stroke="#1a1a1a" font-weight="normal" font-style="normal" >0.023</text>
<text x="399.60" y="315.82" font-size="8.2" text-anchor="start" fill="#1a1a1a" stroke="#1a1a1a" font-weight="normal" font-style="normal" >0.584 (0.368−0.929)</text>
<line x1="522.92" y1="312.87" x2="562.58" y2="312.87" stroke="#3b3fae" stroke-width="1.1" />
<line x1="522.92" y1="309.47" x2="522.92" y2="316.27" stroke="#3b3fae" stroke-width="1.1" />
<line x1="562.58" y1="309.47" x2="562.58" y2="316.27" stroke="#3b3fae" stroke-width="1.1" />
<circle cx="538.19" cy="312.87" r="3.30" fill="#1c1f86" />
<text x="343.10" y="338.49" font-size="8.2" text-anchor="start" fill="#1a1a1a" stroke="#1a1a1a" font-weight="normal" font-style="normal" >MP3</text>
<text x="372.00" y="338.49" font-size="8.2" text-anchor="start" fill="#1a1a1a" stroke="#1a1a1a" font-weight="normal" font-style="normal" >0.013</text>
<text x="399.60" y="338.49" font-size="8.2" text-anchor="start" fill="#1a1a1a" stroke="#1a1a1a" font-weight="normal" font-style="normal" >0.641 (0.452−0.910)</text>
<line x1="528.86" y1="335.54" x2="561.24" y2="335.54" stroke="#3b3fae" stroke-width="1.1" />
<line x1="528.86" y1="332.14" x2="528.86" y2="338.94" stroke="#3b3fae" stroke-width="1.1" />
<line x1="561.24" y1="332.14" x2="561.24" y2="338.94" stroke="#3b3fae" stroke-width="1.1" />
<circle cx="542.22" cy="335.54" r="3.30" fill="#1c1f86" />
<text x="343.10" y="361.16" font-size="8.2" text-anchor="start" fill="#1a1a1a" stroke="#1a1a1a" font-weight="normal" font-style="normal" >MP4</text>
<text x="372.00" y="361.16" font-size="8.2" text-anchor="start" fill="#1a1a1a" stroke="#1a1a1a" font-weight="normal" font-style="normal" >0.011</text>
<text x="399.60" y="361.16" font-size="8.2" text-anchor="start" fill="#1a1a1a" stroke="#1a1a1a" font-weight="normal" font-style="normal" >1.640 (1.123−2.396)</text>
<line x1="576.30" y1="358.21" x2="666.30" y2="358.21" stroke="#3b3fae" stroke-width="1.1" />
<line x1="576.30" y1="354.81" x2="576.30" y2="361.61" stroke="#3b3fae" stroke-width="1.1" />
<line x1="666.30" y1="354.81" x2="666.30" y2="361.61" stroke="#3b3fae" stroke-width="1.1" />
<circle cx="612.85" cy="358.21" r="3.30" fill="#ec1c24" />
<text x="343.10" y="383.83" font-size="8.2" text-anchor="start" fill="#1a1a1a" stroke="#1a1a1a" font-weight="normal" font-style="normal" >MP5</text>
<text x="372.00" y="383.83" font-size="8.2" text-anchor="start" fill="#1a1a1a" stroke="#1a1a1a" font-weight="normal" font-style="normal" >0.132</text>
<text x="399.60" y="383.83" font-size="8.2" text-anchor="start" fill="#1a1a1a" stroke="#1a1a1a" font-weight="normal" font-style="normal" >1.238 (0.937−1.636)</text>
<line x1="563.15" y1="380.88" x2="612.57" y2="380.88" stroke="#3b3fae" stroke-width="1.1" />
<line x1="563.15" y1="377.48" x2="563.15" y2="384.28" stroke="#3b3fae" stroke-width="1.1" />
<line x1="612.57" y1="377.48" x2="612.57" y2="384.28" stroke="#3b3fae" stroke-width="1.1" />
<circle cx="584.43" cy="380.88" r="3.30" fill="#ec1c24" />
<text x="343.10" y="406.50" font-size="8.2" text-anchor="start" fill="#1a1a1a" stroke="#1a1a1a" font-weight="normal" font-style="normal" >MP6</text>
<text x="372.00" y="406.50" font-size="8.2" text-anchor="start" fill="#1a1a1a" stroke="#1a1a1a" font-weight="normal" font-style="normal" >0.036</text>
<text x="399.60" y="406.50" font-size="8.2" text-anchor="start" fill="#1a1a1a" stroke="#1a1a1a" font-weight="normal" font-style="normal" >1.534 (1.029−2.287)</text>
<line x1="569.65" y1="403.55" x2="658.59" y2="403.55" stroke="#3b3fae" stroke-width="1.1" />
<line x1="569.65" y1="400.15" x2="569.65" y2="406.95" stroke="#3b3fae" stroke-width="1.1" />
<line x1="658.59" y1="400.15" x2="658.59" y2="406.95" stroke="#3b3fae" stroke-width="1.1" />
<circle cx="605.35" cy="403.55" r="3.30" fill="#ec1c24" />
<text x="343.10" y="429.17" font-size="8.2" text-anchor="start" fill="#1a1a1a" stroke="#1a1a1a" font-weight="normal" font-style="normal" >MP7</text>
<text x="372.00" y="429.17" font-size="8.2" text-anchor="start" fill="#1a1a1a" stroke="#1a1a1a" font-weight="normal" font-style="normal" >0.014</text>
<text x="399.60" y="429.17" font-size="8.2" text-anchor="start" fill="#1a1a1a" stroke="#1a1a1a" font-weight="normal" font-style="normal" >1.460 (1.078−1.977)</text>
<line x1="573.11" y1="426.22" x2="636.67" y2="426.22" stroke="#3b3fae" stroke-width="1.1" />
<line x1="573.11" y1="422.82" x2="573.11" y2="429.62" stroke="#3b3fae" stroke-width="1.1" />
<line x1="636.67" y1="422.82" x2="636.67" y2="429.62" stroke="#3b3fae" stroke-width="1.1" />
<circle cx="600.12" cy="426.22" r="3.30" fill="#ec1c24" />
<line x1="496.40" y1="431.80" x2="638.80" y2="431.80" stroke="#222" stroke-width="1.0" />
<line x1="496.90" y1="431.80" x2="496.90" y2="435.80" stroke="#222" stroke-width="1.0" />
<text x="496.90" y="447.25" font-size="8.2" text-anchor="middle" fill="#1a1a1a" stroke="#1a1a1a" font-weight="normal" font-style="normal" >0.0</text>
<line x1="532.25" y1="431.80" x2="532.25" y2="435.80" stroke="#222" stroke-width="1.0" />
<text x="532.25" y="447.25" font-size="8.2" text-anchor="middle" fill="#1a1a1a" stroke="#1a1a1a" font-weight="normal" font-style="normal" >0.5</text>
<line x1="567.60" y1="431.80" x2="567.60" y2="435.80" stroke="#222" stroke-width="1.0" />
<text x="567.60" y="447.25" font-size="8.2" text-anchor="middle" fill="#1a1a1a" stroke="#1a1a1a" font-weight="normal" font-style="normal" >1.0</text>
<line x1="602.95" y1="431.80" x2="602.95" y2="435.80" stroke="#222" stroke-width="1.0" />
<text x="602.95" y="447.25" font-size="8.2" text-anchor="middle" fill="#1a1a1a" stroke="#1a1a1a" font-weight="normal" font-style="normal" >1.5</text>
<line x1="638.30" y1="431.80" x2="638.30" y2="435.80" stroke="#222" stroke-width="1.0" />
<text x="638.30" y="447.25" font-size="8.2" text-anchor="middle" fill="#1a1a1a" stroke="#1a1a1a" font-weight="normal" font-style="normal" >2.0</text>
<text x="323.60" y="482.80" font-size="16" text-anchor="start" fill="#000" stroke="#000" font-weight="bold" font-style="normal" >d</text>
<line x1="344.40" y1="494.80" x2="344.40" y2="599.40" stroke="#222" stroke-width="0.9" />
<line x1="343.95" y1="599.40" x2="430.10" y2="599.40" stroke="#222" stroke-width="0.9" />
<line x1="341.90" y1="510.09" x2="344.40" y2="510.09" stroke="#222" stroke-width="0.8" />
<text x="340.80" y="513.04" font-size="8.2" text-anchor="end" fill="#333" stroke="#333" font-weight="normal" font-style="normal" >1.5</text>
<line x1="341.90" y1="535.36" x2="344.40" y2="535.36" stroke="#222" stroke-width="0.8" />
<text x="340.80" y="538.31" font-size="8.2" text-anchor="end" fill="#333" stroke="#333" font-weight="normal" font-style="normal" >1.0</text>
<line x1="341.90" y1="560.63" x2="344.40" y2="560.63" stroke="#222" stroke-width="0.8" />
<text x="340.80" y="563.58" font-size="8.2" text-anchor="end" fill="#333" stroke="#333" font-weight="normal" font-style="normal" >0.5</text>
<line x1="341.90" y1="585.90" x2="344.40" y2="585.90" stroke="#222" stroke-width="0.8" />
<text x="340.80" y="588.85" font-size="8.2" text-anchor="end" fill="#333" stroke="#333" font-weight="normal" font-style="normal" >0.0</text>
<line x1="360.70" y1="599.40" x2="360.70" y2="601.40" stroke="#222" stroke-width="0.8" />
<text x="0" y="0" font-size="8.2" fill="#1a1a1a" stroke="#1a1a1a" text-anchor="end" transform="translate(363.90,607.20) rotate(-35)">EAT</text>
<line x1="387.70" y1="599.40" x2="387.70" y2="601.40" stroke="#222" stroke-width="0.8" />
<text x="0" y="0" font-size="8.2" fill="#1a1a1a" stroke="#1a1a1a" text-anchor="end" transform="translate(390.90,607.20) rotate(-35)">LAT</text>
<line x1="414.60" y1="599.40" x2="414.60" y2="601.40" stroke="#222" stroke-width="0.8" />
<text x="0" y="0" font-size="8.2" fill="#1a1a1a" stroke="#1a1a1a" text-anchor="end" transform="translate(417.80,607.20) rotate(-35)">Met</text>
<text x="392.90" y="484.85" font-size="8.2" text-anchor="middle" fill="#1a1a1a" stroke="#1a1a1a" font-weight="normal" font-style="normal" >MP6 signature</text>
<path d="M360.6,529.0L360.4,529.7L360.4,530.4L360.4,531.1L360.4,531.8L360.4,532.5L360.4,533.2L360.4,533.9L360.4,534.6L360.4,535.3L360.4,536.0L360.4,536.7L360.4,537.4L360.4,538.1L360.4,538.8L360.4,539.5L360.4,540.2L360.4,540.9L360.4,541.6L360.4,542.3L360.4,543.0L360.4,543.7L360.4,544.4L360.4,545.1L360.4,545.8L360.4,546.5L360.4,547.2L360.4,547.9L360.4,548.6L360.4,549.3L360.4,550.0L360.4,550.7L360.4,551.4L360.4,552.1L360.4,552.8L360.4,553.5L360.4,554.2L360.4,554.9L360.4,555.6L360.4,556.3L360.4,557.0L360.4,557.7L360.4,558.4L360.4,559.1L360.4,559.8L360.4,560.5L360.4,561.2L360.4,561.9L360.4,562.6L360.4,563.3L360.4,564.0L360.4,564.7L360.3,565.4L360.1,566.1L359.9,566.8L359.6,567.5L359.3,568.2L358.8,568.9L358.3,569.6L357.6,570.3L356.9,571.0L356.1,571.7L355.3,572.4L354.5,573.1L353.9,573.8L353.4,574.5L353.3,575.2L353.7,575.9L354.3,576.6L355.1,577.3L355.9,578.0L356.7,578.7L357.5,579.4L358.2,580.1L358.8,580.8L359.3,581.5L359.6,582.2L359.9,582.9L360.1,583.6L360.3,584.3L360.4,585.0L360.4,585.7L360.4,586.4L360.4,587.1L360.4,587.8L360.4,588.5L360.4,589.2L360.4,589.9L360.4,590.6L360.4,591.3L360.4,592.0L360.4,592.7L360.4,593.4L360.5,594.1L360.7,594.1L360.9,593.4L360.9,592.7L360.9,592.0L360.9,591.3L360.9,590.6L360.9,589.9L360.9,589.2L360.9,588.5L360.9,587.8L360.9,587.1L360.9,586.4L360.9,585.7L360.9,585.0L360.9,584.3L361.1,583.6L361.3,582.9L361.6,582.2L361.9,581.5L362.4,580.8L363.0,580.1L363.7,579.4L364.5,578.7L365.3,578.0L366.1,577.3L366.9,576.6L367.5,575.9L367.9,575.2L367.8,574.5L367.3,573.8L366.7,573.1L365.9,572.4L365.1,571.7L364.3,571.0L363.6,570.3L362.9,569.6L362.4,568.9L361.9,568.2L361.6,567.5L361.3,566.8L361.1,566.1L360.9,565.4L360.9,564.7L360.9,564.0L360.9,563.3L360.9,562.6L360.9,561.9L360.9,561.2L360.9,560.5L360.9,559.8L360.9,559.1L360.9,558.4L360.9,557.7L360.9,557.0L360.9,556.3L360.9,555.6L360.9,554.9L360.9,554.2L360.9,553.5L360.9,552.8L360.9,552.1L360.9,551.4L360.9,550.7L360.9,550.0L360.9,549.3L360.9,548.6L360.9,547.9L360.9,547.2L360.9,546.5L360.9,545.8L360.9,545.1L360.9,544.4L360.9,543.7L360.9,543.0L360.9,542.3L360.9,541.6L360.9,540.9L360.9,540.2L360.9,539.5L360.9,538.8L360.9,538.1L360.9,537.4L360.9,536.7L360.9,536.0L360.9,535.3L360.9,534.6L360.9,533.9L360.9,533.2L360.9,532.5L360.9,531.8L360.9,531.1L360.9,530.4L360.8,529.7L360.6,529.0Z" fill="#7a73c5" stroke="#111" stroke-width="0.75" stroke-linejoin="round"/>
<rect x="359.20" y="572.30" width="2.80" height="5.10" fill="#fff" stroke="#444" stroke-width="0.45"/>
<line x1="359.20" y1="575.00" x2="362.00" y2="575.00" stroke="#444" stroke-width="0.7" />
<path d="M387.6,521.0L387.4,521.7L387.4,522.4L387.4,523.1L387.4,523.8L387.4,524.5L387.4,525.2L387.4,525.9L387.4,526.6L387.4,527.3L387.4,528.0L387.4,528.7L387.4,529.4L387.4,530.1L387.4,530.8L387.4,531.5L387.4,532.2L387.4,532.9L387.4,533.6L387.4,534.3L387.4,535.0L387.4,535.7L387.4,536.4L387.4,537.1L387.4,537.8L387.4,538.5L387.4,539.2L387.4,539.9L387.4,540.6L387.4,541.3L387.4,542.0L387.4,542.7L387.4,543.4L387.4,544.1L387.4,544.8L387.4,545.5L387.4,546.2L387.4,546.9L387.4,547.6L387.4,548.3L387.4,549.0L387.4,549.7L387.4,550.4L387.4,551.1L387.4,551.8L387.4,552.5L387.4,553.2L387.4,553.9L387.4,554.6L387.4,555.3L387.4,556.0L387.3,556.7L387.2,557.4L387.1,558.1L387.0,558.8L386.9,559.5L386.7,560.2L386.5,560.9L386.2,561.6L385.9,562.3L385.6,563.0L385.2,563.7L384.8,564.4L384.3,565.1L383.9,565.8L383.4,566.5L382.9,567.2L382.4,567.9L381.9,568.6L381.4,569.3L381.0,570.0L380.7,570.7L380.4,571.4L380.3,572.1L380.3,572.8L380.5,573.5L380.8,574.2L381.3,574.9L382.0,575.6L382.7,576.3L383.4,577.0L384.2,577.7L384.9,578.4L385.5,579.1L386.1,579.8L386.5,580.5L386.9,581.2L387.1,581.9L387.3,582.6L387.4,583.3L387.4,584.0L387.4,584.7L387.4,585.4L387.4,586.1L387.4,586.8L387.4,587.5L387.4,588.2L387.4,588.9L387.4,589.6L387.4,590.3L387.5,591.0L387.7,591.0L387.9,590.3L387.9,589.6L387.9,588.9L387.9,588.2L387.9,587.5L387.9,586.8L387.9,586.1L387.9,585.4L387.9,584.7L387.9,584.0L387.9,583.3L387.9,582.6L388.1,581.9L388.3,581.2L388.7,580.5L389.1,579.8L389.7,579.1L390.3,578.4L391.0,577.7L391.8,577.0L392.5,576.3L393.2,575.6L393.9,574.9L394.4,574.2L394.7,573.5L394.9,572.8L394.9,572.1L394.8,571.4L394.5,570.7L394.2,570.0L393.8,569.3L393.3,568.6L392.8,567.9L392.3,567.2L391.8,566.5L391.3,565.8L390.9,565.1L390.4,564.4L390.0,563.7L389.6,563.0L389.3,562.3L389.0,561.6L388.7,560.9L388.5,560.2L388.3,559.5L388.2,558.8L388.1,558.1L388.0,557.4L387.9,556.7L387.9,556.0L387.9,555.3L387.9,554.6L387.9,553.9L387.9,553.2L387.9,552.5L387.9,551.8L387.9,551.1L387.9,550.4L387.9,549.7L387.9,549.0L387.9,548.3L387.9,547.6L387.9,546.9L387.9,546.2L387.9,545.5L387.9,544.8L387.9,544.1L387.9,543.4L387.9,542.7L387.9,542.0L387.9,541.3L387.9,540.6L387.9,539.9L387.9,539.2L387.9,538.5L387.9,537.8L387.9,537.1L387.9,536.4L387.9,535.7L387.9,535.0L387.9,534.3L387.9,533.6L387.9,532.9L387.9,532.2L387.9,531.5L387.9,530.8L387.9,530.1L387.9,529.4L387.9,528.7L387.9,528.0L387.9,527.3L387.9,526.6L387.9,525.9L387.9,525.2L387.9,524.5L387.9,523.8L387.9,523.1L387.9,522.4L387.8,521.7L387.6,521.0Z" fill="#6a4db8" stroke="#111" stroke-width="0.75" stroke-linejoin="round"/>
<rect x="385.90" y="567.40" width="3.40" height="7.60" fill="#fff" stroke="#444" stroke-width="0.45"/>
<line x1="385.90" y1="571.20" x2="389.30" y2="571.20" stroke="#444" stroke-width="0.7" />
<path d="M414.8,513.7L414.6,514.4L414.6,515.1L414.6,515.8L414.6,516.5L414.6,517.2L414.6,517.9L414.6,518.6L414.6,519.3L414.6,520.0L414.6,520.7L414.6,521.4L414.6,522.1L414.6,522.8L414.6,523.5L414.6,524.2L414.6,524.9L414.6,525.6L414.6,526.3L414.6,527.0L414.6,527.7L414.6,528.4L414.6,529.1L414.6,529.8L414.6,530.5L414.6,531.2L414.6,531.9L414.6,532.6L414.6,533.3L414.6,534.0L414.6,534.7L414.6,535.4L414.6,536.1L414.6,536.8L414.6,537.5L414.6,538.2L414.6,538.9L414.6,539.6L414.6,540.3L414.6,541.0L414.6,541.7L414.6,542.4L414.6,543.1L414.6,543.8L414.6,544.5L414.6,545.2L414.6,545.9L414.6,546.6L414.6,547.3L414.6,548.0L414.6,548.7L414.5,549.4L414.5,550.1L414.4,550.8L414.3,551.5L414.3,552.2L414.2,552.9L414.1,553.6L414.0,554.3L413.9,555.0L413.7,555.7L413.6,556.4L413.4,557.1L413.2,557.8L413.1,558.5L412.8,559.2L412.6,559.9L412.4,560.6L412.1,561.3L411.8,562.0L411.5,562.7L411.2,563.4L410.9,564.1L410.6,564.8L410.2,565.5L409.9,566.2L409.6,566.9L409.2,567.6L408.9,568.3L408.6,569.0L408.4,569.7L408.2,570.4L408.0,571.1L407.9,571.8L407.9,572.5L408.0,573.2L408.3,573.9L408.6,574.6L409.1,575.3L409.6,576.0L410.2,576.7L410.9,577.4L411.5,578.1L412.2,578.8L412.8,579.5L413.3,580.2L413.7,580.9L414.0,581.6L414.3,582.3L414.5,583.0L414.6,583.7L414.6,584.4L414.6,585.1L414.6,585.8L414.6,586.5L414.6,587.2L414.6,587.9L414.6,588.6L414.6,589.3L414.7,590.0L414.9,590.0L415.1,589.3L415.1,588.6L415.1,587.9L415.1,587.2L415.1,586.5L415.1,585.8L415.1,585.1L415.1,584.4L415.1,583.7L415.1,583.0L415.3,582.3L415.6,581.6L415.9,580.9L416.3,580.2L416.8,579.5L417.4,578.8L418.1,578.1L418.7,577.4L419.4,576.7L420.0,576.0L420.5,575.3L421.0,574.6L421.3,573.9L421.6,573.2L421.7,572.5L421.7,571.8L421.6,571.1L421.4,570.4L421.2,569.7L421.0,569.0L420.7,568.3L420.4,567.6L420.0,566.9L419.7,566.2L419.4,565.5L419.0,564.8L418.7,564.1L418.4,563.4L418.1,562.7L417.8,562.0L417.5,561.3L417.2,560.6L417.0,559.9L416.8,559.2L416.5,558.5L416.4,557.8L416.2,557.1L416.0,556.4L415.9,555.7L415.7,555.0L415.6,554.3L415.5,553.6L415.4,552.9L415.3,552.2L415.3,551.5L415.2,550.8L415.1,550.1L415.1,549.4L415.1,548.7L415.1,548.0L415.1,547.3L415.1,546.6L415.1,545.9L415.1,545.2L415.1,544.5L415.1,543.8L415.1,543.1L415.1,542.4L415.1,541.7L415.1,541.0L415.1,540.3L415.1,539.6L415.1,538.9L415.1,538.2L415.1,537.5L415.1,536.8L415.1,536.1L415.1,535.4L415.1,534.7L415.1,534.0L415.1,533.3L415.1,532.6L415.1,531.9L415.1,531.2L415.1,530.5L415.1,529.8L415.1,529.1L415.1,528.4L415.1,527.7L415.1,527.0L415.1,526.3L415.1,525.6L415.1,524.9L415.1,524.2L415.1,523.5L415.1,522.8L415.1,522.1L415.1,521.4L415.1,520.7L415.1,520.0L415.1,519.3L415.1,518.6L415.1,517.9L415.1,517.2L415.1,516.5L415.1,515.8L415.1,515.1L415.0,514.4L414.8,513.7Z" fill="#4c1c92" stroke="#111" stroke-width="0.75" stroke-linejoin="round"/>
<rect x="413.00" y="563.50" width="3.60" height="9.90" fill="#fff" stroke="#444" stroke-width="0.45"/>
<line x1="413.00" y1="568.40" x2="416.60" y2="568.40" stroke="#444" stroke-width="0.7" />
<path d="M360.70,511.40 L360.70,509.20 L387.70,509.20 L387.70,511.40" fill="none" stroke="#333" stroke-width="0.8"/>
<path d="M387.70,501.50 L387.70,499.30 L414.60,499.30 L414.60,501.50" fill="none" stroke="#333" stroke-width="0.8"/>
<text x="355.60" y="509.05" font-size="8.2" fill="#1a1a1a" stroke="#1a1a1a"><tspan font-style="italic">P</tspan> = 2.2×10<tspan font-size="4.6" dy="-3.1" style="stroke-width:0.05px">-16</tspan></text>
<text x="385.00" y="498.65" font-size="8.2" fill="#1a1a1a" stroke="#1a1a1a"><tspan font-style="italic">P</tspan> = 2.2×10<tspan font-size="4.6" dy="-3.1" style="stroke-width:0.05px">-16</tspan></text>
<line x1="459.50" y1="495.70" x2="459.50" y2="599.40" stroke="#222" stroke-width="0.9" />
<line x1="459.05" y1="599.40" x2="545.60" y2="599.40" stroke="#222" stroke-width="0.9" />
<line x1="457.00" y1="507.30" x2="459.50" y2="507.30" stroke="#222" stroke-width="0.8" />
<text x="455.90" y="510.25" font-size="8.2" text-anchor="end" fill="#333" stroke="#333" font-weight="normal" font-style="normal" >1.5</text>
<line x1="457.00" y1="531.50" x2="459.50" y2="531.50" stroke="#222" stroke-width="0.8" />
<text x="455.90" y="534.45" font-size="8.2" text-anchor="end" fill="#333" stroke="#333" font-weight="normal" font-style="normal" >1.0</text>
<line x1="457.00" y1="555.70" x2="459.50" y2="555.70" stroke="#222" stroke-width="0.8" />
<text x="455.90" y="558.65" font-size="8.2" text-anchor="end" fill="#333" stroke="#333" font-weight="normal" font-style="normal" >0.5</text>
<line x1="457.00" y1="579.90" x2="459.50" y2="579.90" stroke="#222" stroke-width="0.8" />
<text x="455.90" y="582.85" font-size="8.2" text-anchor="end" fill="#333" stroke="#333" font-weight="normal" font-style="normal" >0.0</text>
<line x1="475.70" y1="599.40" x2="475.70" y2="601.40" stroke="#222" stroke-width="0.8" />
<text x="0" y="0" font-size="8.2" fill="#1a1a1a" stroke="#1a1a1a" text-anchor="end" transform="translate(478.90,607.20) rotate(-35)">EAT</text>
<line x1="502.80" y1="599.40" x2="502.80" y2="601.40" stroke="#222" stroke-width="0.8" />
<text x="0" y="0" font-size="8.2" fill="#1a1a1a" stroke="#1a1a1a" text-anchor="end" transform="translate(506.00,607.20) rotate(-35)">LAT</text>
<line x1="529.80" y1="599.40" x2="529.80" y2="601.40" stroke="#222" stroke-width="0.8" />
<text x="0" y="0" font-size="8.2" fill="#1a1a1a" stroke="#1a1a1a" text-anchor="end" transform="translate(533.00,607.20) rotate(-35)">Met</text>
<text x="508.90" y="484.85" font-size="8.2" text-anchor="middle" fill="#1a1a1a" stroke="#1a1a1a" font-weight="normal" font-style="normal" >MP4 signature</text>
<path d="M475.6,513.7L475.4,514.4L475.4,515.1L475.4,515.8L475.4,516.5L475.4,517.2L475.4,517.9L475.4,518.6L475.4,519.3L475.4,520.0L475.4,520.7L475.4,521.4L475.4,522.1L475.4,522.8L475.4,523.5L475.4,524.2L475.4,524.9L475.4,525.6L475.4,526.3L475.4,527.0L475.4,527.7L475.4,528.4L475.4,529.1L475.4,529.8L475.4,530.5L475.4,531.2L475.4,531.9L475.4,532.6L475.4,533.3L475.4,534.0L475.4,534.7L475.4,535.4L475.4,536.1L475.4,536.8L475.4,537.5L475.4,538.2L475.4,538.9L475.4,539.6L475.4,540.3L475.4,541.0L475.4,541.7L475.4,542.4L475.4,543.1L475.4,543.8L475.4,544.5L475.4,545.2L475.4,545.9L475.4,546.6L475.4,547.3L475.4,548.0L475.4,548.7L475.4,549.4L475.4,550.1L475.4,550.8L475.4,551.5L475.4,552.2L475.4,552.9L475.4,553.6L475.4,554.3L475.4,555.0L475.4,555.7L475.4,556.4L475.4,557.1L475.4,557.8L475.4,558.5L475.4,559.2L475.4,559.9L475.4,560.6L475.4,561.3L475.4,562.0L475.4,562.7L475.4,563.4L475.4,564.1L475.4,564.8L475.4,565.5L475.4,566.2L475.4,566.9L475.4,567.6L475.4,568.3L475.4,569.0L475.4,569.7L475.4,570.4L475.4,571.1L475.4,571.8L475.4,572.5L475.4,573.2L475.4,573.9L475.4,574.6L475.4,575.3L475.4,576.0L475.4,576.7L475.4,577.4L475.4,578.1L475.4,578.8L475.4,579.5L475.4,580.2L475.1,580.9L474.8,581.6L474.2,582.3L473.3,583.0L472.2,583.7L471.0,584.4L469.8,585.1L468.9,585.8L468.3,586.5L468.3,587.2L469.2,587.9L470.8,588.6L472.4,589.3L473.8,590.0L474.7,590.7L475.2,591.4L475.5,592.1L475.7,592.1L476.0,591.4L476.5,590.7L477.4,590.0L478.8,589.3L480.4,588.6L482.0,587.9L482.9,587.2L482.9,586.5L482.3,585.8L481.4,585.1L480.2,584.4L479.0,583.7L477.9,583.0L477.0,582.3L476.4,581.6L476.1,580.9L475.9,580.2L475.9,579.5L475.9,578.8L475.9,578.1L475.9,577.4L475.9,576.7L475.9,576.0L475.9,575.3L475.9,574.6L475.9,573.9L475.9,573.2L475.9,572.5L475.9,571.8L475.9,571.1L475.9,570.4L475.9,569.7L475.9,569.0L475.9,568.3L475.9,567.6L475.9,566.9L475.9,566.2L475.9,565.5L475.9,564.8L475.9,564.1L475.9,563.4L475.9,562.7L475.9,562.0L475.9,561.3L475.9,560.6L475.9,559.9L475.9,559.2L475.9,558.5L475.9,557.8L475.9,557.1L475.9,556.4L475.9,555.7L475.9,555.0L475.9,554.3L475.9,553.6L475.9,552.9L475.9,552.2L475.9,551.5L475.9,550.8L475.9,550.1L475.9,549.4L475.9,548.7L475.9,548.0L475.9,547.3L475.9,546.6L475.9,545.9L475.9,545.2L475.9,544.5L475.9,543.8L475.9,543.1L475.9,542.4L475.9,541.7L475.9,541.0L475.9,540.3L475.9,539.6L475.9,538.9L475.9,538.2L475.9,537.5L475.9,536.8L475.9,536.1L475.9,535.4L475.9,534.7L475.9,534.0L475.9,533.3L475.9,532.6L475.9,531.9L475.9,531.2L475.9,530.5L475.9,529.8L475.9,529.1L475.9,528.4L475.9,527.7L475.9,527.0L475.9,526.3L475.9,525.6L475.9,524.9L475.9,524.2L475.9,523.5L475.9,522.8L475.9,522.1L475.9,521.4L475.9,520.7L475.9,520.0L475.9,519.3L475.9,518.6L475.9,517.9L475.9,517.2L475.9,516.5L475.9,515.8L475.9,515.1L475.8,514.4L475.6,513.7Z" fill="#ffffff" stroke="#111" stroke-width="0.75" stroke-linejoin="round"/>
<rect x="474.40" y="583.50" width="2.40" height="6.00" fill="#fff" stroke="#444" stroke-width="0.45"/>
<line x1="474.40" y1="586.50" x2="476.80" y2="586.50" stroke="#444" stroke-width="0.7" />
<path d="M502.6,509.0L502.4,509.7L502.4,510.4L502.4,511.1L502.4,511.8L502.4,512.5L502.4,513.2L502.4,513.9L502.4,514.6L502.4,515.3L502.4,516.0L502.4,516.7L502.4,517.4L502.4,518.1L502.4,518.8L502.4,519.5L502.4,520.2L502.4,520.9L502.4,521.6L502.4,522.3L502.4,523.0L502.4,523.7L502.4,524.4L502.4,525.1L502.4,525.8L502.4,526.5L502.4,527.2L502.4,527.9L502.4,528.6L502.4,529.3L502.4,530.0L502.4,530.7L502.4,531.4L502.4,532.1L502.4,532.8L502.4,533.5L502.4,534.2L502.4,534.9L502.4,535.6L502.4,536.3L502.4,537.0L502.4,537.7L502.4,538.4L502.4,539.1L502.4,539.8L502.4,540.5L502.4,541.2L502.4,541.9L502.4,542.6L502.4,543.3L502.4,544.0L502.4,544.7L502.4,545.4L502.4,546.1L502.4,546.8L502.4,547.5L502.4,548.2L502.4,548.9L502.4,549.6L502.4,550.3L502.4,551.0L502.4,551.7L502.4,552.4L502.4,553.1L502.4,553.8L502.4,554.5L502.4,555.2L502.4,555.9L502.4,556.6L502.4,557.3L502.4,558.0L502.4,558.7L502.4,559.4L502.4,560.1L502.4,560.8L502.4,561.5L502.4,562.2L502.4,562.9L502.4,563.6L502.4,564.3L502.4,565.0L502.4,565.7L502.4,566.4L502.4,567.1L502.4,567.8L502.4,568.5L502.4,569.2L502.4,569.9L502.4,570.6L502.4,571.3L502.4,572.0L502.3,572.7L502.3,573.4L502.2,574.1L502.1,574.8L501.9,575.5L501.8,576.2L501.6,576.9L501.3,577.6L501.1,578.3L500.7,579.0L500.4,579.7L500.0,580.4L499.5,581.1L499.0,581.8L498.5,582.5L497.9,583.2L497.3,583.9L496.7,584.6L496.2,585.3L495.7,586.0L495.3,586.7L495.3,587.4L495.5,588.1L495.9,588.8L496.5,589.5L497.3,590.2L498.3,590.9L499.2,591.6L500.2,592.3L501.0,593.0L501.6,593.7L502.0,594.4L503.2,594.4L503.6,593.7L504.2,593.0L505.0,592.3L506.0,591.6L506.9,590.9L507.9,590.2L508.7,589.5L509.3,588.8L509.7,588.1L509.9,587.4L509.9,586.7L509.5,586.0L509.0,585.3L508.5,584.6L507.9,583.9L507.3,583.2L506.7,582.5L506.2,581.8L505.7,581.1L505.2,580.4L504.8,579.7L504.5,579.0L504.1,578.3L503.9,577.6L503.6,576.9L503.4,576.2L503.3,575.5L503.1,574.8L503.0,574.1L502.9,573.4L502.9,572.7L502.9,572.0L502.9,571.3L502.9,570.6L502.9,569.9L502.9,569.2L502.9,568.5L502.9,567.8L502.9,567.1L502.9,566.4L502.9,565.7L502.9,565.0L502.9,564.3L502.9,563.6L502.9,562.9L502.9,562.2L502.9,561.5L502.9,560.8L502.9,560.1L502.9,559.4L502.9,558.7L502.9,558.0L502.9,557.3L502.9,556.6L502.9,555.9L502.9,555.2L502.9,554.5L502.9,553.8L502.9,553.1L502.9,552.4L502.9,551.7L502.9,551.0L502.9,550.3L502.9,549.6L502.9,548.9L502.9,548.2L502.9,547.5L502.9,546.8L502.9,546.1L502.9,545.4L502.9,544.7L502.9,544.0L502.9,543.3L502.9,542.6L502.9,541.9L502.9,541.2L502.9,540.5L502.9,539.8L502.9,539.1L502.9,538.4L502.9,537.7L502.9,537.0L502.9,536.3L502.9,535.6L502.9,534.9L502.9,534.2L502.9,533.5L502.9,532.8L502.9,532.1L502.9,531.4L502.9,530.7L502.9,530.0L502.9,529.3L502.9,528.6L502.9,527.9L502.9,527.2L502.9,526.5L502.9,525.8L502.9,525.1L502.9,524.4L502.9,523.7L502.9,523.0L502.9,522.3L502.9,521.6L502.9,520.9L502.9,520.2L502.9,519.5L502.9,518.8L502.9,518.1L502.9,517.4L502.9,516.7L502.9,516.0L502.9,515.3L502.9,514.6L502.9,513.9L502.9,513.2L502.9,512.5L502.9,511.8L502.9,511.1L502.9,510.4L502.8,509.7L502.6,509.0Z" fill="#ffffff" stroke="#111" stroke-width="0.75" stroke-linejoin="round"/>
<rect x="500.90" y="583.10" width="3.40" height="6.60" fill="#fff" stroke="#444" stroke-width="0.45"/>
<line x1="500.90" y1="586.40" x2="504.30" y2="586.40" stroke="#444" stroke-width="0.7" />
<path d="M529.8,516.4L529.6,517.1L529.5,517.8L529.5,518.5L529.5,519.2L529.5,519.9L529.5,520.6L529.5,521.3L529.5,522.0L529.5,522.7L529.5,523.4L529.5,524.1L529.5,524.8L529.5,525.5L529.5,526.2L529.5,526.9L529.5,527.6L529.5,528.3L529.5,529.0L529.5,529.7L529.5,530.4L529.5,531.1L529.5,531.8L529.5,532.5L529.5,533.2L529.5,533.9L529.5,534.6L529.5,535.3L529.5,536.0L529.5,536.7L529.5,537.4L529.5,538.1L529.5,538.8L529.5,539.5L529.4,540.2L529.3,540.9L529.2,541.6L529.0,542.3L528.9,543.0L528.7,543.7L528.5,544.4L528.3,545.1L528.1,545.8L527.9,546.5L527.7,547.2L527.5,547.9L527.3,548.6L527.2,549.3L527.0,550.0L526.9,550.7L526.8,551.4L526.8,552.1L526.8,552.8L526.9,553.5L527.1,554.2L527.3,554.9L527.7,555.6L528.1,556.3L528.5,557.0L528.3,557.7L528.2,558.4L528.1,559.1L528.0,559.8L527.9,560.5L527.9,561.2L527.8,561.9L527.8,562.6L527.8,563.3L527.8,564.0L527.8,564.7L527.8,565.4L527.8,566.1L527.8,566.8L527.8,567.5L527.8,568.2L527.8,568.9L527.8,569.6L527.8,570.3L527.9,571.0L528.0,571.7L528.0,572.4L528.1,573.1L528.2,573.8L528.4,574.5L528.5,575.2L528.6,575.9L528.8,576.6L528.6,577.3L528.2,578.0L527.8,578.7L527.3,579.4L526.7,580.1L526.0,580.8L525.3,581.5L524.6,582.2L524.0,582.9L523.4,583.6L523.0,584.3L523.0,585.0L523.4,585.7L524.0,586.4L524.6,587.1L525.3,587.8L525.9,588.5L526.6,589.2L527.1,589.9L527.6,590.6L528.0,591.3L528.4,592.0L528.7,592.7L528.9,593.4L530.7,593.4L530.9,592.7L531.2,592.0L531.6,591.3L532.0,590.6L532.5,589.9L533.0,589.2L533.7,588.5L534.3,587.8L535.0,587.1L535.6,586.4L536.2,585.7L536.6,585.0L536.6,584.3L536.2,583.6L535.6,582.9L535.0,582.2L534.3,581.5L533.6,580.8L532.9,580.1L532.3,579.4L531.8,578.7L531.4,578.0L531.0,577.3L530.8,576.6L531.0,575.9L531.1,575.2L531.2,574.5L531.4,573.8L531.5,573.1L531.6,572.4L531.6,571.7L531.7,571.0L531.8,570.3L531.8,569.6L531.8,568.9L531.8,568.2L531.8,567.5L531.8,566.8L531.8,566.1L531.8,565.4L531.8,564.7L531.8,564.0L531.8,563.3L531.8,562.6L531.8,561.9L531.7,561.2L531.7,560.5L531.6,559.8L531.5,559.1L531.4,558.4L531.3,557.7L531.1,557.0L531.5,556.3L531.9,555.6L532.3,554.9L532.5,554.2L532.7,553.5L532.8,552.8L532.8,552.1L532.8,551.4L532.7,550.7L532.6,550.0L532.4,549.3L532.3,548.6L532.1,547.9L531.9,547.2L531.7,546.5L531.5,545.8L531.3,545.1L531.1,544.4L530.9,543.7L530.7,543.0L530.6,542.3L530.4,541.6L530.3,540.9L530.2,540.2L530.1,539.5L530.0,538.8L530.0,538.1L530.0,537.4L530.0,536.7L530.0,536.0L530.0,535.3L530.0,534.6L530.0,533.9L530.0,533.2L530.0,532.5L530.0,531.8L530.0,531.1L530.0,530.4L530.0,529.7L530.0,529.0L530.0,528.3L530.0,527.6L530.0,526.9L530.0,526.2L530.0,525.5L530.0,524.8L530.0,524.1L530.0,523.4L530.0,522.7L530.0,522.0L530.0,521.3L530.0,520.6L530.0,519.9L530.0,519.2L530.0,518.5L530.0,517.8L530.0,517.1L529.8,516.4Z" fill="#8b87c8" stroke="#111" stroke-width="0.75" stroke-linejoin="round"/>
<rect x="528.20" y="557.70" width="3.20" height="27.10" fill="#fff" stroke="#444" stroke-width="0.45"/>
<line x1="528.20" y1="577.20" x2="531.40" y2="577.20" stroke="#444" stroke-width="0.7" />
<path d="M475.70,511.40 L475.70,509.20 L502.80,509.20 L502.80,511.40" fill="none" stroke="#333" stroke-width="0.8"/>
<path d="M502.80,501.50 L502.80,499.30 L529.80,499.30 L529.80,501.50" fill="none" stroke="#333" stroke-width="0.8"/>
<text x="474.60" y="508.95" font-size="8.2" fill="#1a1a1a" stroke="#1a1a1a"><tspan font-style="italic">P</tspan> = 0.24</text>
<text x="495.00" y="498.65" font-size="8.2" fill="#1a1a1a" stroke="#1a1a1a"><tspan font-style="italic">P</tspan> = 2.2×10<tspan font-size="4.6" dy="-3.1" style="stroke-width:0.05px">-16</tspan></text>
<line x1="565.40" y1="495.40" x2="565.40" y2="599.20" stroke="#222" stroke-width="0.9" />
<line x1="564.95" y1="599.20" x2="651.80" y2="599.20" stroke="#222" stroke-width="0.9" />
<line x1="562.90" y1="520.40" x2="565.40" y2="520.40" stroke="#222" stroke-width="0.8" />
<text x="561.80" y="523.35" font-size="8.2" text-anchor="end" fill="#333" stroke="#333" font-weight="normal" font-style="normal" >1.0</text>
<line x1="562.90" y1="550.10" x2="565.40" y2="550.10" stroke="#222" stroke-width="0.8" />
<text x="561.80" y="553.05" font-size="8.2" text-anchor="end" fill="#333" stroke="#333" font-weight="normal" font-style="normal" >0.5</text>
<line x1="562.90" y1="579.80" x2="565.40" y2="579.80" stroke="#222" stroke-width="0.8" />
<text x="561.80" y="582.75" font-size="8.2" text-anchor="end" fill="#333" stroke="#333" font-weight="normal" font-style="normal" >0.0</text>
<line x1="581.20" y1="599.20" x2="581.20" y2="601.20" stroke="#222" stroke-width="0.8" />
<text x="0" y="0" font-size="8.2" fill="#1a1a1a" stroke="#1a1a1a" text-anchor="end" transform="translate(584.40,607.00) rotate(-35)">EAT</text>
<line x1="608.40" y1="599.20" x2="608.40" y2="601.20" stroke="#222" stroke-width="0.8" />
<text x="0" y="0" font-size="8.2" fill="#1a1a1a" stroke="#1a1a1a" text-anchor="end" transform="translate(611.60,607.00) rotate(-35)">LAT</text>
<line x1="635.50" y1="599.20" x2="635.50" y2="601.20" stroke="#222" stroke-width="0.8" />
<text x="0" y="0" font-size="8.2" fill="#1a1a1a" stroke="#1a1a1a" text-anchor="end" transform="translate(638.70,607.00) rotate(-35)">Met</text>
<text x="616.70" y="484.85" font-size="8.2" text-anchor="middle" fill="#1a1a1a" stroke="#1a1a1a" font-weight="normal" font-style="normal" >MP7 signature</text>
<path d="M581.3,538.3L581.1,539.0L581.0,539.7L581.0,540.4L581.0,541.1L581.0,541.8L581.0,542.5L581.0,543.2L581.0,543.9L581.0,544.6L581.0,545.3L581.0,546.0L581.0,546.7L581.0,547.4L581.0,548.1L581.0,548.8L581.0,549.5L581.0,550.2L581.0,550.9L581.0,551.6L581.0,552.3L581.0,553.0L581.0,553.7L581.0,554.4L581.0,555.1L581.0,555.8L581.0,556.5L581.0,557.2L581.0,557.9L581.0,558.6L581.0,559.3L581.0,560.0L581.0,560.7L581.0,561.4L581.0,562.1L580.9,562.8L580.8,563.5L580.6,564.2L580.4,564.9L580.2,565.6L580.0,566.3L579.7,567.0L579.3,567.7L579.0,568.4L578.5,569.1L578.0,569.8L577.5,570.5L576.9,571.2L576.4,571.9L575.8,572.6L575.2,573.3L574.7,574.0L574.2,574.7L574.0,575.4L574.0,576.1L574.3,576.8L574.8,577.5L575.4,578.2L576.0,578.9L576.6,579.6L577.2,580.3L577.8,581.0L578.3,581.7L578.8,582.4L579.2,583.1L579.6,583.8L579.9,584.5L580.2,585.2L580.4,585.9L580.6,586.6L580.7,587.3L580.9,588.0L581.0,588.7L581.0,589.4L581.1,590.1L581.5,590.1L581.6,589.4L581.6,588.7L581.7,588.0L581.9,587.3L582.0,586.6L582.2,585.9L582.4,585.2L582.7,584.5L583.0,583.8L583.4,583.1L583.8,582.4L584.3,581.7L584.8,581.0L585.4,580.3L586.0,579.6L586.6,578.9L587.2,578.2L587.8,577.5L588.3,576.8L588.6,576.1L588.6,575.4L588.4,574.7L587.9,574.0L587.4,573.3L586.8,572.6L586.2,571.9L585.7,571.2L585.1,570.5L584.6,569.8L584.1,569.1L583.6,568.4L583.3,567.7L582.9,567.0L582.6,566.3L582.4,565.6L582.2,564.9L582.0,564.2L581.8,563.5L581.7,562.8L581.6,562.1L581.6,561.4L581.5,560.7L581.5,560.0L581.5,559.3L581.5,558.6L581.5,557.9L581.5,557.2L581.5,556.5L581.5,555.8L581.5,555.1L581.5,554.4L581.5,553.7L581.5,553.0L581.5,552.3L581.5,551.6L581.5,550.9L581.5,550.2L581.5,549.5L581.5,548.8L581.5,548.1L581.5,547.4L581.5,546.7L581.5,546.0L581.5,545.3L581.5,544.6L581.5,543.9L581.5,543.2L581.5,542.5L581.5,541.8L581.5,541.1L581.5,540.4L581.5,539.7L581.5,539.0L581.3,538.3Z" fill="#c4c5e8" stroke="#111" stroke-width="0.75" stroke-linejoin="round"/>
<rect x="579.80" y="571.00" width="3.00" height="7.60" fill="#fff" stroke="#444" stroke-width="0.45"/>
<line x1="579.80" y1="574.80" x2="582.80" y2="574.80" stroke="#444" stroke-width="0.7" />
<path d="M608.3,513.8L608.1,514.5L608.0,515.2L608.0,515.9L608.0,516.6L608.0,517.3L608.0,518.0L608.0,518.7L608.0,519.4L608.0,520.1L608.0,520.8L608.0,521.5L608.0,522.2L608.0,522.9L608.0,523.6L608.0,524.3L608.0,525.0L608.0,525.7L608.0,526.4L608.0,527.1L608.0,527.8L608.0,528.5L608.0,529.2L608.0,529.9L608.0,530.6L608.0,531.3L608.0,532.0L608.0,532.7L608.0,533.4L608.0,534.1L608.0,534.8L608.0,535.5L608.0,536.2L608.0,536.9L608.0,537.6L608.0,538.3L608.0,539.0L608.0,539.7L608.0,540.4L608.0,541.1L608.0,541.8L608.0,542.5L608.0,543.2L608.0,543.9L608.0,544.6L608.0,545.3L608.0,546.0L608.0,546.7L608.0,547.4L608.0,548.1L608.0,548.8L608.0,549.5L608.0,550.2L608.0,550.9L608.0,551.6L608.0,552.3L608.0,553.0L608.0,553.7L608.0,554.4L608.0,555.1L608.0,555.8L607.9,556.5L607.9,557.2L607.8,557.9L607.7,558.6L607.6,559.3L607.5,560.0L607.3,560.7L607.2,561.4L607.0,562.1L606.8,562.8L606.6,563.5L606.4,564.2L606.1,564.9L605.9,565.6L605.6,566.3L605.2,567.0L604.9,567.7L604.5,568.4L604.2,569.1L603.8,569.8L603.4,570.5L603.0,571.2L602.5,571.9L602.2,572.6L601.8,573.3L601.5,574.0L601.2,574.7L600.9,575.4L600.8,576.1L600.9,576.8L601.0,577.5L601.3,578.2L601.6,578.9L601.9,579.6L602.2,580.3L602.6,581.0L602.9,581.7L603.3,582.4L603.7,583.1L604.0,583.8L604.4,584.5L604.7,585.2L605.0,585.9L605.3,586.6L605.6,587.3L605.9,588.0L606.1,588.7L606.4,589.4L606.6,590.1L606.8,590.8L607.0,591.5L607.1,592.2L607.3,592.9L607.4,593.6L607.5,594.3L609.1,594.3L609.2,593.6L609.3,592.9L609.5,592.2L609.6,591.5L609.8,590.8L610.0,590.1L610.2,589.4L610.5,588.7L610.7,588.0L611.0,587.3L611.3,586.6L611.6,585.9L611.9,585.2L612.2,584.5L612.6,583.8L612.9,583.1L613.3,582.4L613.7,581.7L614.0,581.0L614.4,580.3L614.7,579.6L615.0,578.9L615.3,578.2L615.6,577.5L615.7,576.8L615.8,576.1L615.7,575.4L615.4,574.7L615.1,574.0L614.8,573.3L614.4,572.6L614.1,571.9L613.6,571.2L613.2,570.5L612.8,569.8L612.4,569.1L612.1,568.4L611.7,567.7L611.4,567.0L611.0,566.3L610.7,565.6L610.5,564.9L610.2,564.2L610.0,563.5L609.8,562.8L609.6,562.1L609.4,561.4L609.3,560.7L609.1,560.0L609.0,559.3L608.9,558.6L608.8,557.9L608.7,557.2L608.7,556.5L608.6,555.8L608.6,555.1L608.5,554.4L608.5,553.7L608.5,553.0L608.5,552.3L608.5,551.6L608.5,550.9L608.5,550.2L608.5,549.5L608.5,548.8L608.5,548.1L608.5,547.4L608.5,546.7L608.5,546.0L608.5,545.3L608.5,544.6L608.5,543.9L608.5,543.2L608.5,542.5L608.5,541.8L608.5,541.1L608.5,540.4L608.5,539.7L608.5,539.0L608.5,538.3L608.5,537.6L608.5,536.9L608.5,536.2L608.5,535.5L608.5,534.8L608.5,534.1L608.5,533.4L608.5,532.7L608.5,532.0L608.5,531.3L608.5,530.6L608.5,529.9L608.5,529.2L608.5,528.5L608.5,527.8L608.5,527.1L608.5,526.4L608.5,525.7L608.5,525.0L608.5,524.3L608.5,523.6L608.5,522.9L608.5,522.2L608.5,521.5L608.5,520.8L608.5,520.1L608.5,519.4L608.5,518.7L608.5,518.0L608.5,517.3L608.5,516.6L608.5,515.9L608.5,515.2L608.5,514.5L608.3,513.8Z" fill="#cfd0ec" stroke="#111" stroke-width="0.75" stroke-linejoin="round"/>
<rect x="606.50" y="570.40" width="3.60" height="11.10" fill="#fff" stroke="#444" stroke-width="0.45"/>
<line x1="606.50" y1="576.00" x2="610.10" y2="576.00" stroke="#444" stroke-width="0.7" />
<path d="M635.4,513.2L635.2,513.9L635.1,514.6L635.1,515.3L635.1,516.0L635.1,516.7L635.1,517.4L635.1,518.1L635.1,518.8L635.1,519.5L635.1,520.2L635.1,520.9L635.1,521.6L635.1,522.3L635.1,523.0L635.1,523.7L635.1,524.4L635.1,525.1L635.1,525.8L635.1,526.5L635.1,527.2L635.1,527.9L635.1,528.6L635.1,529.3L635.1,530.0L635.1,530.7L635.1,531.4L635.1,532.1L635.1,532.8L635.1,533.5L635.1,534.2L635.1,534.9L635.1,535.6L635.1,536.3L635.1,537.0L635.1,537.7L635.1,538.4L635.1,539.1L635.1,539.8L635.1,540.5L635.1,541.2L635.1,541.9L635.1,542.6L635.1,543.3L635.1,544.0L635.1,544.7L635.1,545.4L635.1,546.1L635.1,546.8L635.1,547.5L635.1,548.2L635.1,548.9L635.1,549.6L635.1,550.3L635.1,551.0L635.1,551.7L635.1,552.4L635.1,553.1L635.1,553.8L635.1,554.5L635.1,555.2L635.1,555.9L635.1,556.6L635.1,557.3L635.1,558.0L635.1,558.7L635.1,559.4L635.0,560.1L634.9,560.8L634.8,561.5L634.6,562.2L634.4,562.9L634.2,563.6L634.0,564.3L633.7,565.0L633.4,565.7L633.0,566.4L632.6,567.1L632.2,567.8L631.7,568.5L631.2,569.2L630.6,569.9L630.1,570.6L629.5,571.3L629.0,572.0L628.6,572.7L628.2,573.4L627.9,574.1L627.8,574.8L627.9,575.5L628.1,576.2L628.4,576.9L628.6,577.6L628.9,578.3L629.2,579.0L629.6,579.7L629.9,580.4L630.3,581.1L630.6,581.8L630.9,582.5L631.3,583.2L631.6,583.9L631.9,584.6L632.2,585.3L632.5,586.0L632.7,586.7L633.0,587.4L633.2,588.1L633.4,588.8L633.6,589.5L633.8,590.2L634.0,590.9L634.1,591.6L634.3,592.3L634.4,593.0L634.5,593.7L636.3,593.7L636.4,593.0L636.5,592.3L636.7,591.6L636.8,590.9L637.0,590.2L637.2,589.5L637.4,588.8L637.6,588.1L637.8,587.4L638.1,586.7L638.3,586.0L638.6,585.3L638.9,584.6L639.2,583.9L639.5,583.2L639.9,582.5L640.2,581.8L640.5,581.1L640.9,580.4L641.2,579.7L641.6,579.0L641.9,578.3L642.2,577.6L642.4,576.9L642.7,576.2L642.9,575.5L643.0,574.8L642.9,574.1L642.6,573.4L642.2,572.7L641.8,572.0L641.3,571.3L640.7,570.6L640.2,569.9L639.6,569.2L639.1,568.5L638.6,567.8L638.2,567.1L637.8,566.4L637.4,565.7L637.1,565.0L636.8,564.3L636.6,563.6L636.4,562.9L636.2,562.2L636.0,561.5L635.9,560.8L635.8,560.1L635.7,559.4L635.7,558.7L635.6,558.0L635.6,557.3L635.6,556.6L635.6,555.9L635.6,555.2L635.6,554.5L635.6,553.8L635.6,553.1L635.6,552.4L635.6,551.7L635.6,551.0L635.6,550.3L635.6,549.6L635.6,548.9L635.6,548.2L635.6,547.5L635.6,546.8L635.6,546.1L635.6,545.4L635.6,544.7L635.6,544.0L635.6,543.3L635.6,542.6L635.6,541.9L635.6,541.2L635.6,540.5L635.6,539.8L635.6,539.1L635.6,538.4L635.6,537.7L635.6,537.0L635.6,536.3L635.6,535.6L635.6,534.9L635.6,534.2L635.6,533.5L635.6,532.8L635.6,532.1L635.6,531.4L635.6,530.7L635.6,530.0L635.6,529.3L635.6,528.6L635.6,527.9L635.6,527.2L635.6,526.5L635.6,525.8L635.6,525.1L635.6,524.4L635.6,523.7L635.6,523.0L635.6,522.3L635.6,521.6L635.6,520.9L635.6,520.2L635.6,519.5L635.6,518.8L635.6,518.1L635.6,517.4L635.6,516.7L635.6,516.0L635.6,515.3L635.6,514.6L635.6,513.9L635.4,513.2Z" fill="#cbcbea" stroke="#111" stroke-width="0.75" stroke-linejoin="round"/>
<rect x="633.60" y="570.40" width="3.60" height="9.90" fill="#fff" stroke="#444" stroke-width="0.45"/>
<line x1="633.60" y1="575.30" x2="637.20" y2="575.30" stroke="#444" stroke-width="0.7" />
<path d="M581.20,511.80 L581.20,509.60 L608.40,509.60 L608.40,511.80" fill="none" stroke="#333" stroke-width="0.8"/>
<path d="M608.40,501.70 L608.40,499.50 L635.50,499.50 L635.50,501.70" fill="none" stroke="#333" stroke-width="0.8"/>
<text x="574.00" y="508.75" font-size="8.2" fill="#1a1a1a" stroke="#1a1a1a"><tspan font-style="italic">P</tspan> = 2.2×10<tspan font-size="4.6" dy="-3.1" style="stroke-width:0.05px">-16</tspan></text>
<text x="601.50" y="498.65" font-size="8.2" fill="#1a1a1a" stroke="#1a1a1a"><tspan font-style="italic">P</tspan> = 3.4×10<tspan font-size="4.6" dy="-3.1" style="stroke-width:0.05px">-5</tspan></text>
<defs><linearGradient id="meanG" x1="0" x2="0" y1="0" y2="1"><stop offset="0" stop-color="#4a2a9a"/><stop offset="0.5" stop-color="#a9a2d6"/><stop offset="1" stop-color="#ffffff"/></linearGradient></defs>
<text x="649.00" y="551.05" font-size="8.2" text-anchor="start" fill="#1a1a1a" stroke="#1a1a1a" font-weight="normal" font-style="normal" >Mean</text>
<rect x="650.80" y="555.10" width="4.40" height="40.90" fill="url(#meanG)" />
<text x="656.90" y="561.15" font-size="8.2" text-anchor="start" fill="#1a1a1a" stroke="#1a1a1a" font-weight="normal" font-style="normal" >High</text>
<text x="657.50" y="594.55" font-size="8.2" text-anchor="start" fill="#1a1a1a" stroke="#1a1a1a" font-weight="normal" font-style="normal" >Low</text>
<text x="1.60" y="665.20" font-size="16" text-anchor="start" fill="#000" stroke="#000" font-weight="bold" font-style="normal" >e</text>
<line x1="43.70" y1="678.90" x2="43.70" y2="796.40" stroke="#222" stroke-width="0.9" />
<line x1="43.25" y1="796.40" x2="111.70" y2="796.40" stroke="#222" stroke-width="0.9" />
<line x1="41.10" y1="684.20" x2="43.70" y2="684.20" stroke="#222" stroke-width="0.8" />
<text x="38.10" y="687.81" font-size="8.35" text-anchor="end" fill="#222" stroke="#222" font-weight="normal" font-style="normal" >2.35</text>
<line x1="41.10" y1="708.50" x2="43.70" y2="708.50" stroke="#222" stroke-width="0.8" />
<text x="38.10" y="712.11" font-size="8.35" text-anchor="end" fill="#222" stroke="#222" font-weight="normal" font-style="normal" >2.30</text>
<line x1="41.10" y1="732.60" x2="43.70" y2="732.60" stroke="#222" stroke-width="0.8" />
<text x="38.10" y="736.21" font-size="8.35" text-anchor="end" fill="#222" stroke="#222" font-weight="normal" font-style="normal" >2.25</text>
<line x1="41.10" y1="757.60" x2="43.70" y2="757.60" stroke="#222" stroke-width="0.8" />
<text x="38.10" y="761.21" font-size="8.35" text-anchor="end" fill="#222" stroke="#222" font-weight="normal" font-style="normal" >2.20</text>
<line x1="41.10" y1="781.60" x2="43.70" y2="781.60" stroke="#222" stroke-width="0.8" />
<text x="38.10" y="785.21" font-size="8.35" text-anchor="end" fill="#222" stroke="#222" font-weight="normal" font-style="normal" >2.15</text>
<text x="0" y="0" font-size="8.2" fill="#1a1a1a" stroke="#1a1a1a" text-anchor="middle" transform="translate(15.10,736.00) rotate(-90)">MP6 signature</text>
<line x1="61.90" y1="684.70" x2="61.90" y2="715.50" stroke="#5aa2de" stroke-width="1.0" />
<line x1="61.90" y1="774.20" x2="61.90" y2="791.70" stroke="#5aa2de" stroke-width="1.0" />
<rect x="50.90" y="715.50" width="22.20" height="58.70" fill="none" stroke="#5aa2de" stroke-width="1.0"/>
<line x1="50.90" y1="743.10" x2="73.10" y2="743.10" stroke="#5aa2de" stroke-width="1.0" />
<line x1="93.40" y1="695.90" x2="93.40" y2="713.20" stroke="#f4c846" stroke-width="1.0" />
<line x1="93.40" y1="731.90" x2="93.40" y2="752.00" stroke="#f4c846" stroke-width="1.0" />
<rect x="82.50" y="713.20" width="21.90" height="18.70" fill="none" stroke="#f4c846" stroke-width="1.0"/>
<line x1="82.50" y1="721.40" x2="104.40" y2="721.40" stroke="#f4c846" stroke-width="1.0" />
<circle cx="61.20" cy="684.71" r="2.00" fill="#1a73c4" />
<circle cx="64.24" cy="702.93" r="2.00" fill="#1a73c4" />
<circle cx="62.60" cy="706.90" r="2.00" fill="#1a73c4" />
<circle cx="67.74" cy="706.20" r="2.00" fill="#1a73c4" />
<circle cx="64.94" cy="713.91" r="2.00" fill="#1a73c4" />
<circle cx="58.40" cy="716.25" r="2.00" fill="#1a73c4" />
<circle cx="68.21" cy="723.25" r="2.00" fill="#1a73c4" />
<circle cx="67.27" cy="724.42" r="2.00" fill="#1a73c4" />
<circle cx="67.27" cy="734.47" r="2.00" fill="#1a73c4" />
<circle cx="67.74" cy="737.74" r="2.00" fill="#1a73c4" />
<circle cx="63.54" cy="748.95" r="2.00" fill="#1a73c4" />
<circle cx="65.41" cy="750.58" r="2.00" fill="#1a73c4" />
<circle cx="63.07" cy="751.28" r="2.00" fill="#1a73c4" />
<circle cx="67.04" cy="751.28" r="2.00" fill="#1a73c4" />
<circle cx="67.27" cy="764.13" r="2.00" fill="#1a73c4" />
<circle cx="62.60" cy="773.01" r="2.00" fill="#1a73c4" />
<circle cx="59.57" cy="778.15" r="2.00" fill="#1a73c4" />
<circle cx="67.04" cy="776.51" r="2.00" fill="#1a73c4" />
<circle cx="56.06" cy="781.65" r="2.00" fill="#1a73c4" />
<circle cx="58.40" cy="791.46" r="2.00" fill="#1a73c4" />
<circle cx="64.24" cy="789.13" r="2.00" fill="#1a73c4" />
<circle cx="96.47" cy="695.92" r="2.00" fill="#f0b400" />
<circle cx="88.76" cy="704.10" r="2.00" fill="#f0b400" />
<circle cx="92.97" cy="702.70" r="2.00" fill="#f0b400" />
<circle cx="94.14" cy="704.10" r="2.00" fill="#f0b400" />
<circle cx="91.10" cy="711.11" r="2.00" fill="#f0b400" />
<circle cx="96.24" cy="719.98" r="2.00" fill="#f0b400" />
<circle cx="92.97" cy="720.92" r="2.00" fill="#f0b400" />
<circle cx="89.93" cy="721.38" r="2.00" fill="#f0b400" />
<circle cx="99.28" cy="720.22" r="2.00" fill="#f0b400" />
<circle cx="87.13" cy="729.09" r="2.00" fill="#f0b400" />
<circle cx="95.30" cy="726.06" r="2.00" fill="#f0b400" />
<circle cx="98.81" cy="728.39" r="2.00" fill="#f0b400" />
<circle cx="87.60" cy="732.60" r="2.00" fill="#f0b400" />
<circle cx="88.30" cy="741.94" r="2.00" fill="#f0b400" />
<circle cx="98.11" cy="741.47" r="2.00" fill="#f0b400" />
<circle cx="92.97" cy="741.47" r="2.00" fill="#f0b400" />
<circle cx="95.30" cy="751.98" r="2.00" fill="#f0b400" />
<line x1="61.90" y1="796.40" x2="61.90" y2="798.60" stroke="#222" stroke-width="0.8" />
<text x="0" y="0" font-size="8.2" fill="#1a1a1a" stroke="#1a1a1a" text-anchor="end" transform="translate(64.90,804.70) rotate(-30)">Adnexal tumor</text>
<line x1="93.40" y1="796.40" x2="93.40" y2="798.60" stroke="#222" stroke-width="0.8" />
<text x="0" y="0" font-size="8.2" fill="#1a1a1a" stroke="#1a1a1a" text-anchor="end" transform="translate(96.40,804.70) rotate(-30)">Metastasis</text>
<text x="78.50" y="674.85" font-size="8.2" fill="#1a1a1a" stroke="#1a1a1a" text-anchor="middle"><tspan font-style="italic">P</tspan> = 0.021</text>
<path d="M60.70,680.90 L60.70,678.40 L93.90,678.40 L93.90,680.90" fill="none" stroke="#333" stroke-width="0.9"/>
<line x1="188.50" y1="679.60" x2="188.50" y2="796.40" stroke="#222" stroke-width="0.9" />
<line x1="188.05" y1="796.40" x2="262.60" y2="796.40" stroke="#222" stroke-width="0.9" />
<line x1="185.90" y1="692.40" x2="188.50" y2="692.40" stroke="#222" stroke-width="0.8" />
<text x="182.90" y="696.01" font-size="8.35" text-anchor="end" fill="#222" stroke="#222" font-weight="normal" font-style="normal" >2.4</text>
<line x1="185.90" y1="726.30" x2="188.50" y2="726.30" stroke="#222" stroke-width="0.8" />
<text x="182.90" y="729.91" font-size="8.35" text-anchor="end" fill="#222" stroke="#222" font-weight="normal" font-style="normal" >2.2</text>
<line x1="185.90" y1="760.40" x2="188.50" y2="760.40" stroke="#222" stroke-width="0.8" />
<text x="182.90" y="764.01" font-size="8.35" text-anchor="end" fill="#222" stroke="#222" font-weight="normal" font-style="normal" >2.0</text>
<line x1="185.90" y1="795.20" x2="188.50" y2="795.20" stroke="#222" stroke-width="0.8" />
<text x="182.90" y="798.81" font-size="8.35" text-anchor="end" fill="#222" stroke="#222" font-weight="normal" font-style="normal" >1.8</text>
<text x="0" y="0" font-size="8.2" fill="#1a1a1a" stroke="#1a1a1a" text-anchor="middle" transform="translate(168.20,738.40) rotate(-90)">MP4 signature</text>
<line x1="208.40" y1="685.20" x2="208.40" y2="722.10" stroke="#5aa2de" stroke-width="1.0" />
<line x1="208.40" y1="765.30" x2="208.40" y2="791.00" stroke="#5aa2de" stroke-width="1.0" />
<rect x="196.70" y="722.10" width="23.80" height="43.20" fill="none" stroke="#5aa2de" stroke-width="1.0"/>
<line x1="196.70" y1="745.40" x2="220.50" y2="745.40" stroke="#5aa2de" stroke-width="1.0" />
<line x1="242.50" y1="695.90" x2="242.50" y2="701.00" stroke="#f4c846" stroke-width="1.0" />
<line x1="242.50" y1="724.90" x2="242.50" y2="738.00" stroke="#f4c846" stroke-width="1.0" />
<rect x="230.60" y="701.00" width="23.80" height="23.90" fill="none" stroke="#f4c846" stroke-width="1.0"/>
<line x1="230.60" y1="704.60" x2="254.40" y2="704.60" stroke="#f4c846" stroke-width="1.0" />
<circle cx="213.54" cy="684.71" r="2.00" fill="#1a73c4" />
<circle cx="204.89" cy="699.43" r="2.00" fill="#1a73c4" />
<circle cx="209.57" cy="709.70" r="2.00" fill="#1a73c4" />
<circle cx="212.60" cy="715.08" r="2.00" fill="#1a73c4" />
<circle cx="214.94" cy="713.91" r="2.00" fill="#1a73c4" />
<circle cx="211.20" cy="724.42" r="2.00" fill="#1a73c4" />
<circle cx="210.73" cy="728.63" r="2.00" fill="#1a73c4" />
<circle cx="214.94" cy="737.74" r="2.00" fill="#1a73c4" />
<circle cx="204.89" cy="741.47" r="2.00" fill="#1a73c4" />
<circle cx="213.77" cy="743.81" r="2.00" fill="#1a73c4" />
<circle cx="210.73" cy="747.08" r="2.00" fill="#1a73c4" />
<circle cx="207.93" cy="748.95" r="2.00" fill="#1a73c4" />
<circle cx="206.06" cy="761.80" r="2.00" fill="#1a73c4" />
<circle cx="209.57" cy="761.09" r="2.00" fill="#1a73c4" />
<circle cx="202.56" cy="765.30" r="2.00" fill="#1a73c4" />
<circle cx="213.77" cy="766.00" r="2.00" fill="#1a73c4" />
<circle cx="215.41" cy="773.47" r="2.00" fill="#1a73c4" />
<circle cx="213.77" cy="782.82" r="2.00" fill="#1a73c4" />
<circle cx="211.20" cy="786.79" r="2.00" fill="#1a73c4" />
<circle cx="214.70" cy="790.99" r="2.00" fill="#1a73c4" />
<circle cx="241.10" cy="694.05" r="2.00" fill="#f0b400" />
<circle cx="245.77" cy="693.35" r="2.00" fill="#f0b400" />
<circle cx="242.97" cy="696.86" r="2.00" fill="#f0b400" />
<circle cx="237.60" cy="701.76" r="2.00" fill="#f0b400" />
<circle cx="239.93" cy="702.93" r="2.00" fill="#f0b400" />
<circle cx="245.77" cy="701.06" r="2.00" fill="#f0b400" />
<circle cx="242.97" cy="702.23" r="2.00" fill="#f0b400" />
<circle cx="248.58" cy="703.86" r="2.00" fill="#f0b400" />
<circle cx="239.47" cy="707.37" r="2.00" fill="#f0b400" />
<circle cx="235.96" cy="712.04" r="2.00" fill="#f0b400" />
<circle cx="241.80" cy="715.54" r="2.00" fill="#f0b400" />
<circle cx="235.96" cy="727.92" r="2.00" fill="#f0b400" />
<circle cx="242.97" cy="729.79" r="2.00" fill="#f0b400" />
<circle cx="236.90" cy="737.74" r="2.00" fill="#f0b400" />
<circle cx="247.64" cy="735.40" r="2.00" fill="#f0b400" />
<line x1="208.40" y1="796.40" x2="208.40" y2="798.60" stroke="#222" stroke-width="0.8" />
<text x="0" y="0" font-size="8.2" fill="#1a1a1a" stroke="#1a1a1a" text-anchor="end" transform="translate(211.40,804.70) rotate(-30)">Adnexal tumor</text>
<line x1="242.50" y1="796.40" x2="242.50" y2="798.60" stroke="#222" stroke-width="0.8" />
<text x="0" y="0" font-size="8.2" fill="#1a1a1a" stroke="#1a1a1a" text-anchor="end" transform="translate(245.50,804.70) rotate(-30)">Metastasis</text>
<text x="227.60" y="671.35" font-size="8.2" fill="#1a1a1a" stroke="#1a1a1a" text-anchor="middle"><tspan font-style="italic">P</tspan> = 0.00014</text>
<path d="M208.40,679.30 L208.40,676.50 L242.30,676.50 L242.30,679.30" fill="none" stroke="#333" stroke-width="0.9"/>
<line x1="339.00" y1="679.60" x2="339.00" y2="796.40" stroke="#222" stroke-width="0.9" />
<line x1="338.55" y1="796.40" x2="412.60" y2="796.40" stroke="#222" stroke-width="0.9" />
<line x1="336.40" y1="707.60" x2="339.00" y2="707.60" stroke="#222" stroke-width="0.8" />
<text x="333.40" y="711.21" font-size="8.35" text-anchor="end" fill="#222" stroke="#222" font-weight="normal" font-style="normal" >2.0</text>
<line x1="336.40" y1="738.40" x2="339.00" y2="738.40" stroke="#222" stroke-width="0.8" />
<text x="333.40" y="742.01" font-size="8.35" text-anchor="end" fill="#222" stroke="#222" font-weight="normal" font-style="normal" >1.8</text>
<line x1="336.40" y1="769.50" x2="339.00" y2="769.50" stroke="#222" stroke-width="0.8" />
<text x="333.40" y="773.11" font-size="8.35" text-anchor="end" fill="#222" stroke="#222" font-weight="normal" font-style="normal" >1.6</text>
<text x="0" y="0" font-size="8.2" fill="#1a1a1a" stroke="#1a1a1a" text-anchor="middle" transform="translate(318.20,750.10) rotate(-90)">MP7 signature</text>
<line x1="359.40" y1="708.00" x2="359.40" y2="739.60" stroke="#5aa2de" stroke-width="1.0" />
<line x1="359.40" y1="760.60" x2="359.40" y2="777.40" stroke="#5aa2de" stroke-width="1.0" />
<rect x="347.70" y="739.60" width="23.60" height="21.00" fill="none" stroke="#5aa2de" stroke-width="1.0"/>
<line x1="347.70" y1="750.60" x2="371.30" y2="750.60" stroke="#5aa2de" stroke-width="1.0" />
<line x1="392.80" y1="692.90" x2="392.80" y2="729.60" stroke="#f4c846" stroke-width="1.0" />
<line x1="392.80" y1="773.00" x2="392.80" y2="790.30" stroke="#f4c846" stroke-width="1.0" />
<rect x="381.60" y="729.60" width="23.30" height="43.40" fill="none" stroke="#f4c846" stroke-width="1.0"/>
<line x1="381.60" y1="754.30" x2="404.90" y2="754.30" stroke="#f4c846" stroke-width="1.0" />
<circle cx="365.45" cy="684.24" r="2.00" fill="#1a73c4" />
<circle cx="358.91" cy="708.07" r="2.00" fill="#1a73c4" />
<circle cx="353.07" cy="734.93" r="2.00" fill="#1a73c4" />
<circle cx="355.87" cy="740.30" r="2.00" fill="#1a73c4" />
<circle cx="361.25" cy="738.44" r="2.00" fill="#1a73c4" />
<circle cx="364.75" cy="737.97" r="2.00" fill="#1a73c4" />
<circle cx="364.28" cy="741.24" r="2.00" fill="#1a73c4" />
<circle cx="360.08" cy="750.12" r="2.00" fill="#1a73c4" />
<circle cx="364.75" cy="751.28" r="2.00" fill="#1a73c4" />
<circle cx="365.92" cy="751.28" r="2.00" fill="#1a73c4" />
<circle cx="354.94" cy="758.99" r="2.00" fill="#1a73c4" />
<circle cx="360.54" cy="758.99" r="2.00" fill="#1a73c4" />
<circle cx="365.22" cy="761.33" r="2.00" fill="#1a73c4" />
<circle cx="356.57" cy="768.80" r="2.00" fill="#1a73c4" />
<circle cx="363.58" cy="770.67" r="2.00" fill="#1a73c4" />
<circle cx="364.28" cy="773.47" r="2.00" fill="#1a73c4" />
<circle cx="355.41" cy="777.68" r="2.00" fill="#1a73c4" />
<circle cx="386.47" cy="694.05" r="2.00" fill="#f0b400" />
<circle cx="393.48" cy="692.89" r="2.00" fill="#f0b400" />
<circle cx="392.78" cy="697.56" r="2.00" fill="#f0b400" />
<circle cx="397.92" cy="701.06" r="2.00" fill="#f0b400" />
<circle cx="388.11" cy="729.56" r="2.00" fill="#f0b400" />
<circle cx="387.41" cy="730.73" r="2.00" fill="#f0b400" />
<circle cx="398.62" cy="735.63" r="2.00" fill="#f0b400" />
<circle cx="392.31" cy="742.64" r="2.00" fill="#f0b400" />
<circle cx="391.61" cy="745.91" r="2.00" fill="#f0b400" />
<circle cx="386.47" cy="762.96" r="2.00" fill="#f0b400" />
<circle cx="390.44" cy="762.50" r="2.00" fill="#f0b400" />
<circle cx="395.82" cy="764.13" r="2.00" fill="#f0b400" />
<circle cx="392.78" cy="772.31" r="2.00" fill="#f0b400" />
<circle cx="389.98" cy="773.01" r="2.00" fill="#f0b400" />
<circle cx="396.28" cy="773.01" r="2.00" fill="#f0b400" />
<circle cx="390.44" cy="776.98" r="2.00" fill="#f0b400" />
<circle cx="393.25" cy="779.31" r="2.00" fill="#f0b400" />
<circle cx="396.98" cy="790.99" r="2.00" fill="#f0b400" />
<line x1="359.40" y1="796.40" x2="359.40" y2="798.60" stroke="#222" stroke-width="0.8" />
<text x="0" y="0" font-size="8.2" fill="#1a1a1a" stroke="#1a1a1a" text-anchor="end" transform="translate(362.40,804.70) rotate(-30)">Adnexal tumor</text>
<line x1="392.80" y1="796.40" x2="392.80" y2="798.60" stroke="#222" stroke-width="0.8" />
<text x="0" y="0" font-size="8.2" fill="#1a1a1a" stroke="#1a1a1a" text-anchor="end" transform="translate(395.80,804.70) rotate(-30)">Metastasis</text>
<text x="374.70" y="669.45" font-size="8.2" fill="#1a1a1a" stroke="#1a1a1a" text-anchor="middle"><tspan font-style="italic">P</tspan> = 0.86</text>
<path d="M359.40,676.90 L359.40,674.70 L392.80,674.70 L392.80,676.90" fill="none" stroke="#333" stroke-width="0.9"/>
<text x="459.00" y="666.80" font-size="16" text-anchor="start" fill="#000" stroke="#000" font-weight="bold" font-style="normal" >f</text>
<rect x="495.7" y="663.5" width="91.9" height="132.8" fill="none" stroke="#555" stroke-width="1.1"/>
<line x1="541.40" y1="664.00" x2="541.40" y2="795.80" stroke="#222" stroke-width="0.9" stroke-dasharray="3.2 2.2"/>
<line x1="541.40" y1="686.40" x2="578.59" y2="686.40" stroke="#e0808a" stroke-width="1.3" />
<circle cx="578.59" cy="686.40" r="2.70" fill="#ec1c24" />
<text x="491.80" y="689.42" font-size="8.4" text-anchor="end" fill="#1a1a1a" stroke="#1a1a1a" font-weight="normal" font-style="normal" >MP6</text>
<line x1="492.80" y1="686.40" x2="495.70" y2="686.40" stroke="#333" stroke-width="0.8" />
<text x="589.3" y="690.32" font-size="8.4" fill="#1a1a1a" stroke="#1a1a1a"><tspan font-style="italic">P</tspan> = 2.2×10<tspan font-size="4.6" dy="-3.1" style="stroke-width:0.05px">-16</tspan></text>
<line x1="541.40" y1="730.60" x2="549.78" y2="730.60" stroke="#c83030" stroke-width="1.3" />
<circle cx="549.78" cy="730.60" r="1.40" fill="#e0202a" />
<text x="491.80" y="733.62" font-size="8.4" text-anchor="end" fill="#1a1a1a" stroke="#1a1a1a" font-weight="normal" font-style="normal" >MP7</text>
<line x1="492.80" y1="730.60" x2="495.70" y2="730.60" stroke="#333" stroke-width="0.8" />
<text x="589.3" y="734.52" font-size="8.4" fill="#1a1a1a" stroke="#1a1a1a"><tspan font-style="italic">P</tspan> = 2.2×10<tspan font-size="4.6" dy="-3.1" style="stroke-width:0.05px">-16</tspan></text>
<line x1="541.40" y1="774.80" x2="503.06" y2="774.80" stroke="#9aa0d8" stroke-width="1.3" />
<circle cx="503.06" cy="774.80" r="2.70" fill="#1c1f86" />
<text x="491.80" y="777.82" font-size="8.4" text-anchor="end" fill="#1a1a1a" stroke="#1a1a1a" font-weight="normal" font-style="normal" >MP4</text>
<line x1="492.80" y1="774.80" x2="495.70" y2="774.80" stroke="#333" stroke-width="0.8" />
<text x="589.3" y="778.32" font-size="8.4" fill="#1a1a1a" stroke="#1a1a1a"><tspan font-style="italic">P</tspan> = 2.2×10<tspan font-size="4.6" dy="-3.1" style="stroke-width:0.05px">-16</tspan></text>
<line x1="499.50" y1="796.30" x2="499.50" y2="798.80" stroke="#333" stroke-width="0.8" />
<text x="496.20" y="808.12" font-size="8.4" text-anchor="middle" fill="#1a1a1a" stroke="#1a1a1a" font-weight="normal" font-style="normal" >−0.4</text>
<line x1="520.45" y1="796.30" x2="520.45" y2="798.80" stroke="#333" stroke-width="0.8" />
<text x="517.40" y="808.12" font-size="8.4" text-anchor="middle" fill="#1a1a1a" stroke="#1a1a1a" font-weight="normal" font-style="normal" >−0.2</text>
<line x1="541.40" y1="796.30" x2="541.40" y2="798.80" stroke="#333" stroke-width="0.8" />
<text x="542.50" y="808.12" font-size="8.4" text-anchor="middle" fill="#1a1a1a" stroke="#1a1a1a" font-weight="normal" font-style="normal" >0.0</text>
<line x1="562.35" y1="796.30" x2="562.35" y2="798.80" stroke="#333" stroke-width="0.8" />
<text x="564.20" y="808.12" font-size="8.4" text-anchor="middle" fill="#1a1a1a" stroke="#1a1a1a" font-weight="normal" font-style="normal" >0.2</text>
<line x1="583.30" y1="796.30" x2="583.30" y2="798.80" stroke="#333" stroke-width="0.8" />
<text x="584.30" y="808.12" font-size="8.4" text-anchor="middle" fill="#1a1a1a" stroke="#1a1a1a" font-weight="normal" font-style="normal" >0.4</text>
<text x="542.40" y="816.82" font-size="8.4" text-anchor="middle" fill="#1a1a1a" stroke="#1a1a1a" font-weight="normal" font-style="normal" >Correlation Coefficient</text>
<text x="644.80" y="669.02" font-size="8.4" text-anchor="start" fill="#1a1a1a" stroke="#1a1a1a" font-weight="normal" font-style="normal" >Correlation</text>
<circle cx="647.80" cy="681.10" r="1.50" fill="#000" />
<text x="652.70" y="683.69" font-size="7.2" text-anchor="start" fill="#333" stroke="#333" font-weight="normal" font-style="normal" >0.1</text>
<circle cx="647.80" cy="690.70" r="1.85" fill="#000" />
<text x="652.70" y="693.29" font-size="7.2" text-anchor="start" fill="#333" stroke="#333" font-weight="normal" font-style="normal" >0.2</text>
<circle cx="647.80" cy="700.20" r="2.50" fill="#000" />
<text x="652.70" y="702.79" font-size="7.2" text-anchor="start" fill="#333" stroke="#333" font-weight="normal" font-style="normal" >0.3</text>
<circle cx="647.80" cy="709.80" r="3.00" fill="#000" />
<text x="652.70" y="712.39" font-size="7.2" text-anchor="start" fill="#333" stroke="#333" font-weight="normal" font-style="normal" >0.4</text>
<circle cx="647.80" cy="719.50" r="3.50" fill="#000" />
<text x="652.70" y="722.09" font-size="7.2" text-anchor="start" fill="#333" stroke="#333" font-weight="normal" font-style="normal" >0.5</text>
</svg>
</body></html>
